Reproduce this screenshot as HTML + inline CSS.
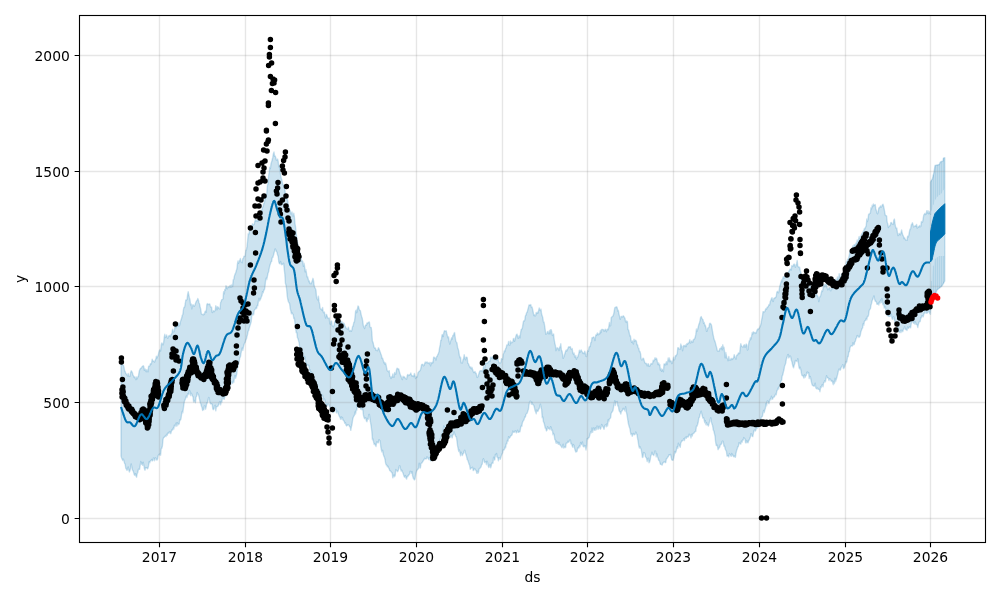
<!DOCTYPE html>
<html><head><meta charset="utf-8"><title>Forecast</title>
<style>html,body{margin:0;padding:0;background:#fff}svg{display:block;will-change:transform}</style></head>
<body>
<svg width="1000" height="600" viewBox="0 0 1000 600">
<rect width="1000" height="600" fill="#fff"/>
<path d="M121,361.6 L121.6,363.9 L122.2,364.3 L122.8,365 L123.4,365.1 L124,367.1 L124.6,370.7 L125.2,371.6 L125.8,373.7 L126.4,373.9 L127,375 L127.6,375.9 L128.2,373.4 L128.8,376.1 L129.4,376.3 L130,376.2 L130.6,372.4 L131.2,370.8 L131.8,371.4 L132.4,372.8 L133,375.1 L133.6,375.9 L134.2,377.6 L134.8,376.7 L135.4,378.5 L136,379.7 L136.6,376.9 L137.2,378.9 L137.8,376.9 L138.4,376.3 L139,372.4 L139.6,370 L140.2,368.9 L140.8,368.1 L141.4,368.1 L142,366.7 L142.6,366.2 L143.2,365.7 L143.8,366.7 L144.4,370.3 L145,368.8 L145.6,370.4 L146.2,371.8 L146.8,369.6 L147.4,370.5 L148,371.9 L148.6,366.2 L149.2,366.2 L149.8,365.7 L150.4,363.6 L151,364.3 L151.6,362.8 L152.2,359.2 L152.8,360.9 L153.4,361 L154,361.4 L154.6,362 L155.2,360.3 L155.8,359.1 L156.4,356.1 L157,358 L157.6,356.4 L158.2,355.4 L158.8,352.3 L159.4,350.6 L160,349.6 L160.6,351.1 L161.2,345.2 L161.8,342.9 L162.4,343.8 L163,344.9 L163.6,342.8 L164.2,337.3 L164.8,334.3 L165.4,337.5 L166,336.4 L166.6,335 L167.2,337.5 L167.8,338.2 L168.4,336.6 L169,335.7 L169.6,335.4 L170.2,336.7 L170.8,335.1 L171.4,334 L172,333.2 L172.6,329.1 L173.2,331.8 L173.8,331.8 L174.4,330.7 L175,325.9 L175.6,325.9 L176.2,327.9 L176.8,323.8 L177.4,324.6 L178,326.4 L178.6,322.9 L179.2,325.9 L179.8,324.8 L180.4,321.8 L181,319.9 L181.6,318.3 L182.2,315.4 L182.8,314.6 L183.4,309.9 L184,307.2 L184.6,307.2 L185.2,304 L185.8,300 L186.4,300.1 L187,299.5 L187.6,294.7 L188.2,291.6 L188.8,295 L189.4,297.7 L190,299.8 L190.6,304.8 L191.2,304.1 L191.8,308.9 L192.4,305.9 L193,304.6 L193.6,305.7 L194.2,306.3 L194.8,305.4 L195.4,303.6 L196,302 L196.6,300.8 L197.2,300.4 L197.8,298.4 L198.4,299.9 L199,302.7 L199.6,304.1 L200.2,307.3 L200.8,309.5 L201.4,314 L202,314.2 L202.6,314.5 L203.2,314.9 L203.8,314 L204.4,314.4 L205,311.6 L205.6,311 L206.2,312.2 L206.8,304.7 L207.4,303.6 L208,304.6 L208.6,304.3 L209.2,303.9 L209.8,303.9 L210.4,306.4 L211,307.4 L211.6,307.1 L212.2,312.5 L212.8,311.7 L213.4,310.7 L214,311.8 L214.6,311 L215.2,310.5 L215.8,305.7 L216.4,307.2 L217,309.8 L217.6,306.8 L218.2,307.1 L218.8,308.5 L219.4,308.4 L220,309 L220.6,302.5 L221.2,301.2 L221.8,299.6 L222.4,299.5 L223,299 L223.6,291.6 L224.2,293.9 L224.8,289.4 L225.4,290.1 L226,285.7 L226.6,287.1 L227.2,288.9 L227.8,287.2 L228.4,286.8 L229,287.4 L229.6,286.3 L230.2,285.3 L230.8,287.3 L231.4,287 L232,284.4 L232.6,286.6 L233.2,279.8 L233.8,279.4 L234.4,276.1 L235,274.2 L235.6,273.2 L236.2,270.8 L236.8,269.3 L237.4,264 L238,260.9 L238.6,263.3 L239.2,261.2 L239.8,260 L240.4,258.5 L241,261.9 L241.6,261.9 L242.2,262.7 L242.8,258.7 L243.4,258.4 L244,256.1 L244.6,256.2 L245.2,256 L245.8,250.3 L246.4,249.9 L247,246.4 L247.6,241 L248.2,233.8 L248.8,234.4 L249.4,231.4 L250,228.9 L250.6,228.8 L251.2,227.9 L251.8,228.5 L252.4,223.8 L253,224.8 L253.6,224.8 L254.2,224.3 L254.8,221.5 L255.4,219.4 L256,221.3 L256.6,220.4 L257.2,219.8 L257.8,221.5 L258.4,219.2 L259,215 L259.6,216.3 L260.2,213.6 L260.8,214.8 L261.4,212.9 L262,209.2 L262.6,207.3 L263.2,206.4 L263.8,203.4 L264.4,202.7 L265,198.7 L265.6,197.5 L266.2,195.9 L266.8,192.9 L267.4,185.8 L268,183.5 L268.6,175.9 L269.2,172.2 L269.8,167.1 L270.4,168.5 L271,163.6 L271.6,162.1 L272.2,159.6 L272.8,157.2 L273.4,153.7 L274,152 L274.6,156.4 L275.2,156.1 L275.8,157.7 L276.4,160 L277,159.9 L277.6,159.1 L278.2,161.3 L278.8,166.8 L279.4,166.1 L280,169.3 L280.6,174.7 L281.2,178 L281.8,179.7 L282.4,183.1 L283,184.8 L283.6,184.8 L284.2,185.7 L284.8,189.1 L285.4,194.3 L286,195.4 L286.6,197 L287.2,199.6 L287.8,201 L288.4,205.5 L289,207.2 L289.6,212 L290.2,210.3 L290.8,213.8 L291.4,213.7 L292,211.9 L292.6,215.9 L293.2,215.9 L293.8,213.1 L294.4,217.1 L295,223.5 L295.6,227.3 L296.2,233.3 L296.8,238.1 L297.4,241.9 L298,244.8 L298.6,249.6 L299.2,252.4 L299.8,255.3 L300.4,253.1 L301,257.9 L301.6,261.3 L302.2,260.8 L302.8,261.4 L303.4,266.4 L304,263.2 L304.6,266.6 L305.2,271.9 L305.8,269.4 L306.4,272.5 L307,276.9 L307.6,276.6 L308.2,279 L308.8,281.7 L309.4,281.1 L310,283.6 L310.6,283.5 L311.2,283.8 L311.8,282 L312.4,280.6 L313,278.3 L313.6,281.2 L314.2,285.8 L314.8,287.7 L315.4,288.4 L316,290.2 L316.6,297.6 L317.2,299 L317.8,299.9 L318.4,296.2 L319,301.4 L319.6,304.2 L320.2,308.4 L320.8,309.1 L321.4,309.1 L322,310.4 L322.6,307.5 L323.2,311.8 L323.8,312.8 L324.4,312 L325,315.5 L325.6,318.1 L326.2,314.4 L326.8,314.9 L327.4,317.1 L328,318.3 L328.6,318.4 L329.2,318 L329.8,323.5 L330.4,324.2 L331,321.5 L331.6,320.9 L332.2,325.7 L332.8,325.7 L333.4,326.8 L334,325.3 L334.6,321.8 L335.2,322.1 L335.8,318.1 L336.4,318.7 L337,319.7 L337.6,320.8 L338.2,319.1 L338.8,319.7 L339.4,321 L340,321.5 L340.6,322.2 L341.2,321.9 L341.8,321.3 L342.4,323.6 L343,323.8 L343.6,323 L344.2,323.7 L344.8,325.5 L345.4,326.6 L346,327.9 L346.6,328.5 L347.2,329 L347.8,328.8 L348.4,327.1 L349,329.4 L349.6,331.4 L350.2,331.2 L350.8,330.3 L351.4,331.2 L352,329.4 L352.6,326.4 L353.2,325.9 L353.8,322.4 L354.4,322 L355,317.1 L355.6,311.1 L356.2,310 L356.8,312.7 L357.4,309.2 L358,305.9 L358.6,306.6 L359.2,309.3 L359.8,310.4 L360.4,310.7 L361,314 L361.6,316.4 L362.2,318.1 L362.8,321.6 L363.4,326 L364,327.1 L364.6,328.6 L365.2,325.8 L365.8,324.9 L366.4,325.3 L367,323 L367.6,323.6 L368.2,322.3 L368.8,322.4 L369.4,322 L370,327 L370.6,327.5 L371.2,327.4 L371.8,332.2 L372.4,341.3 L373,342.1 L373.6,345 L374.2,347.5 L374.8,348.2 L375.4,348 L376,350.4 L376.6,350.3 L377.2,350.8 L377.8,349.9 L378.4,347.7 L379,348.7 L379.6,350.6 L380.2,352.1 L380.8,353.8 L381.4,355.2 L382,358.4 L382.6,358.1 L383.2,359.9 L383.8,362.8 L384.4,362.2 L385,364.2 L385.6,363 L386.2,365.4 L386.8,369 L387.4,370.9 L388,371.2 L388.6,371.8 L389.2,370.7 L389.8,376.3 L390.4,376.8 L391,378.6 L391.6,376.7 L392.2,377.3 L392.8,374 L393.4,376.5 L394,377.2 L394.6,372.5 L395.2,373.3 L395.8,374.2 L396.4,370.3 L397,368.3 L397.6,368.4 L398.2,369.2 L398.8,369 L399.4,371.8 L400,373.6 L400.6,375.4 L401.2,376.6 L401.8,378.8 L402.4,379.6 L403,376.3 L403.6,377 L404.2,376.8 L404.8,377.3 L405.4,378.6 L406,378.7 L406.6,379.1 L407.2,375.5 L407.8,374.4 L408.4,375.6 L409,375.3 L409.6,374.7 L410.2,374.4 L410.8,372.9 L411.4,375.1 L412,376 L412.6,376.1 L413.2,375.6 L413.8,376.7 L414.4,373.5 L415,375.6 L415.6,378.5 L416.2,376.7 L416.8,377.3 L417.4,376.5 L418,372.8 L418.6,372.3 L419.2,371.1 L419.8,370.9 L420.4,370.1 L421,367.8 L421.6,364.7 L422.2,364.3 L422.8,364.5 L423.4,365.8 L424,365.5 L424.6,363.7 L425.2,362 L425.8,362.9 L426.4,362.6 L427,361.8 L427.6,363 L428.2,362.7 L428.8,363.2 L429.4,363.8 L430,362.3 L430.6,365.9 L431.2,362.6 L431.8,363.5 L432.4,362 L433,362.8 L433.6,357.2 L434.2,357.3 L434.8,358 L435.4,358 L436,360.1 L436.6,356.7 L437.2,356.3 L437.8,354.6 L438.4,353.5 L439,351.6 L439.6,347.5 L440.2,345.3 L440.8,340.2 L441.4,340.2 L442,334.9 L442.6,334.6 L443.2,336.6 L443.8,332.6 L444.4,330.7 L445,331 L445.6,331.2 L446.2,330.8 L446.8,333.4 L447.4,335.7 L448,337.7 L448.6,336.9 L449.2,341.6 L449.8,344.1 L450.4,341.6 L451,340.1 L451.6,337.7 L452.2,339.1 L452.8,335.5 L453.4,335.8 L454,333.3 L454.6,332.6 L455.2,337 L455.8,341.2 L456.4,342.2 L457,343 L457.6,347.4 L458.2,349 L458.8,351.4 L459.4,355.6 L460,357.8 L460.6,357.2 L461.2,362.9 L461.8,362.6 L462.4,362.9 L463,359.6 L463.6,358.6 L464.2,354.7 L464.8,358.3 L465.4,359.8 L466,357.4 L466.6,357.1 L467.2,357.7 L467.8,363.4 L468.4,363.6 L469,365.3 L469.6,366.4 L470.2,367.8 L470.8,366.9 L471.4,368.8 L472,367.5 L472.6,369.6 L473.2,371.3 L473.8,372.6 L474.4,372.3 L475,371.5 L475.6,373.3 L476.2,373.3 L476.8,377 L477.4,377.4 L478,376.5 L478.6,374.4 L479.2,372.7 L479.8,371 L480.4,370.7 L481,371 L481.6,370.8 L482.2,370.2 L482.8,371.8 L483.4,367.2 L484,366.1 L484.6,369.9 L485.2,363.4 L485.8,362.9 L486.4,363.4 L487,363.2 L487.6,363.1 L488.2,361.7 L488.8,361.7 L489.4,360.9 L490,361.3 L490.6,357.2 L491.2,357.3 L491.8,358.6 L492.4,357.3 L493,356.6 L493.6,359 L494.2,357.6 L494.8,359.1 L495.4,359.6 L496,359 L496.6,360.1 L497.2,360 L497.8,358.5 L498.4,360.8 L499,362.9 L499.6,362.7 L500.2,363 L500.8,362.7 L501.4,358.8 L502,358.7 L502.6,359.4 L503.2,354.6 L503.8,352.9 L504.4,350.7 L505,351.4 L505.6,348.6 L506.2,347.8 L506.8,345 L507.4,344.9 L508,344.6 L508.6,341.4 L509.2,345.2 L509.8,345.4 L510.4,340.9 L511,343.1 L511.6,342.2 L512.2,342.5 L512.8,342 L513.4,338.5 L514,338.9 L514.6,341.4 L515.2,338.6 L515.8,336.5 L516.4,334.8 L517,334.1 L517.6,335.9 L518.2,338.4 L518.8,336.8 L519.4,335.6 L520,337.9 L520.6,332.7 L521.2,329.5 L521.8,329.1 L522.4,327.9 L523,323.7 L523.6,320.9 L524.2,321.1 L524.8,319.9 L525.4,315.8 L526,315 L526.6,312.7 L527.2,312.1 L527.8,309.6 L528.4,307.4 L529,304.9 L529.6,304.9 L530.2,305.3 L530.8,304.6 L531.4,307.4 L532,306.9 L532.6,309.2 L533.2,312.1 L533.8,315.5 L534.4,314.7 L535,316 L535.6,315.7 L536.2,312.5 L536.8,313.4 L537.4,312.2 L538,313.1 L538.6,310.6 L539.2,308 L539.8,309.9 L540.4,310.6 L541,309.1 L541.6,314 L542.2,315.7 L542.8,317.6 L543.4,321.9 L544,322 L544.6,325.4 L545.2,329.5 L545.8,334.2 L546.4,333.7 L547,333.5 L547.6,331.5 L548.2,332 L548.8,333.9 L549.4,330.5 L550,333.8 L550.6,329.7 L551.2,329.8 L551.8,332 L552.4,335.5 L553,334.4 L553.6,334 L554.2,339.5 L554.8,343.1 L555.4,345.4 L556,350.7 L556.6,348.3 L557.2,347.7 L557.8,348.8 L558.4,348.5 L559,350.6 L559.6,346.9 L560.2,347.5 L560.8,343.7 L561.4,350.1 L562,351.1 L562.6,354.4 L563.2,358.3 L563.8,356.9 L564.4,355.3 L565,353.3 L565.6,351.2 L566.2,350.1 L566.8,351 L567.4,349.5 L568,348.3 L568.6,346.8 L569.2,347.2 L569.8,346.7 L570.4,346.8 L571,349 L571.6,349.2 L572.2,348.5 L572.8,353.2 L573.4,354.1 L574,352.9 L574.6,356.5 L575.2,357.4 L575.8,355.4 L576.4,359.2 L577,357.6 L577.6,357.3 L578.2,355.4 L578.8,353.6 L579.4,350.1 L580,352.3 L580.6,350.9 L581.2,349.9 L581.8,351.4 L582.4,352 L583,353.6 L583.6,352.9 L584.2,353.7 L584.8,351.1 L585.4,353.4 L586,356.4 L586.6,356.5 L587.2,352.6 L587.8,350.5 L588.4,351.3 L589,347.4 L589.6,346.5 L590.2,346.6 L590.8,342.8 L591.4,342.2 L592,337.7 L592.6,337.8 L593.2,337.2 L593.8,337 L594.4,338.3 L595,340.5 L595.6,336.1 L596.2,334.5 L596.8,335.3 L597.4,332.9 L598,334.3 L598.6,334.7 L599.2,333.2 L599.8,333.7 L600.4,330.4 L601,332.7 L601.6,329.5 L602.2,329.5 L602.8,329.5 L603.4,329.6 L604,331.4 L604.6,330.5 L605.2,329.2 L605.8,330 L606.4,331.8 L607,329.6 L607.6,329.2 L608.2,329.8 L608.8,327 L609.4,322.5 L610,325.9 L610.6,325.6 L611.2,317.7 L611.8,317 L612.4,316.4 L613,316 L613.6,314.3 L614.2,311.1 L614.8,307.7 L615.4,307.2 L616,307.5 L616.6,306.7 L617.2,307.8 L617.8,311.1 L618.4,310.4 L619,314.1 L619.6,316.4 L620.2,319.2 L620.8,317.5 L621.4,316.4 L622,316.5 L622.6,316.9 L623.2,315.8 L623.8,316.3 L624.4,317.4 L625,318.3 L625.6,321.9 L626.2,320.8 L626.8,322.5 L627.4,321.4 L628,329.6 L628.6,329.8 L629.2,332.5 L629.8,335.9 L630.4,335.7 L631,340.1 L631.6,342.4 L632.2,340.8 L632.8,342.4 L633.4,344 L634,339.1 L634.6,341.2 L635.2,340.5 L635.8,340.2 L636.4,341.4 L637,344.8 L637.6,344.8 L638.2,347.9 L638.8,348.2 L639.4,351.5 L640,351.4 L640.6,353.8 L641.2,358.9 L641.8,360 L642.4,359.7 L643,358.1 L643.6,358.5 L644.2,360.6 L644.8,362.8 L645.4,363.1 L646,363.8 L646.6,363.4 L647.2,365.9 L647.8,364.3 L648.4,363.8 L649,366.3 L649.6,366.2 L650.2,365.5 L650.8,363.9 L651.4,363.4 L652,364.1 L652.6,363.4 L653.2,360.1 L653.8,361 L654.4,360.5 L655,357.8 L655.6,359.3 L656.2,358.2 L656.8,359 L657.4,361.9 L658,364.5 L658.6,363 L659.2,365 L659.8,364.4 L660.4,370.1 L661,368.4 L661.6,371.3 L662.2,369.3 L662.8,369.9 L663.4,371.7 L664,364 L664.6,364 L665.2,364.9 L665.8,363.6 L666.4,361.6 L667,364.7 L667.6,361.9 L668.2,357.9 L668.8,360.9 L669.4,358 L670,361.8 L670.6,360.4 L671.2,361.3 L671.8,363.6 L672.4,362.7 L673,360.1 L673.6,357.2 L674.2,359.9 L674.8,359.2 L675.4,355.6 L676,356.1 L676.6,354.8 L677.2,353.7 L677.8,347.7 L678.4,347.8 L679,348.9 L679.6,349.2 L680.2,349.4 L680.8,344 L681.4,346.1 L682,347.2 L682.6,350.7 L683.2,346.2 L683.8,345.4 L684.4,345.6 L685,346.8 L685.6,344.9 L686.2,346.6 L686.8,343.8 L687.4,344.3 L688,343 L688.6,343.4 L689.2,341.9 L689.8,339.7 L690.4,343 L691,342.6 L691.6,340.9 L692.2,341.2 L692.8,342.4 L693.4,339.4 L694,339.5 L694.6,338.8 L695.2,337.3 L695.8,334.2 L696.4,329 L697,331.4 L697.6,329.5 L698.2,327.1 L698.8,324.6 L699.4,323.3 L700,320.6 L700.6,317.4 L701.2,316.6 L701.8,318 L702.4,319.3 L703,319.6 L703.6,323.4 L704.2,322.4 L704.8,325.9 L705.4,325.3 L706,328 L706.6,331.4 L707.2,330.8 L707.8,328 L708.4,327.7 L709,327.2 L709.6,323.4 L710.2,323.3 L710.8,323.9 L711.4,324.8 L712,328.1 L712.6,332 L713.2,335.1 L713.8,338 L714.4,340.2 L715,341.3 L715.6,343.7 L716.2,345.9 L716.8,348.2 L717.4,350.9 L718,351 L718.6,351.2 L719.2,351 L719.8,348.6 L720.4,348.5 L721,348.6 L721.6,346.7 L722.2,349.8 L722.8,344.8 L723.4,347.9 L724,347.2 L724.6,352.4 L725.2,357.9 L725.8,352.4 L726.4,355.6 L727,358.3 L727.6,358.8 L728.2,360.7 L728.8,356.5 L729.4,359.9 L730,360.2 L730.6,359.6 L731.2,358.3 L731.8,359.8 L732.4,358.4 L733,358.9 L733.6,357.8 L734.2,354.6 L734.8,356.9 L735.4,358 L736,359.2 L736.6,355.6 L737.2,354.8 L737.8,354.7 L738.4,352.9 L739,353.2 L739.6,353.6 L740.2,348.1 L740.8,343.7 L741.4,345.7 L742,346.6 L742.6,346.9 L743.2,347.1 L743.8,345.2 L744.4,344.7 L745,347.4 L745.6,345.8 L746.2,344 L746.8,345.1 L747.4,350 L748,349.5 L748.6,344.1 L749.2,341.1 L749.8,340.5 L750.4,337.7 L751,339 L751.6,336.2 L752.2,332.5 L752.8,334.1 L753.4,331.8 L754,332.6 L754.6,332.7 L755.2,332.4 L755.8,333.5 L756.4,332.4 L757,330.3 L757.6,329.1 L758.2,329.6 L758.8,328.6 L759.4,328 L760,326.4 L760.6,325.3 L761.2,322.7 L761.8,319 L762.4,316.3 L763,311.7 L763.6,311.8 L764.2,311.9 L764.8,311.6 L765.4,309.8 L766,308.4 L766.6,309.1 L767.2,307.2 L767.8,307 L768.4,306.1 L769,304.5 L769.6,305.1 L770.2,301.7 L770.8,300.4 L771.4,298.7 L772,297.7 L772.6,300.6 L773.2,301.5 L773.8,298.5 L774.4,297.9 L775,298.1 L775.6,297.1 L776.2,296.9 L776.8,292.4 L777.4,291.3 L778,292.2 L778.6,292.7 L779.2,289.6 L779.8,285.9 L780.4,284.3 L781,282.1 L781.6,279.9 L782.2,281.9 L782.8,278 L783.4,276.6 L784,278.4 L784.6,277.5 L785.2,275.4 L785.8,272.8 L786.4,273.1 L787,274.8 L787.6,273.4 L788.2,273.5 L788.8,271.3 L789.4,270.8 L790,269.1 L790.6,269.1 L791.2,270.1 L791.8,265.7 L792.4,266 L793,266.2 L793.6,264.5 L794.2,264 L794.8,265.2 L795.4,267.2 L796,265.3 L796.6,263.7 L797.2,260.5 L797.8,266.5 L798.4,266.7 L799,267.6 L799.6,267.2 L800.2,270.4 L800.8,272.3 L801.4,276.9 L802,281.2 L802.6,284.1 L803.2,286.3 L803.8,283.9 L804.4,286.2 L805,283.2 L805.6,279.8 L806.2,280.8 L806.8,279.7 L807.4,278.5 L808,278.7 L808.6,281.2 L809.2,280.5 L809.8,282.7 L810.4,286.8 L811,287.8 L811.6,287.6 L812.2,288.7 L812.8,289.5 L813.4,290.3 L814,292.1 L814.6,291.9 L815.2,288.6 L815.8,292 L816.4,292.5 L817,295.8 L817.6,295.6 L818.2,297.4 L818.8,301.6 L819.4,297.9 L820,296.6 L820.6,295.9 L821.2,293.2 L821.8,290.7 L822.4,291.6 L823,288.6 L823.6,285.5 L824.2,284.4 L824.8,286.7 L825.4,284.7 L826,283.9 L826.6,285.5 L827.2,287.8 L827.8,289.8 L828.4,289.2 L829,287.8 L829.6,287.5 L830.2,290.2 L830.8,290.7 L831.4,288.2 L832,288.6 L832.6,288.7 L833.2,287.9 L833.8,285.5 L834.4,282.5 L835,281.8 L835.6,279.1 L836.2,281.7 L836.8,280.6 L837.4,276.9 L838,279.4 L838.6,278.9 L839.2,273.7 L839.8,277.4 L840.4,276.9 L841,278.5 L841.6,273.6 L842.2,274.6 L842.8,274.5 L843.4,273.9 L844,273.5 L844.6,272.9 L845.2,267.3 L845.8,264.5 L846.4,262 L847,261.2 L847.6,259.6 L848.2,259.2 L848.8,257.2 L849.4,254.6 L850,251 L850.6,249.7 L851.2,250.8 L851.8,250 L852.4,247.9 L853,245.7 L853.6,247.7 L854.2,244.5 L854.8,244.9 L855.4,245.5 L856,242.9 L856.6,243.3 L857.2,239.9 L857.8,241.7 L858.4,240.6 L859,236.8 L859.6,238.7 L860.2,236.3 L860.8,238 L861.4,234.7 L862,233.5 L862.6,233.1 L863.2,231.2 L863.8,230.7 L864.4,228.4 L865,228.8 L865.6,227.1 L866.2,225.8 L866.8,219 L867.4,221.6 L868,219.3 L868.6,214.3 L869.2,214.2 L869.8,213.4 L870.4,212.8 L871,207.8 L871.6,208.9 L872.2,205.2 L872.8,206.7 L873.4,204 L874,205.5 L874.6,205.1 L875.2,204.6 L875.8,208.7 L876.4,210.7 L877,213.1 L877.6,213.7 L878.2,211.6 L878.8,208 L879.4,207.8 L880,207 L880.6,205.9 L881.2,207.1 L881.8,206.5 L882.4,204.7 L883,204.2 L883.6,206.2 L884.2,209.1 L884.8,212.5 L885.4,215.6 L886,215.6 L886.6,215.8 L887.2,222.2 L887.8,223.9 L888.4,227.6 L889,226.1 L889.6,225.8 L890.2,225.7 L890.8,222.7 L891.4,222.5 L892,223.8 L892.6,224.2 L893.2,224.5 L893.8,220.1 L894.4,219.1 L895,223.5 L895.6,227.1 L896.2,228.5 L896.8,228 L897.4,232.5 L898,235.5 L898.6,235.3 L899.2,233.4 L899.8,233.9 L900.4,234.8 L901,232.8 L901.6,230 L902.2,232.8 L902.8,235.2 L903.4,236 L904,238.5 L904.6,237.8 L905.2,239.1 L905.8,240 L906.4,240.4 L907,240.4 L907.6,236.1 L908.2,237 L908.8,235.2 L909.4,232 L910,229.2 L910.6,228.9 L911.2,225 L911.8,224.3 L912.4,222.7 L913,224.7 L913.6,226.9 L914.2,226.4 L914.8,226.2 L915.4,225.5 L916,226.3 L916.6,224.4 L917.2,228.1 L917.8,227.5 L918.4,226.5 L919,227.1 L919.6,225.5 L920.2,226.7 L920.8,226.4 L921.4,221.5 L922,222.5 L922.6,221.8 L923.2,218.3 L923.8,214.9 L924.4,214.1 L925,213.3 L925.6,214.6 L926.2,213.8 L926.8,210.6 L927.4,213 L928,210.7 L928.6,213.7 L929.2,211.6 L929.8,212.9 L930.4,213.8 L930.5,214.4 L930.5,182 L931,181.1 L931.5,180.2 L932,179.4 L932.5,178.5 L933,176.3 L933.5,174.2 L934,172 L934.5,168.8 L935,165.5 L935.5,165.4 L936,165.3 L936.5,165.2 L937,165 L937.5,164.9 L938,164.8 L938.5,164.7 L939,164.6 L939.5,163.9 L940,162.6 L940.5,161.9 L941,161.7 L941.5,161.5 L942,161.4 L942.5,161.2 L943,161 L943.5,158 L944,157.9 L944.5,157.8 L944.8,157.8 L944.8,281 L944.5,281.5 L944,282.4 L943.5,283.3 L943,284.2 L942.5,285.1 L942,286 L941.5,286.4 L941,286.8 L940.5,287.2 L940,287.6 L939.5,288 L939,288.4 L938.5,288.8 L938,289.2 L937.5,289.6 L937,290 L936.5,291.3 L936,292.7 L935.5,294 L935,295.3 L934.5,296.7 L934,298 L933.5,299.3 L933,300.7 L932.5,302 L932,303.3 L931.5,304.7 L931,306 L930.5,312 L930.5,314.2 L930.4,312.4 L929.8,313.7 L929.2,311.5 L928.6,311 L928,312 L927.4,313 L926.8,313.3 L926.2,312.3 L925.6,308.3 L925,313.2 L924.4,313.1 L923.8,314.3 L923.2,316.8 L922.6,316.1 L922,315.5 L921.4,317.7 L920.8,317.4 L920.2,321.6 L919.6,321.8 L919,322.2 L918.4,324.2 L917.8,327.6 L917.2,324.8 L916.6,324.5 L916,324.2 L915.4,322 L914.8,324.1 L914.2,321.7 L913.6,323.3 L913,322 L912.4,320.7 L911.8,321.1 L911.2,324 L910.6,327.9 L910,327.1 L909.4,326.7 L908.8,328.1 L908.2,328.5 L907.6,326.9 L907,330.5 L906.4,329.4 L905.8,329.6 L905.2,329.1 L904.6,326.8 L904,328.6 L903.4,329.2 L902.8,331.7 L902.2,330.7 L901.6,330.2 L901,332.5 L900.4,330.3 L899.8,332.5 L899.2,331.7 L898.6,331.7 L898,329.9 L897.4,326.4 L896.8,324.7 L896.2,322.3 L895.6,323.8 L895,322.4 L894.4,319.6 L893.8,317 L893.2,317 L892.6,319.3 L892,318.5 L891.4,314.7 L890.8,313.8 L890.2,316.3 L889.6,316.4 L889,316.6 L888.4,316.4 L887.8,313.5 L887.2,315.5 L886.6,314.7 L886,311.8 L885.4,306.9 L884.8,307.3 L884.2,308.1 L883.6,303.5 L883,304.9 L882.4,301.3 L881.8,298.5 L881.2,302.6 L880.6,300 L880,303.1 L879.4,301.9 L878.8,305 L878.2,303.1 L877.6,304.2 L877,304.3 L876.4,302.1 L875.8,301.2 L875.2,301.4 L874.6,298.9 L874,295.9 L873.4,297.2 L872.8,299.4 L872.2,300.6 L871.6,303.4 L871,305.3 L870.4,309 L869.8,309.3 L869.2,310.6 L868.6,314.9 L868,316.6 L867.4,316.4 L866.8,319.8 L866.2,318.4 L865.6,320.4 L865,320.7 L864.4,321.4 L863.8,325.3 L863.2,323.6 L862.6,328.1 L862,328.7 L861.4,330.4 L860.8,332.3 L860.2,335.6 L859.6,336.7 L859,337.4 L858.4,336.2 L857.8,336.3 L857.2,335.5 L856.6,338 L856,338.5 L855.4,341.2 L854.8,341.9 L854.2,344.6 L853.6,344.7 L853,342.7 L852.4,346 L851.8,345.7 L851.2,346.1 L850.6,346.2 L850,348 L849.4,351.9 L848.8,352 L848.2,356.6 L847.6,356.5 L847,361 L846.4,362.8 L845.8,361.6 L845.2,364.8 L844.6,366.9 L844,368.1 L843.4,368.6 L842.8,364.6 L842.2,365.8 L841.6,366.6 L841,367.9 L840.4,370.1 L839.8,370.1 L839.2,369 L838.6,369.8 L838,372.9 L837.4,375.3 L836.8,377.8 L836.2,379.4 L835.6,381.5 L835,378.1 L834.4,383.6 L833.8,381.3 L833.2,384.7 L832.6,382.2 L832,380.4 L831.4,381.3 L830.8,380.2 L830.2,379 L829.6,378.7 L829,380.6 L828.4,378.1 L827.8,377.8 L827.2,377.9 L826.6,375.7 L826,378.6 L825.4,381.8 L824.8,380.7 L824.2,382.3 L823.6,382.8 L823,386.8 L822.4,384.8 L821.8,385.1 L821.2,387.6 L820.6,386.9 L820,391.7 L819.4,389.6 L818.8,389.4 L818.2,389.2 L817.6,388 L817,388.9 L816.4,388.6 L815.8,387.8 L815.2,383.1 L814.6,386 L814,386.2 L813.4,385.9 L812.8,385.4 L812.2,385.2 L811.6,382.8 L811,380 L810.4,376.9 L809.8,376.4 L809.2,378.6 L808.6,372.5 L808,373.5 L807.4,372 L806.8,372.4 L806.2,375.5 L805.6,376 L805,377.6 L804.4,374.8 L803.8,378.1 L803.2,376.1 L802.6,375.7 L802,375.5 L801.4,373.2 L800.8,369.7 L800.2,367.1 L799.6,368.9 L799,367.4 L798.4,363.3 L797.8,358.6 L797.2,361.6 L796.6,361.1 L796,360.7 L795.4,360.5 L794.8,363.7 L794.2,365.1 L793.6,367.8 L793,366.7 L792.4,364 L791.8,361.4 L791.2,359.7 L790.6,356.6 L790,356 L789.4,356.9 L788.8,357.9 L788.2,354.4 L787.6,355.2 L787,357.6 L786.4,358.9 L785.8,362.9 L785.2,364.8 L784.6,365.8 L784,369.8 L783.4,371.9 L782.8,374.9 L782.2,375.9 L781.6,380.6 L781,380.8 L780.4,383.7 L779.8,386.1 L779.2,386.3 L778.6,389 L778,388 L777.4,390.2 L776.8,391.2 L776.2,394.8 L775.6,394.3 L775,395.3 L774.4,396.9 L773.8,397.2 L773.2,397.2 L772.6,399.2 L772,398.8 L771.4,396.3 L770.8,399.8 L770.2,399.1 L769.6,400.3 L769,403.7 L768.4,402.6 L767.8,401 L767.2,401.2 L766.6,405.8 L766,403.4 L765.4,408.3 L764.8,410.1 L764.2,412.5 L763.6,410.5 L763,413.2 L762.4,416.5 L761.8,416.5 L761.2,417.7 L760.6,421.9 L760,422.1 L759.4,422.3 L758.8,425.8 L758.2,427.5 L757.6,427.2 L757,428.4 L756.4,428 L755.8,430.2 L755.2,431 L754.6,430 L754,430.7 L753.4,433.3 L752.8,436.6 L752.2,436.4 L751.6,434.6 L751,433.7 L750.4,436.9 L749.8,438.4 L749.2,440 L748.6,440.9 L748,442.9 L747.4,442.2 L746.8,440.4 L746.2,442.8 L745.6,442.8 L745,438.9 L744.4,438.5 L743.8,437.5 L743.2,440.1 L742.6,439.9 L742,442.2 L741.4,441.2 L740.8,444.1 L740.2,443.8 L739.6,443.5 L739,442.7 L738.4,446.5 L737.8,446.7 L737.2,449 L736.6,450.6 L736,453.4 L735.4,457.3 L734.8,455.9 L734.2,456.9 L733.6,456.7 L733,455.1 L732.4,455.4 L731.8,453.5 L731.2,456.4 L730.6,455.3 L730,454.5 L729.4,453.5 L728.8,457 L728.2,455.7 L727.6,455.8 L727,456 L726.4,451.2 L725.8,450.3 L725.2,449 L724.6,446.2 L724,446.4 L723.4,442.6 L722.8,441.1 L722.2,441.4 L721.6,443.7 L721,444.6 L720.4,444.4 L719.8,447 L719.2,447.8 L718.6,448.6 L718,449.7 L717.4,445.2 L716.8,445.7 L716.2,445.4 L715.6,442 L715,436 L714.4,433.5 L713.8,430.9 L713.2,429.8 L712.6,425.6 L712,424 L711.4,422.1 L710.8,417.8 L710.2,419.6 L709.6,421.5 L709,423.9 L708.4,426 L707.8,425.1 L707.2,425.1 L706.6,422.7 L706,424.9 L705.4,420.8 L704.8,422.8 L704.2,420.3 L703.6,417.6 L703,418.2 L702.4,416.4 L701.8,413.9 L701.2,411.3 L700.6,413 L700,414.6 L699.4,417.5 L698.8,417.8 L698.2,422.3 L697.6,424.5 L697,426.3 L696.4,426.3 L695.8,431.4 L695.2,431.5 L694.6,432.2 L694,433.2 L693.4,433.4 L692.8,433.8 L692.2,436.1 L691.6,434.3 L691,438 L690.4,435.1 L689.8,435.2 L689.2,434.2 L688.6,436.2 L688,437.2 L687.4,436.4 L686.8,436.9 L686.2,438.4 L685.6,437.2 L685,438 L684.4,440.6 L683.8,438.6 L683.2,440.1 L682.6,440.9 L682,440.6 L681.4,442 L680.8,442.8 L680.2,447.4 L679.6,445.2 L679,446 L678.4,443.1 L677.8,448.4 L677.2,446.7 L676.6,449.2 L676,451.8 L675.4,453 L674.8,451.5 L674.2,455.6 L673.6,458.4 L673,460.4 L672.4,460.2 L671.8,459.9 L671.2,457.6 L670.6,454.5 L670,454.7 L669.4,455.1 L668.8,454.9 L668.2,456.9 L667.6,457.2 L667,458.5 L666.4,458.7 L665.8,462.4 L665.2,462.7 L664.6,461.6 L664,461.8 L663.4,462.7 L662.8,462.9 L662.2,465.1 L661.6,464.6 L661,464.3 L660.4,464.4 L659.8,462.3 L659.2,460.1 L658.6,460.2 L658,457.9 L657.4,456.4 L656.8,453.6 L656.2,456.9 L655.6,451.6 L655,451 L654.4,453.4 L653.8,455.6 L653.2,454.7 L652.6,454.6 L652,452.2 L651.4,454.8 L650.8,456 L650.2,459.9 L649.6,462.1 L649,462.8 L648.4,458.1 L647.8,458.8 L647.2,461.6 L646.6,458.5 L646,457.4 L645.4,456.7 L644.8,453.3 L644.2,452.9 L643.6,452.6 L643,457.1 L642.4,457.5 L641.8,453.2 L641.2,449.4 L640.6,448.3 L640,446.8 L639.4,448.1 L638.8,446 L638.2,441.8 L637.6,438.6 L637,434.7 L636.4,433.6 L635.8,431.9 L635.2,434.1 L634.6,434.6 L634,434.7 L633.4,433.4 L632.8,434.3 L632.2,436.4 L631.6,433.6 L631,434.6 L630.4,431.9 L629.8,428.2 L629.2,426.7 L628.6,424.6 L628,421.5 L627.4,417.3 L626.8,414 L626.2,411.3 L625.6,406.8 L625,411.1 L624.4,409.1 L623.8,409.4 L623.2,408.3 L622.6,410.1 L622,411 L621.4,411.3 L620.8,414 L620.2,411.8 L619.6,411.7 L619,410.3 L618.4,406.1 L617.8,406 L617.2,401.4 L616.6,402.3 L616,401.7 L615.4,405.5 L614.8,400.7 L614.2,404.2 L613.6,406.8 L613,410.6 L612.4,411.5 L611.8,412.4 L611.2,413.3 L610.6,417.8 L610,418.6 L609.4,418.9 L608.8,421.7 L608.2,419.6 L607.6,426 L607,423.6 L606.4,426.7 L605.8,424.9 L605.2,424.9 L604.6,426.5 L604,429.4 L603.4,427.6 L602.8,426.7 L602.2,425.4 L601.6,424.5 L601,428 L600.4,429.3 L599.8,428.1 L599.2,426.1 L598.6,428.3 L598,429.5 L597.4,426.2 L596.8,426.1 L596.2,429.7 L595.6,427.8 L595,430.4 L594.4,430 L593.8,427.8 L593.2,429.7 L592.6,432.3 L592,428 L591.4,432.8 L590.8,431.6 L590.2,433.5 L589.6,436.1 L589,437.7 L588.4,437.7 L587.8,439.2 L587.2,438.6 L586.6,445.6 L586,450 L585.4,446.2 L584.8,445.4 L584.2,446.8 L583.6,446.7 L583,446.1 L582.4,441.9 L581.8,444.5 L581.2,444.5 L580.6,442.5 L580,446.9 L579.4,445.8 L578.8,448 L578.2,447.4 L577.6,448.6 L577,451.5 L576.4,451.7 L575.8,452.1 L575.2,450.6 L574.6,448.4 L574,445.6 L573.4,444.6 L572.8,447.3 L572.2,446 L571.6,443.5 L571,443.9 L570.4,440.2 L569.8,439.9 L569.2,441.3 L568.6,442.3 L568,441.2 L567.4,442.7 L566.8,443.2 L566.2,443.3 L565.6,447.6 L565,446.9 L564.4,447.3 L563.8,448.1 L563.2,444.1 L562.6,446.2 L562,447.7 L561.4,446.6 L560.8,445.9 L560.2,444.8 L559.6,444.7 L559,442.2 L558.4,444.4 L557.8,442.3 L557.2,443.4 L556.6,441.2 L556,443.2 L555.4,440 L554.8,439.6 L554.2,434.8 L553.6,433.6 L553,434.8 L552.4,430.1 L551.8,430.4 L551.2,427.7 L550.6,426.7 L550,429.7 L549.4,428.3 L548.8,428.7 L548.2,428.5 L547.6,426.6 L547,430.2 L546.4,430.9 L545.8,428.4 L545.2,428.1 L544.6,425 L544,422.8 L543.4,421.7 L542.8,416.9 L542.2,417.8 L541.6,409.6 L541,407.2 L540.4,404.1 L539.8,406.3 L539.2,408.7 L538.6,409.2 L538,411.2 L537.4,411.2 L536.8,410.1 L536.2,413.8 L535.6,411.7 L535,410.6 L534.4,407.5 L533.8,405.5 L533.2,404.5 L532.6,404.6 L532,402.1 L531.4,404.3 L530.8,401.6 L530.2,401.2 L529.6,402.1 L529,405 L528.4,409.6 L527.8,411.1 L527.2,413 L526.6,413.7 L526,414.2 L525.4,417 L524.8,416.8 L524.2,419.3 L523.6,420.5 L523,421.2 L522.4,422.7 L521.8,426.3 L521.2,425.9 L520.6,427.9 L520,431.7 L519.4,431.8 L518.8,432.2 L518.2,432.4 L517.6,430.2 L517,431.4 L516.4,432.9 L515.8,431.5 L515.2,430.8 L514.6,432.1 L514,432.3 L513.4,432.2 L512.8,431.1 L512.2,434.3 L511.6,435.4 L511,435.7 L510.4,436.6 L509.8,437.7 L509.2,438.2 L508.6,436.7 L508,441.2 L507.4,440.5 L506.8,443.8 L506.2,443.8 L505.6,447.9 L505,447.1 L504.4,449.3 L503.8,450.2 L503.2,449.9 L502.6,453 L502,454.1 L501.4,455.6 L500.8,457.5 L500.2,459.4 L499.6,457.6 L499,457.6 L498.4,460.9 L497.8,457.7 L497.2,457.3 L496.6,453.5 L496,456.2 L495.4,454.3 L494.8,459.8 L494.2,460.1 L493.6,457.1 L493,463.3 L492.4,462.9 L491.8,463.2 L491.2,466.2 L490.6,467.9 L490,464.5 L489.4,465.9 L488.8,467.5 L488.2,465.9 L487.6,462.5 L487,461.2 L486.4,464.7 L485.8,461.6 L485.2,462.2 L484.6,462.6 L484,460.3 L483.4,458.7 L482.8,460 L482.2,464.2 L481.6,464.7 L481,467.2 L480.4,467.5 L479.8,468.6 L479.2,468.6 L478.6,472 L478,473.3 L477.4,471.1 L476.8,473.4 L476.2,470.5 L475.6,470.2 L475,469 L474.4,468.4 L473.8,470.2 L473.2,470.6 L472.6,467.2 L472,467.7 L471.4,468 L470.8,468.5 L470.2,469.2 L469.6,465.2 L469,464.1 L468.4,462.1 L467.8,460.3 L467.2,459.6 L466.6,456.6 L466,454.7 L465.4,452.9 L464.8,450.3 L464.2,450.9 L463.6,453.2 L463,453.7 L462.4,455.5 L461.8,454.1 L461.2,452.1 L460.6,455.9 L460,453.1 L459.4,450 L458.8,451.6 L458.2,449.1 L457.6,445.9 L457,441.3 L456.4,436.9 L455.8,436.6 L455.2,435.3 L454.6,433.6 L454,431.8 L453.4,434.5 L452.8,434.7 L452.2,437.9 L451.6,436.4 L451,435.3 L450.4,437.3 L449.8,436.2 L449.2,437.1 L448.6,434.3 L448,432.6 L447.4,430.4 L446.8,433 L446.2,429.4 L445.6,429.9 L445,427.9 L444.4,427 L443.8,426.1 L443.2,429.9 L442.6,432.5 L442,433.8 L441.4,434.6 L440.8,438.8 L440.2,438.7 L439.6,441.5 L439,446.2 L438.4,446.8 L437.8,447.8 L437.2,449.5 L436.6,452.5 L436,453.7 L435.4,453.9 L434.8,456.8 L434.2,460.2 L433.6,459.6 L433,459.3 L432.4,459 L431.8,459.5 L431.2,460.9 L430.6,460.9 L430,459.2 L429.4,457.4 L428.8,459.6 L428.2,458.4 L427.6,457.8 L427,456.8 L426.4,458.9 L425.8,458.7 L425.2,459 L424.6,458.2 L424,459.8 L423.4,460.4 L422.8,461.7 L422.2,462.5 L421.6,463.2 L421,463.6 L420.4,468 L419.8,467.5 L419.2,463.3 L418.6,468.6 L418,468.8 L417.4,470 L416.8,470.2 L416.2,472.4 L415.6,475.1 L415,478.9 L414.4,480 L413.8,479 L413.2,478.1 L412.6,475.9 L412,471.5 L411.4,473.4 L410.8,471.9 L410.2,471.2 L409.6,474 L409,474.9 L408.4,475.4 L407.8,476.7 L407.2,476.3 L406.6,479.1 L406,478.1 L405.4,475.4 L404.8,477.3 L404.2,476.8 L403.6,474.9 L403,473 L402.4,471.7 L401.8,470.2 L401.2,471.1 L400.6,469 L400,466.2 L399.4,465.8 L398.8,468.7 L398.2,470.6 L397.6,471.7 L397,470.6 L396.4,470.6 L395.8,469.6 L395.2,475.4 L394.6,476.8 L394,474.9 L393.4,476.3 L392.8,477.9 L392.2,472.6 L391.6,472.5 L391,471.6 L390.4,471 L389.8,470.7 L389.2,468.9 L388.6,467.7 L388,466.2 L387.4,466.8 L386.8,465.2 L386.2,464.9 L385.6,463.2 L385,459.5 L384.4,457.1 L383.8,456.1 L383.2,454.1 L382.6,450.2 L382,452.1 L381.4,450 L380.8,447.1 L380.2,441 L379.6,440.4 L379,439.7 L378.4,442.7 L377.8,442 L377.2,442.7 L376.6,442.1 L376,446.6 L375.4,445 L374.8,443.8 L374.2,444.5 L373.6,442.1 L373,439 L372.4,439.8 L371.8,431.4 L371.2,426.7 L370.6,422.8 L370,419.5 L369.4,414.5 L368.8,414.5 L368.2,419.3 L367.6,418.6 L367,421.7 L366.4,421.1 L365.8,417.8 L365.2,418.4 L364.6,418.7 L364,417.5 L363.4,414.9 L362.8,409.3 L362.2,410 L361.6,407.6 L361,409.4 L360.4,407.9 L359.8,407.2 L359.2,406.9 L358.6,407 L358,406.2 L357.4,404.6 L356.8,410.2 L356.2,410.1 L355.6,414 L355,412 L354.4,415.4 L353.8,416.2 L353.2,417.5 L352.6,419.9 L352,424.5 L351.4,426.7 L350.8,430.4 L350.2,427.1 L349.6,426.7 L349,425.4 L348.4,424.6 L347.8,424.7 L347.2,425.5 L346.6,425.9 L346,425 L345.4,422.8 L344.8,423.3 L344.2,421.3 L343.6,420.5 L343,420 L342.4,417.4 L341.8,419.2 L341.2,416.8 L340.6,419.4 L340,417.4 L339.4,416.4 L338.8,415 L338.2,413.6 L337.6,411.1 L337,411.9 L336.4,412.9 L335.8,409.1 L335.2,408.2 L334.6,410.2 L334,411.6 L333.4,412.5 L332.8,411.9 L332.2,408.2 L331.6,410.4 L331,411.3 L330.4,408 L329.8,407.4 L329.2,405.3 L328.6,404.3 L328,403.9 L327.4,405.2 L326.8,406.3 L326.2,406.3 L325.6,403.1 L325,400.4 L324.4,398.9 L323.8,400.8 L323.2,398.4 L322.6,395.2 L322,395.9 L321.4,394.9 L320.8,396.9 L320.2,393.1 L319.6,391.2 L319,389.6 L318.4,392.6 L317.8,391 L317.2,390.2 L316.6,384.2 L316,386.8 L315.4,384.3 L314.8,380.7 L314.2,381.4 L313.6,380.5 L313,376.9 L312.4,376.4 L311.8,372.7 L311.2,371.8 L310.6,373.9 L310,369.7 L309.4,370.2 L308.8,365.1 L308.2,366 L307.6,364.9 L307,365.1 L306.4,366.4 L305.8,362.8 L305.2,358.3 L304.6,356.4 L304,358.1 L303.4,359.7 L302.8,359.3 L302.2,353.4 L301.6,352 L301,352.1 L300.4,353.8 L299.8,349.9 L299.2,343.1 L298.6,341.1 L298,338.7 L297.4,337.7 L296.8,332.4 L296.2,332.7 L295.6,328.4 L295,323.6 L294.4,318.3 L293.8,318.5 L293.2,314.3 L292.6,314.1 L292,312.7 L291.4,313.8 L290.8,310.7 L290.2,308.6 L289.6,303.7 L289,302.6 L288.4,301.8 L287.8,299.5 L287.2,296 L286.6,289 L286,285.4 L285.4,283.2 L284.8,274.1 L284.2,268.9 L283.6,263.1 L283,264.4 L282.4,264.3 L281.8,264.7 L281.2,264 L280.6,261.5 L280,263.9 L279.4,263.5 L278.8,262 L278.2,256.5 L277.6,255.1 L277,252.3 L276.4,251.4 L275.8,250.1 L275.2,248.9 L274.6,251 L274,253.2 L273.4,255.6 L272.8,257.5 L272.2,257.6 L271.6,261.7 L271,261.9 L270.4,264.1 L269.8,265.7 L269.2,268.6 L268.6,271.8 L268,273.4 L267.4,276.4 L266.8,279.5 L266.2,278.1 L265.6,280.6 L265,286.6 L264.4,289.8 L263.8,289.9 L263.2,292.8 L262.6,291.7 L262,295.7 L261.4,296.7 L260.8,298.6 L260.2,299.8 L259.6,301 L259,298.1 L258.4,301.2 L257.8,305.9 L257.2,305.6 L256.6,308.5 L256,307.7 L255.4,308.9 L254.8,309.5 L254.2,310.5 L253.6,314.8 L253,313.7 L252.4,315.1 L251.8,315.5 L251.2,321.9 L250.6,323.9 L250,325.8 L249.4,327.4 L248.8,330.1 L248.2,331.2 L247.6,334.2 L247,336.5 L246.4,339 L245.8,339.9 L245.2,342.4 L244.6,343.1 L244,344.7 L243.4,347.2 L242.8,350.3 L242.2,347.9 L241.6,350.6 L241,353.4 L240.4,357.2 L239.8,357.5 L239.2,361.3 L238.6,363.8 L238,367.1 L237.4,368.3 L236.8,373.9 L236.2,376.2 L235.6,378.4 L235,375.5 L234.4,378 L233.8,382.3 L233.2,381.2 L232.6,383.4 L232,382.2 L231.4,382.1 L230.8,384.2 L230.2,385.8 L229.6,384.2 L229,389.4 L228.4,389.5 L227.8,391 L227.2,393.7 L226.6,393.2 L226,395.8 L225.4,396.4 L224.8,395.6 L224.2,399.4 L223.6,398.6 L223,398.2 L222.4,398.1 L221.8,402.5 L221.2,401.6 L220.6,404.9 L220,401.5 L219.4,402.2 L218.8,404.7 L218.2,405.6 L217.6,406.6 L217,406.6 L216.4,406.7 L215.8,410.9 L215.2,405.3 L214.6,405.6 L214,408.8 L213.4,409.7 L212.8,409 L212.2,404.2 L211.6,403.7 L211,404.1 L210.4,403.5 L209.8,402 L209.2,398.1 L208.6,397.6 L208,400.4 L207.4,403 L206.8,402.7 L206.2,406.6 L205.6,409.2 L205,406.1 L204.4,405.9 L203.8,409.8 L203.2,409.7 L202.6,410.4 L202,407.5 L201.4,406.2 L200.8,403.8 L200.2,402.7 L199.6,399.6 L199,396.8 L198.4,394.3 L197.8,394.5 L197.2,392.5 L196.6,396.4 L196,397.2 L195.4,402.7 L194.8,401.7 L194.2,400.3 L193.6,402 L193,396.7 L192.4,396 L191.8,394.2 L191.2,393.2 L190.6,395.6 L190,391.4 L189.4,390.2 L188.8,394.5 L188.2,393.6 L187.6,394.1 L187,397.5 L186.4,395.9 L185.8,397.5 L185.2,399.6 L184.6,400.6 L184,403.9 L183.4,408.1 L182.8,412.8 L182.2,411.3 L181.6,414.4 L181,419 L180.4,420.2 L179.8,419.7 L179.2,424 L178.6,423.7 L178,425 L177.4,422.6 L176.8,426.2 L176.2,423 L175.6,424.6 L175,426.5 L174.4,425.2 L173.8,429.1 L173.2,428 L172.6,430.1 L172,429.7 L171.4,431.3 L170.8,433.7 L170.2,432 L169.6,431.6 L169,433.4 L168.4,432.4 L167.8,433.3 L167.2,435.2 L166.6,434.3 L166,436.6 L165.4,436 L164.8,436.3 L164.2,437.4 L163.6,437.5 L163,439.8 L162.4,446 L161.8,448.2 L161.2,448.7 L160.6,455.2 L160,453.7 L159.4,455 L158.8,454.5 L158.2,455.6 L157.6,459 L157,460.1 L156.4,459.6 L155.8,458.2 L155.2,457.8 L154.6,460.7 L154,458.4 L153.4,458.1 L152.8,460.7 L152.2,460.8 L151.6,459.5 L151,460.8 L150.4,460.6 L149.8,462.9 L149.2,461.7 L148.6,465.7 L148,468.2 L147.4,468.8 L146.8,467.8 L146.2,467.9 L145.6,467.6 L145,470.2 L144.4,468.7 L143.8,465.4 L143.2,462.2 L142.6,465.4 L142,462.9 L141.4,464.4 L140.8,461.5 L140.2,465.5 L139.6,469.3 L139,469.3 L138.4,469.3 L137.8,472.5 L137.2,473.6 L136.6,477.2 L136,476.2 L135.4,473.7 L134.8,475.4 L134.2,474.5 L133.6,472.4 L133,470.6 L132.4,470.1 L131.8,466.8 L131.2,463.9 L130.6,467.9 L130,470.6 L129.4,472.1 L128.8,470.1 L128.2,466.9 L127.6,469.3 L127,470.5 L126.4,469 L125.8,468.5 L125.2,464.5 L124.6,463.4 L124,461.4 L123.4,459.1 L122.8,460.5 L122.2,459.3 L121.6,457.9 L121,456.1Z" fill="#0072B2" fill-opacity="0.2" stroke="#0072B2" stroke-opacity="0.2" stroke-width="1.39" stroke-linejoin="round"/>
<path d="M930.5,182 L931,181.1 L931.5,180.2 L932,179.4 L932.5,178.5 L933,176.3 L933.5,174.2 L934,172 L934.5,168.8 L935,165.5 L935.5,165.4 L936,165.3 L936.5,165.2 L937,165 L937.5,164.9 L938,164.8 L938.5,164.7 L939,164.6 L939.5,163.9 L940,162.6 L940.5,161.9 L941,161.7 L941.5,161.5 L942,161.4 L942.5,161.2 L943,161 L943.5,158 L944,157.9 L944.5,157.8 L944.8,157.8 L944.8,188 L944.5,188.5 L944,189.3 L943.5,190.1 L943,190.8 L942.5,191.6 L942,192.4 L941.5,193.2 L941,194 L940.5,194.3 L940,194.7 L939.5,195 L939,195.3 L938.5,195.7 L938,196 L937.5,196.7 L937,197.3 L936.5,198 L936,198.7 L935.5,199.3 L935,200 L934.5,201.5 L934,203 L933.5,204.5 L933,206 L932.5,207.4 L932,208.8 L931.5,210.2 L931,211.6 L930.5,213ZM930.5,290 L931,285 L931.5,280 L932,275 L932.5,271.7 L933,268.3 L933.5,265 L934,263 L934.5,261 L935,259 L935.5,258.6 L936,258.2 L936.5,257.9 L937,257.5 L937.5,257.1 L938,256.8 L938.5,256.4 L939,256 L939.5,256 L940,256 L940.5,256 L941,256 L941.5,256 L942,256 L942.5,256 L943,256 L943.5,256 L944,256 L944.5,256 L944.8,256 L944.8,281 L944.5,281.5 L944,282.4 L943.5,283.3 L943,284.2 L942.5,285.1 L942,286 L941.5,286.4 L941,286.8 L940.5,287.2 L940,287.6 L939.5,288 L939,288.4 L938.5,288.8 L938,289.2 L937.5,289.6 L937,290 L936.5,291.3 L936,292.7 L935.5,294 L935,295.3 L934.5,296.7 L934,298 L933.5,299.3 L933,300.7 L932.5,302 L932,303.3 L931.5,304.7 L931,306 L930.5,312Z" fill="#0072B2" fill-opacity="0.04"/>
<path d="M931.4,180.4V210.5M931.4,281V304.9M933.4,174.6V204.8M933.4,265.7V299.6M935.4,165.4V199.5M935.4,258.7V294.3M937.4,164.9V196.8M937.4,257.2V289.7M939.4,164.2V195.1M939.4,256V288.1M941.4,161.6V193.4M941.4,256V286.5M943.4,158V190.2M943.4,256V283.5" stroke="#0072B2" stroke-opacity="0.11" stroke-width="1" fill="none"/>
<path d="M159.5,15.5V542.5M245.5,15.5V542.5M330.5,15.5V542.5M416.5,15.5V542.5M502.5,15.5V542.5M587.5,15.5V542.5M673.5,15.5V542.5M759.5,15.5V542.5M845.5,15.5V542.5M930.5,15.5V542.5" stroke="#808080" stroke-opacity="0.2" stroke-width="1.39" fill="none"/>
<path d="M79.5,518.5H985.5M79.5,402.5H985.5M79.5,286.5H985.5M79.5,171.5H985.5M79.5,55.5H985.5" stroke="#808080" stroke-opacity="0.2" stroke-width="1.39" fill="none"/>
<path d="M121.4,358h0M121.4,362h0M121.9,393.2h0M122,389.7h0M122.1,389.4h0M122.1,397.1h0M122.1,392.6h0M122.2,389.8h0M122.4,379.4h0M122.4,394.3h0M122.4,395.6h0M122.5,390.3h0M122.7,394.4h0M122.7,392.9h0M122.8,394.2h0M122.8,392.3h0M122.8,390.2h0M122.9,391.9h0M122.9,396h0M122.9,387.1h0M123,392.3h0M123.1,396.3h0M123.2,391.8h0M123.3,397.2h0M123.5,396.3h0M123.6,398.6h0M124.2,401.3h0M124.2,398.4h0M124.4,401.3h0M124.6,401.5h0M124.7,402h0M124.8,398.2h0M124.9,402h0M124.9,400.8h0M124.9,399.4h0M125.7,402.7h0M125.9,401.1h0M126,402.3h0M126.2,405.1h0M126.5,403.5h0M127,406.1h0M127,403.8h0M127.1,406.3h0M127.1,404.7h0M127.6,406.6h0M128.1,408h0M128.5,408.1h0M128.6,407h0M128.7,409.1h0M128.9,406h0M129,407.4h0M129.3,407.5h0M129.5,409.1h0M130.3,408.7h0M130.3,408.4h0M131.1,410.6h0M131.1,410.1h0M131.4,411.6h0M131.4,410.4h0M131.8,409.2h0M132.5,410.8h0M132.7,412.9h0M132.9,412.1h0M133.1,413.5h0M133.5,412.8h0M134.1,412.9h0M134.4,414.8h0M134.8,413.8h0M134.9,414.3h0M135,414.2h0M135.2,416.1h0M135.4,416.7h0M136,416.5h0M136.6,416h0M136.9,415.9h0M137,417.4h0M137.6,415.6h0M137.6,415.7h0M138.3,417.2h0M138.3,416.7h0M139,417.3h0M139.3,417.5h0M139.7,419.7h0M139.9,417.5h0M140,416.8h0M140.2,418.5h0M140.2,415.7h0M140.5,417.7h0M140.5,418.2h0M140.7,417h0M140.9,413.4h0M140.9,417.6h0M141,416.3h0M141,418.6h0M141.1,413.6h0M141.1,412.4h0M141.5,412.2h0M141.5,413.9h0M141.5,412.7h0M142.1,415h0M142.2,409.8h0M142.2,413.3h0M142.2,410h0M142.7,411h0M142.7,411h0M142.9,411.7h0M143,410.4h0M143.1,413.7h0M143.1,411.2h0M143.2,408.9h0M143.2,413.5h0M143.3,410.6h0M143.4,410.2h0M143.5,413.6h0M143.5,412.4h0M144.2,409.8h0M144.2,415.5h0M144.3,412.7h0M144.4,416.4h0M144.4,418.8h0M144.7,412.6h0M144.8,418.2h0M145,418.4h0M145,415.8h0M145.1,415.7h0M145.1,418.9h0M145.1,415.6h0M145.2,419.6h0M145.2,420.2h0M145.3,414.6h0M145.6,413.7h0M145.7,422.7h0M145.8,420.4h0M145.8,423.1h0M145.9,418.8h0M146,421.2h0M146.1,421.3h0M146.6,423.6h0M146.6,422.5h0M146.9,420.4h0M147,422.4h0M147.2,424.9h0M147.2,425.6h0M147.3,424.8h0M147.4,428h0M147.4,426.7h0M147.4,425.5h0M147.5,423.1h0M147.5,425.5h0M147.5,426.7h0M147.5,422.3h0M147.7,424h0M148,426.3h0M148,426.9h0M148,423.5h0M148.2,420.6h0M148.6,417.9h0M148.6,422.6h0M148.6,422.4h0M148.6,424.6h0M148.7,418.3h0M148.7,424.7h0M148.7,422.2h0M148.8,414.6h0M148.9,422h0M148.9,419.2h0M148.9,414.8h0M149.1,417.3h0M149.1,421.2h0M149.2,419.4h0M149.2,419h0M149.2,410.2h0M149.2,418.1h0M149.2,410.3h0M149.2,417.9h0M149.3,416.1h0M149.4,414.9h0M149.5,413.8h0M149.5,413h0M149.8,404.1h0M149.9,410.7h0M150,408.5h0M150,413.5h0M150,405.8h0M150.1,415.3h0M150.2,409.2h0M150.2,406h0M150.2,414.1h0M150.3,404.6h0M150.4,411.1h0M150.4,410.4h0M150.4,406.1h0M150.4,402.6h0M150.5,403.4h0M150.5,408.6h0M150.5,410.2h0M150.7,407h0M150.7,406.8h0M150.9,400.5h0M151.1,401.1h0M151.1,404h0M151.1,396.3h0M151.2,401h0M151.2,404.3h0M151.2,399.9h0M151.4,396.5h0M151.4,398.8h0M151.4,402.5h0M151.6,402.7h0M151.6,400.4h0M151.9,396.9h0M151.9,399.6h0M152.2,395.4h0M152.3,397h0M152.3,398.3h0M152.4,399.4h0M152.6,395.8h0M152.7,397.2h0M152.8,394.2h0M153.1,394.9h0M153.1,394.8h0M153.4,391.5h0M153.4,390.7h0M153.5,392h0M153.6,389.4h0M153.6,394.1h0M153.8,390.3h0M154,389.4h0M154.1,392.6h0M154.5,392.8h0M154.5,388h0M154.8,388.6h0M154.9,390.4h0M155,387.1h0M155.1,389.2h0M155.1,385.4h0M155.2,383.7h0M155.3,384.9h0M155.8,381.6h0M155.9,386.4h0M155.9,384.5h0M156,388.9h0M156,383.3h0M156.4,385.3h0M156.4,387.4h0M156.5,382h0M156.5,382.1h0M156.6,386.2h0M156.6,386.4h0M156.8,384.7h0M156.8,382.1h0M156.9,382.6h0M156.9,384.1h0M157,384.3h0M157,388h0M157.1,388.3h0M157.1,391.1h0M157.2,382h0M157.3,390.1h0M157.4,395.3h0M157.4,396.1h0M157.5,383.6h0M157.5,386.8h0M157.6,388.1h0M157.6,395h0M157.6,386.5h0M157.8,393.7h0M157.9,391h0M157.9,394.8h0M158,387.3h0M158,390h0M158.2,389.7h0M158.3,390.3h0M158.4,394.2h0M158.4,393.2h0M158.5,397h0M158.5,395.5h0M158.5,391h0M158.5,395.5h0M163.8,405.3h0M163.8,405.3h0M163.9,406h0M164,406.7h0M164.2,407.5h0M164.3,406.5h0M164.4,408.6h0M165.2,404.8h0M165.3,403.4h0M165.3,402.4h0M165.7,403h0M165.9,399.6h0M166,405.2h0M166.2,402.7h0M166.3,403.4h0M166.3,402.4h0M166.4,401.5h0M166.6,401.3h0M166.8,400.8h0M167.4,399.9h0M167.7,400.4h0M167.7,399h0M167.8,397.6h0M167.9,398h0M168,397.7h0M168.1,398h0M168.2,396.8h0M168.4,395.1h0M168.5,394.7h0M168.7,394.7h0M168.9,394h0M169.1,394.8h0M169.2,396.4h0M169.3,393.8h0M169.4,395h0M169.4,393h0M169.6,389.9h0M169.7,393h0M169.9,389.7h0M170.1,389.4h0M170.1,391.9h0M170.2,387.9h0M170.3,388.2h0M170.4,383.9h0M170.4,390.3h0M170.5,386.9h0M170.6,388.6h0M170.6,384h0M170.7,385.9h0M170.8,391.5h0M170.8,388.5h0M171,381.7h0M171,389.5h0M171.1,388.2h0M171.1,387h0M171.3,386.2h0M171.3,383.1h0M171.5,382h0M171.5,380h0M171.5,383.2h0M171.7,381h0M171.8,380.6h0M172,382h0M172,354h0M172,357h0M172.3,379.6h0M173,349h0M173.4,371h0M174,352h0M174.5,356h0M175.4,324h0M175.4,337.4h0M176,351h0M176,360h0M177,357h0M179,361h0M182,383h0M182.3,380.4h0M182.3,382.6h0M182.5,381.9h0M182.6,379.5h0M182.7,385.6h0M182.7,380.3h0M182.9,386.6h0M182.9,387.9h0M183,381.5h0M183.1,379.2h0M183.2,384.9h0M183.2,381h0M183.6,386.4h0M183.9,386.7h0M184,386.2h0M184.1,385.4h0M184.4,387.6h0M184.8,386.3h0M185,388.6h0M185.2,388.5h0M185.3,385.3h0M185.4,384.1h0M185.5,381.5h0M185.6,387.3h0M185.7,387h0M185.9,386.1h0M186.1,381.2h0M186.1,384h0M186.3,383h0M186.3,381.7h0M186.5,384.4h0M186.5,377.7h0M186.6,382.5h0M186.6,376h0M186.7,384.4h0M186.8,378.1h0M186.8,381.9h0M186.9,378.9h0M187.3,381h0M187.4,380.2h0M187.5,373.9h0M187.7,375h0M187.7,381h0M187.8,376.7h0M187.8,374h0M187.9,374h0M188,379.2h0M188.1,376.3h0M188.2,371.7h0M188.4,376.6h0M188.5,374.4h0M188.5,372.9h0M188.9,374h0M188.9,374.8h0M189.1,370.7h0M189.2,370h0M189.4,372.5h0M189.6,369.1h0M189.7,367.9h0M189.8,367.2h0M189.9,369.1h0M189.9,371.5h0M190.3,368.2h0M190.4,370.2h0M190.5,371.1h0M190.6,368.7h0M190.6,371.2h0M191.3,371.3h0M191.4,369.4h0M191.4,372.7h0M191.5,372.1h0M191.7,367.2h0M191.8,372.2h0M191.9,370.8h0M192,366.6h0M192.1,372.1h0M192.1,370.1h0M192.2,361h0M192.3,371.6h0M192.3,366.8h0M192.4,361.2h0M192.5,364.8h0M192.6,369.9h0M192.6,364.9h0M192.7,364.3h0M192.7,358.9h0M192.7,361.2h0M192.8,360.5h0M192.8,366.7h0M192.8,364.8h0M192.8,362.4h0M192.9,371.1h0M193,363h0M193.1,369.5h0M193.1,364.4h0M193.2,362.5h0M193.2,363.4h0M193.3,365.9h0M193.3,368.7h0M193.3,364.3h0M193.5,360.9h0M193.5,358.9h0M193.5,363.2h0M193.6,364.7h0M193.7,359.3h0M193.9,366.1h0M194,364.7h0M194.2,362.9h0M194.4,361.2h0M194.5,366.4h0M194.8,363.3h0M194.9,369h0M194.9,367.3h0M195.1,366.2h0M195.4,367.3h0M195.5,366.4h0M195.6,370.7h0M195.8,367.6h0M195.8,371.2h0M195.8,369.3h0M196.3,371.2h0M196.3,367.3h0M196.6,369.5h0M196.7,372.5h0M197.2,371.6h0M197.5,373.9h0M197.7,373.6h0M197.7,373.4h0M198.1,375.8h0M198.2,372.8h0M198.7,374.4h0M199,373.8h0M199,374.9h0M199.1,374.9h0M199.3,375.4h0M199.8,376.5h0M200.5,377.2h0M201,376.8h0M201.1,378h0M201.2,376.6h0M201.6,378h0M202.5,378.3h0M203.2,377.7h0M203.2,377.7h0M203.8,379.4h0M203.8,378.8h0M204,378.6h0M204.2,374.9h0M204.7,377h0M204.9,374.7h0M205.1,374h0M205.2,377.1h0M205.7,373.6h0M206.2,372h0M206.2,372.1h0M206.4,376.6h0M206.5,372.5h0M206.8,372.6h0M206.8,374.1h0M206.8,370h0M207.2,373h0M207.3,369.1h0M207.4,367.7h0M207.4,372.9h0M207.5,370.5h0M207.5,370.2h0M207.7,370.2h0M208.1,369.9h0M208.1,366.6h0M208.2,365.7h0M208.6,366.1h0M208.7,365.9h0M208.7,367.5h0M208.8,365.6h0M208.8,368.7h0M208.9,362.8h0M208.9,362.2h0M208.9,363.6h0M209,366.4h0M209.1,365.4h0M209.1,363.6h0M209.3,370.1h0M209.3,367.4h0M209.5,363.3h0M209.5,365h0M209.7,363.8h0M209.7,365.9h0M209.9,362.5h0M209.9,370h0M209.9,370.6h0M209.9,367.3h0M210,369.3h0M210.3,371.1h0M210.5,373.8h0M210.6,368.7h0M210.6,372.9h0M210.9,369.7h0M210.9,367.9h0M210.9,368.9h0M211,373.3h0M211.1,377.3h0M211.3,375h0M211.4,374.7h0M211.6,375.3h0M211.6,371.8h0M211.7,370h0M212,376.5h0M212,375.1h0M212.3,378.9h0M212.3,374.8h0M212.7,377.9h0M212.8,377.3h0M213,376.9h0M213.1,380.1h0M213.3,378.8h0M213.4,376.6h0M213.4,378.3h0M213.9,380.4h0M214.1,381h0M214.4,383.1h0M214.5,382h0M214.5,382.4h0M214.5,380.4h0M214.7,382.1h0M215.7,383.9h0M215.8,381.9h0M216,383h0M216.3,384.7h0M216.3,386.7h0M216.4,388.5h0M216.4,385h0M216.8,383.4h0M217,389.7h0M217,386.5h0M217.1,388.1h0M217.2,388.4h0M217.4,386.6h0M217.5,386.1h0M217.6,389.1h0M218.1,392.6h0M218.3,392.1h0M218.3,390.2h0M218.4,390h0M218.6,389.5h0M219.1,390.9h0M219.2,389.5h0M219.2,390h0M219.3,391.3h0M219.4,391.1h0M219.9,392.5h0M220,389.4h0M220,390.8h0M220.5,390.2h0M220.5,391h0M220.8,391.4h0M220.9,391.2h0M221,390.9h0M221.3,392.2h0M221.6,390.9h0M221.6,391.4h0M222.5,391.4h0M222.8,391.4h0M223.1,393.9h0M223.6,391.1h0M223.6,391.6h0M224.3,390.8h0M225.1,392.4h0M225.2,390.4h0M225.5,388h0M225.5,393.2h0M225.9,390.2h0M226.1,391.8h0M226.2,389.5h0M226.4,379.1h0M226.4,382.6h0M226.5,386.2h0M226.7,388.1h0M226.7,383.1h0M226.8,378.8h0M226.8,388.4h0M226.8,388.3h0M226.9,380.2h0M226.9,382.7h0M226.9,389.2h0M227,386.5h0M227,372.2h0M227.1,384.9h0M227.1,373h0M227.1,380h0M227.3,377.6h0M227.3,388.9h0M227.4,376.9h0M227.5,386.8h0M227.5,388.1h0M227.5,374.8h0M227.5,384.5h0M227.6,371.9h0M227.7,376.3h0M227.8,371h0M227.8,376.3h0M227.9,380.2h0M227.9,376.8h0M227.9,387.7h0M228,383.1h0M228.1,379.9h0M228.1,370h0M228.2,378.2h0M228.2,382.8h0M228.2,381h0M228.3,382.9h0M228.3,376h0M228.3,369.1h0M228.6,374.2h0M228.6,366.1h0M228.7,375.1h0M228.8,372.3h0M229,366.9h0M229,366.7h0M229,372.1h0M229.3,369.6h0M229.3,366.1h0M229.4,369.3h0M229.5,366.9h0M229.7,365h0M229.9,370h0M230.3,366.4h0M230.8,367.1h0M231.4,366.8h0M231.8,366h0M232.2,367.5h0M232.5,367.1h0M232.7,366.4h0M233,367.4h0M233.3,365.5h0M233.3,368.2h0M233.4,369.7h0M233.9,366.3h0M234,368h0M234.1,364.1h0M234.2,366.2h0M234.3,367h0M234.4,366.3h0M234.8,366.2h0M234.8,364.8h0M235.1,365h0M235.3,366h0M235.3,363h0M236,363h0M236.4,346h0M236.4,353h0M237,335h0M238,328h0M239,322h0M240,298h0M240,318h0M241,301h0M242,312h0M243,303h0M243,308h0M244,315h0M244,321h0M245,305h0M246,311h0M246,318h0M247,321h0M248,304h0M249,313h0M250.4,228h0M250.4,265h0M253.6,293h0M254,280h0M254.4,288h0M255,206h0M255.4,232.4h0M255.6,253h0M256,189h0M256,216h0M258,165.6h0M258,183h0M258,199h0M259,206h0M260,182h0M260,213h0M260,218h0M261,200h0M262,163h0M263,172h0M263,178h0M263.6,150h0M264,168h0M264,196h0M265,161h0M265,181h0M266.4,130.2h0M266.4,131h0M266.4,144h0M267,151h0M268,141.6h0M268.4,103h0M268.4,105.6h0M268.4,140h0M268.6,65.4h0M269.4,54.4h0M269.4,57h0M270.4,39.4h0M270.4,47.4h0M270.4,76.6h0M271.4,90.4h0M271.6,63h0M272.4,83.6h0M273,79h0M274,83h0M274.6,80h0M275.4,123.4h0M275.6,92.4h0M276.4,191h0M277,194h0M277.6,188h0M278,182.4h0M279.6,210h0M280,203h0M280.4,214h0M281,222h0M282.4,166h0M282.4,200h0M283,170h0M283.6,160.4h0M284.4,173h0M285,157h0M285.4,152h0M286,196h0M286,206h0M286.4,186.4h0M287,210h0M288,218h0M288.3,234.2h0M288.7,232.2h0M288.8,232.1h0M289,221h0M289,229h0M289.1,229.7h0M289.7,233.4h0M290,239h0M290,233.2h0M290.2,235h0M290.6,231.7h0M290.8,234.5h0M291,236.1h0M291,234.1h0M291.1,237.9h0M291.3,238.2h0M291.4,237.6h0M291.5,238.3h0M291.8,235.8h0M291.9,232.4h0M292,241.8h0M292.1,238.9h0M292.4,240.3h0M292.8,246.1h0M293,247.2h0M293,233h0M293,246h0M293.1,243.5h0M293.4,243.3h0M293.6,243.5h0M294,240.8h0M294,240h0M294.2,248.2h0M294.3,250.9h0M294.3,239.9h0M294.5,243.7h0M294.5,239h0M294.5,241.6h0M294.8,241h0M294.9,242h0M294.9,256.8h0M295,247h0M295,250h0M295.1,243.5h0M295.2,251.5h0M295.3,249.1h0M295.4,254.3h0M295.7,249.6h0M295.7,245.9h0M295.8,248h0M295.8,254.5h0M295.9,257.9h0M296.1,260.2h0M296.2,250.2h0M296.3,254.8h0M296.3,260.1h0M296.6,261.1h0M296.7,354.4h0M296.7,349.2h0M296.8,257.2h0M296.8,255.9h0M296.8,349.5h0M296.9,257.8h0M296.9,258.5h0M297,358.9h0M297,259.2h0M297,349.7h0M297.3,353.4h0M297.3,249.2h0M297.4,351.1h0M297.4,251h0M297.4,326.4h0M297.4,254.3h0M297.5,248.6h0M297.7,248.9h0M297.8,357.7h0M298,260h0M298,355.7h0M298.1,363.9h0M298.2,356.8h0M298.3,351.9h0M298.3,254.7h0M298.4,352.9h0M298.7,358.2h0M298.7,365.1h0M298.8,353.5h0M299,364.7h0M299,256.6h0M299.1,361.7h0M299.2,357.1h0M299.8,359h0M299.9,349.9h0M300.1,360.4h0M300.2,359.6h0M300.4,364.2h0M300.5,355h0M300.5,353.7h0M300.5,360.5h0M300.7,366.1h0M300.8,362.9h0M300.8,360h0M300.8,360.5h0M301,363.8h0M301.4,366.4h0M301.5,358.7h0M301.6,367.3h0M301.7,367.6h0M301.8,366.7h0M301.9,370.5h0M301.9,363.6h0M302.2,368h0M302.3,371.4h0M303.4,369.9h0M303.4,368h0M303.5,370.5h0M303.6,367.4h0M303.8,365.1h0M303.9,373h0M304,366.1h0M304.5,369.9h0M304.9,369.3h0M305,376.4h0M305.3,376.8h0M305.9,377h0M305.9,370.7h0M306,373.8h0M306,371.8h0M306.6,375.1h0M306.7,374.3h0M306.8,376h0M307,376.5h0M307.1,377.7h0M307.4,379.2h0M307.9,374.5h0M308.2,382.2h0M308.3,380h0M308.3,376.4h0M308.7,378.6h0M309,375.7h0M309.4,378.4h0M309.7,380.2h0M309.9,379.9h0M310.1,378.8h0M310.8,379.2h0M311,384.2h0M311.1,381.6h0M311.4,375.8h0M311.9,377.4h0M312,386.3h0M312.2,383.2h0M312.5,380.9h0M312.6,387.6h0M313.1,386h0M313.1,384.4h0M313.1,381.6h0M313.4,391.6h0M313.8,383.6h0M314,388.8h0M314.1,383h0M314.3,389.2h0M314.4,383.9h0M314.6,387.3h0M314.6,390.6h0M314.7,390.9h0M315,388h0M315,385.8h0M315,395.6h0M315.2,388.6h0M315.2,391.2h0M315.3,392.3h0M315.3,387.1h0M315.9,395.9h0M316,397h0M316.1,392.3h0M316.1,394.1h0M316.4,398h0M316.6,390.7h0M317.1,393.4h0M317.2,394.6h0M317.2,396.6h0M317.3,395.3h0M317.7,392.7h0M317.7,396.5h0M317.8,399.8h0M318.1,397.5h0M318.2,403.2h0M318.2,405.9h0M318.3,400.5h0M318.5,399.5h0M318.6,404.4h0M318.6,398.1h0M318.7,404.6h0M318.7,408.6h0M318.9,398.6h0M319,395.7h0M319,397.7h0M319,403h0M319.4,404h0M319.5,402.2h0M319.5,399.1h0M319.8,407.5h0M320.2,409.8h0M320.3,402.5h0M320.5,407.2h0M320.6,404.1h0M321.1,404.3h0M321.4,405.7h0M321.4,411.3h0M321.5,407.4h0M321.8,404h0M322.3,414.8h0M322.5,415.4h0M322.7,405.5h0M322.7,413.6h0M323.1,412.9h0M323.4,413.5h0M323.4,409.6h0M323.5,411.6h0M323.7,416.6h0M324,418.3h0M324,406.8h0M324.1,412.8h0M324.4,409.4h0M324.6,413.3h0M325.2,417.9h0M326,417.3h0M326.2,413.4h0M326.5,411.8h0M326.6,419.6h0M326.7,417.6h0M327,427h0M327.2,416.7h0M327.4,419h0M328,432h0M328.1,419.9h0M328.2,416.3h0M329,438h0M329,443h0M331.4,368h0M332.4,391.6h0M332.4,409.4h0M332.4,428h0M333.6,344h0M334,275.4h0M334.4,305.6h0M334.4,310h0M334.4,340h0M336,273h0M336,316h0M336.2,281.4h0M337.4,265h0M337.4,268h0M338,321h0M338,330h0M338.9,356.8h0M339,316h0M339.4,349.7h0M340,358h0M340,345h0M340.2,354.9h0M341,326h0M341,333h0M342,340h0M342.2,362.3h0M342.9,356.3h0M343,357.4h0M343.1,359h0M343.2,355.4h0M343.3,355h0M343.8,353.6h0M344,359.5h0M344.1,358.9h0M344.2,362.4h0M344.4,357.9h0M344.5,353.3h0M344.9,355.9h0M345,357.7h0M345,359.2h0M345.1,360.1h0M345.2,360.5h0M345.7,355h0M346.2,365.4h0M346.2,360.5h0M346.3,370.3h0M346.5,362.6h0M346.6,363.5h0M346.7,372.6h0M346.8,368.7h0M347.6,359.9h0M347.7,373.8h0M347.7,360.5h0M347.7,367.1h0M347.8,370.5h0M348,372.3h0M348,347h0M348.2,375.3h0M348.2,379.6h0M348.3,366.8h0M348.4,362.7h0M348.4,371.8h0M348.5,367.7h0M348.5,367h0M348.5,369.2h0M348.8,376.4h0M349,372.1h0M349,373.6h0M349.2,365.3h0M349.3,374.4h0M349.3,364.5h0M349.6,367.1h0M349.8,381.4h0M349.9,376.7h0M349.9,381.5h0M350.5,370.1h0M350.5,379.6h0M350.5,377.2h0M350.7,369.9h0M350.8,370.3h0M350.9,382.2h0M351.1,381.9h0M351.2,383.3h0M351.2,376.8h0M351.3,381.6h0M351.5,382h0M351.6,377.1h0M351.7,385.7h0M351.7,374h0M351.8,380.6h0M351.9,378.9h0M352,383.1h0M352.2,383.9h0M352.4,377.5h0M352.6,389.1h0M352.6,376.7h0M352.9,388.1h0M352.9,381.3h0M353,383.1h0M353.5,387.9h0M353.5,385.3h0M353.7,389.4h0M353.9,388.9h0M354,387.2h0M354.1,388.7h0M354.2,391.6h0M354.5,387.5h0M354.6,387.6h0M354.8,392.2h0M355.3,392h0M355.6,393.1h0M355.6,391h0M356,389.5h0M356.1,382.9h0M356.2,389h0M356.3,396.8h0M356.4,386.6h0M356.5,399.7h0M356.7,397h0M356.8,391.2h0M357.2,394.2h0M357.5,394.6h0M357.6,391.1h0M357.9,398.9h0M358.1,399h0M358.5,398.9h0M358.8,393h0M358.8,397.1h0M359,395.4h0M359,398.9h0M359.5,405.1h0M359.6,400.6h0M360.4,399.4h0M360.4,399h0M360.5,402.4h0M360.7,400.9h0M360.7,403.4h0M361,403h0M361.1,397.5h0M361.7,402.9h0M362.3,401.7h0M362.3,399.7h0M362.6,399.4h0M362.8,405.1h0M363.7,397.7h0M363.8,399h0M364.5,397.2h0M364.8,399.9h0M364.9,399.7h0M365,395h0M365.3,395.1h0M365.3,398h0M365.4,398.8h0M365.5,396.8h0M365.8,396h0M365.9,398.4h0M366,366h0M366,374h0M366,386h0M366.4,379h0M366.6,395h0M366.6,361h0M366.7,395.1h0M367.4,354h0M368,389h0M368.6,398.4h0M369.5,397.6h0M369.7,398.5h0M370.2,394.4h0M370.5,398.7h0M370.9,394.2h0M371,394.4h0M371.7,398.3h0M371.7,394.3h0M372.5,399.4h0M372.6,395.4h0M373,398h0M373.2,398h0M374.1,397.9h0M374.7,400.4h0M375.2,396.5h0M375.3,400.2h0M375.4,397.2h0M375.9,397.1h0M376.2,399.8h0M376.8,400.7h0M377.4,396.8h0M377.9,401.1h0M378.1,402h0M378.6,397.4h0M378.8,400.8h0M378.9,400.4h0M379.1,400.5h0M379.3,404.7h0M380,405.3h0M380.3,403.7h0M380.3,401.6h0M381.2,403.7h0M381.4,402.3h0M381.7,404.9h0M382.3,403.4h0M382.4,407.1h0M382.6,405.6h0M383.4,404.1h0M383.8,404.1h0M384.6,407.3h0M384.6,408h0M384.8,407.5h0M384.8,409.1h0M385.5,407.8h0M385.5,407.4h0M385.9,409h0M386.2,406.2h0M386.5,407.3h0M386.6,403.5h0M386.8,403.1h0M387.4,409.4h0M387.6,406.2h0M387.9,404.5h0M388.1,405.4h0M388.3,401.7h0M388.4,403.5h0M388.4,409.4h0M388.5,402.4h0M388.6,402.4h0M388.6,403h0M388.7,404.8h0M388.7,401.4h0M388.8,397.3h0M388.8,401.5h0M388.9,403.9h0M388.9,404.5h0M389.6,402.2h0M389.8,397h0M389.9,404.5h0M389.9,400.4h0M390,396.7h0M390.2,402h0M390.5,402.7h0M391.1,397.7h0M391.1,399.3h0M391.5,399.7h0M392.6,401.1h0M392.9,400h0M393.1,404.2h0M393.4,401.3h0M393.7,398.4h0M393.9,402.8h0M394.2,399h0M395.3,399.5h0M395.4,400.2h0M396.2,398.7h0M396.4,400.4h0M396.7,398.8h0M396.9,397h0M396.9,398.2h0M397.1,400h0M397.4,398.6h0M397.6,400.5h0M397.7,397.9h0M397.7,394.3h0M398,398.5h0M398.1,395.6h0M398.6,395.6h0M398.9,395.8h0M399.2,396.4h0M399.3,398.7h0M400.3,398.2h0M400.6,397.7h0M400.9,395h0M401.6,396.1h0M402.3,396.3h0M402.3,396.6h0M402.9,396.5h0M403,399.8h0M403.9,396.8h0M404.2,401.1h0M404.4,398.4h0M405.3,400.1h0M405.4,397.6h0M405.4,402.4h0M405.5,399.1h0M405.6,402.7h0M405.9,399.3h0M406.6,400.1h0M407.4,399h0M407.6,398.8h0M407.8,402h0M408.9,403.9h0M409,402.2h0M409.4,402.2h0M409.7,399.3h0M410.1,405.5h0M410.2,400.2h0M410.2,402.8h0M410.3,406h0M410.4,406.9h0M411,405.4h0M411.2,401.7h0M411.3,406.9h0M412.5,404.1h0M412.6,407.6h0M413.5,404.6h0M413.8,403.2h0M414.1,407.7h0M414.4,404.8h0M414.6,408.6h0M416,410h0M416.1,405.5h0M416.2,405.8h0M416.2,405.4h0M416.5,409.9h0M416.8,408.3h0M417,408.1h0M417.1,406.9h0M417.9,403.7h0M418.1,408.8h0M418.8,406.7h0M418.9,407h0M419.7,404.5h0M419.9,406.4h0M421.3,404.7h0M421.4,405.8h0M422,404.9h0M422.9,405.3h0M422.9,407.3h0M423,406.9h0M423.1,405.4h0M423.2,409h0M423.4,408.9h0M424.9,408.1h0M425,407.2h0M425.3,406.7h0M425.7,407.8h0M425.7,410.9h0M425.9,407.8h0M426,411.3h0M426.2,411.5h0M426.9,407.6h0M427,409.5h0M427.3,413.8h0M427.3,412.5h0M427.5,417.8h0M427.7,418.5h0M427.8,410.7h0M427.9,423.8h0M427.9,414.4h0M428.4,417.7h0M428.4,410.2h0M428.5,411.2h0M428.5,412.7h0M428.5,413.4h0M428.5,411.2h0M428.6,415.2h0M428.9,421h0M429,418.1h0M429,417.2h0M429.1,432.6h0M429.1,433.3h0M429.1,418.8h0M429.2,414.6h0M429.2,419.1h0M429.4,434.9h0M429.5,411.2h0M429.5,424h0M429.5,433.5h0M429.6,424.8h0M429.6,431.3h0M429.7,419.4h0M429.7,431.9h0M429.9,437.9h0M429.9,422.8h0M430,429.7h0M430,434.9h0M430,436.7h0M430.2,418.7h0M430.2,431h0M430.2,439.7h0M430.4,438.8h0M430.4,420.9h0M430.4,444.3h0M430.6,437.6h0M430.6,420.4h0M430.7,422.1h0M430.8,442.9h0M430.9,439.8h0M430.9,432h0M430.9,444.5h0M431,438h0M431,440.1h0M431.2,433.4h0M431.3,442.3h0M431.3,439.2h0M431.4,444.3h0M431.4,447.7h0M431.5,436.8h0M431.5,445.2h0M431.5,446.7h0M431.6,437.3h0M431.7,442.4h0M431.7,442.1h0M431.8,434.7h0M431.8,437.7h0M431.8,437.6h0M431.8,445.8h0M432,445.2h0M432.2,446.2h0M432.6,451.4h0M432.6,448.3h0M432.6,444.7h0M432.6,447.7h0M432.6,452.3h0M432.7,448.2h0M432.7,457.5h0M432.8,458.4h0M432.9,455.4h0M433,456.1h0M433.1,450.4h0M433.2,452.5h0M433.2,451.2h0M433.4,456.6h0M433.5,454.3h0M433.7,448.4h0M433.7,456.6h0M433.8,453.6h0M433.8,455.4h0M433.8,451.5h0M433.9,448.8h0M433.9,458.3h0M434,457.5h0M434.2,456.5h0M434.2,456.6h0M434.2,454h0M434.5,455.6h0M434.5,454h0M434.6,456.9h0M434.9,451.2h0M434.9,454.9h0M435,451.7h0M435.1,453.9h0M435.2,454.5h0M435.3,453.3h0M435.5,451.6h0M435.5,454.5h0M435.7,452.3h0M435.8,453.3h0M435.9,450.7h0M436,452.9h0M436.2,453.4h0M436.4,447.8h0M436.4,450.2h0M436.5,447.8h0M437.3,450.8h0M437.3,448.5h0M437.6,450.8h0M438.7,447.8h0M438.8,446.8h0M438.9,445.8h0M439.1,449.2h0M439.5,448.5h0M439.7,443.6h0M439.8,445.3h0M439.8,443.8h0M441,445h0M441.8,444.2h0M442.8,445h0M443.1,444.4h0M443.2,445.8h0M443.2,445.7h0M443.4,442.4h0M443.7,440.8h0M443.7,442.8h0M443.9,443.2h0M444.1,442.3h0M444.2,435.5h0M444.2,439.9h0M444.3,439.3h0M444.5,443.4h0M444.5,437.9h0M444.5,440.5h0M444.8,438h0M445,438.2h0M445,439h0M445.1,435.6h0M445.3,439.6h0M445.5,441.6h0M445.8,434.1h0M445.9,439.2h0M446,431.2h0M446.2,435.8h0M446.6,432.5h0M446.7,433.5h0M446.7,432.5h0M446.7,432.3h0M446.8,437.1h0M446.8,432.9h0M446.8,431.2h0M447.4,410h0M447.4,431.7h0M447.5,429.2h0M447.6,432.4h0M447.6,431.8h0M447.6,429.5h0M447.9,431h0M448.5,428.1h0M448.7,426.9h0M448.8,426.2h0M449.2,430.4h0M449.6,426.5h0M449.8,427.5h0M449.9,430h0M450.2,425.7h0M450.4,426.8h0M450.5,424.4h0M450.9,425.9h0M451,423h0M451.8,424.3h0M452.1,423.6h0M452.3,424.6h0M452.8,426.1h0M452.9,423h0M454,412.4h0M454.9,424.9h0M454.9,425.7h0M455.5,422.7h0M455.6,423.6h0M456.2,422h0M456.3,424.8h0M456.6,423.6h0M457.4,425.6h0M457.8,421.7h0M457.9,423.2h0M458.1,424.7h0M458.5,423.3h0M459.2,423.8h0M459.3,422.8h0M460,422.7h0M460.1,423.4h0M460.3,423.1h0M460.3,420.6h0M460.5,422.5h0M460.8,420.3h0M460.8,417.4h0M461.1,418h0M461.2,419h0M461.2,423.9h0M461.3,420.2h0M461.3,423h0M461.4,420.6h0M461.4,421h0M461.5,416.9h0M461.8,417.9h0M461.9,417.7h0M462.4,417.9h0M462.4,420h0M462.9,416.3h0M463.2,413.8h0M463.2,416.7h0M463.6,417h0M463.7,414.1h0M464,417.2h0M464,419.5h0M464.2,416.7h0M464.4,419.1h0M464.5,416h0M464.7,419.1h0M464.7,416.8h0M465.1,421.6h0M465.2,415.3h0M465.8,419.3h0M466,417.5h0M466,421.5h0M467.6,417.8h0M467.8,419.6h0M468.1,418.2h0M468.6,417.9h0M468.7,417.9h0M468.8,418.9h0M468.8,417.3h0M468.9,417.9h0M469.7,413.7h0M469.8,417.8h0M469.9,413.3h0M470,415.7h0M470.5,414.1h0M470.8,413.6h0M470.9,415.2h0M471,410.9h0M471.1,414h0M471.4,412.6h0M471.5,411h0M472.1,411.8h0M472.2,412.2h0M472.6,412.9h0M472.7,413.5h0M472.8,409.8h0M473.6,409.6h0M473.6,408.8h0M473.6,410.6h0M473.7,410.6h0M474.9,408.9h0M475.5,410.4h0M475.7,410.2h0M475.8,409.9h0M475.9,409h0M476.8,412.2h0M477.6,409.4h0M477.6,408.5h0M478.3,411.6h0M478.4,410.2h0M478.5,408.6h0M478.8,408.6h0M479.2,410.5h0M479.4,410.9h0M479.5,408.9h0M479.8,409.9h0M479.9,406.5h0M480.4,407.7h0M480.6,408.3h0M481,406.8h0M481.3,408.4h0M481.6,406.6h0M482,406h0M482.4,363h0M482.4,387.4h0M483.4,299.4h0M483.4,305.4h0M483.4,340h0M484.4,321.4h0M484.4,350.4h0M485,359h0M486,372h0M487,376h0M487,384h0M487,398h0M488,392h0M489,388h0M490,380h0M490,395h0M491,391h0M492,389h0M492,396h0M492.1,369.5h0M493,385h0M493.7,366.3h0M494.1,368.8h0M494.4,366.6h0M495.1,368.2h0M495.2,371.7h0M495.2,368.5h0M495.6,357h0M495.8,369.1h0M495.9,373h0M496.6,373.2h0M497.1,369.1h0M497.1,370.7h0M497.4,374.4h0M497.6,369.4h0M498,374.4h0M498.4,372.8h0M498.8,370.4h0M499,371.3h0M499.2,375.6h0M499.4,377.4h0M499.5,375.4h0M500.2,374.5h0M500.3,377.3h0M500.3,376.3h0M500.4,376.3h0M501.2,372.4h0M501.2,375.3h0M501.4,374.3h0M502.4,373h0M502.9,376.5h0M503.2,375.3h0M504.1,376.8h0M504.8,377.4h0M505.5,376.2h0M505.6,375.5h0M505.7,381.8h0M506.6,383.5h0M506.7,378.5h0M506.7,378.4h0M506.8,380.6h0M506.9,379.3h0M507,382.2h0M507.3,378.8h0M507.5,382.1h0M507.8,379.7h0M508.6,380h0M509,395h0M509.3,381.9h0M509.4,383.7h0M510.3,385.6h0M510.6,387.3h0M511,383.7h0M511.1,387.7h0M511.2,386h0M511.2,387h0M511.7,381.3h0M512.1,381.8h0M512.4,385.6h0M512.4,387.6h0M512.4,393.6h0M512.8,386.2h0M512.9,383.8h0M512.9,388.1h0M513.3,384.8h0M513.5,388.8h0M513.8,390.3h0M514,385h0M514,389.1h0M514.1,390.9h0M514.4,393.4h0M514.5,393.3h0M514.9,387.7h0M515.2,393.9h0M515.3,390.3h0M515.6,392.9h0M515.8,391.3h0M516,396h0M516,393.6h0M516.2,391.8h0M516.2,395.1h0M516.5,396.9h0M516.9,396.2h0M517,363.9h0M517,362.4h0M517.1,363.1h0M517.5,363.9h0M518,363.5h0M518,370h0M518,376h0M518.3,361.4h0M518.7,362.1h0M518.8,360.3h0M519.2,361h0M519.8,359.8h0M520.4,360.6h0M520.5,363h0M521.2,360.9h0M521.7,362.7h0M522,363h0M523.3,371.1h0M524.3,373.9h0M524.5,373.4h0M525.7,371.5h0M526.2,373.9h0M526.2,373h0M526.8,374h0M526.9,372.4h0M527,373.4h0M527.2,373.9h0M528.7,374.2h0M529.3,373.4h0M529.9,372.3h0M530.2,372.2h0M530.6,374.4h0M531.6,372.4h0M532,374.9h0M532.4,373.7h0M532.4,374.6h0M532.6,373.4h0M533.5,374.5h0M533.6,373.3h0M533.8,373h0M534.6,373.3h0M534.7,376.4h0M534.9,374.5h0M535.2,377.2h0M535.2,376.6h0M535.5,377h0M536.3,378.1h0M536.3,379.7h0M536.3,374.6h0M536.5,377.6h0M536.5,379.7h0M536.8,379.6h0M537,380.8h0M537.1,379h0M537.3,379h0M537.4,375h0M537.6,379h0M537.7,379.9h0M537.7,379.4h0M537.8,383.5h0M537.9,377.9h0M538.1,379.1h0M538.5,378.5h0M538.6,383.6h0M538.6,378.4h0M538.7,378.7h0M538.7,377.5h0M538.8,377.8h0M538.8,375.1h0M538.9,379.4h0M539.1,381.5h0M539.2,373.4h0M539.3,373.6h0M539.6,378.3h0M539.8,374.5h0M540,379.1h0M540.2,376.8h0M540.2,376.9h0M540.2,372.6h0M540.3,374.3h0M540.7,373.2h0M540.9,373.2h0M541,372.7h0M541.3,374.7h0M541.3,369.9h0M541.3,372.9h0M541.7,373.5h0M542.2,375.6h0M542.6,374.8h0M542.9,376.6h0M543.3,372.4h0M543.4,376.3h0M543.4,372.6h0M543.7,376h0M544.1,376.5h0M544.2,371.6h0M544.2,373.7h0M544.5,375.2h0M544.8,373.8h0M544.9,373.3h0M545.5,369.2h0M545.6,376.4h0M545.6,374.1h0M545.7,371.6h0M545.7,373.6h0M545.9,370.6h0M545.9,369h0M546,375h0M546.7,369.9h0M546.7,370.4h0M547.1,367.3h0M547.2,370h0M547.3,369h0M548.1,369.8h0M548.5,367.2h0M549.1,367.4h0M549.2,371.3h0M549.2,371.8h0M549.3,370.7h0M549.9,374.1h0M549.9,372.3h0M550.3,372.5h0M550.4,369.5h0M550.5,370.8h0M550.5,372.9h0M550.7,374.8h0M551.4,373h0M551.9,374h0M552.2,371.7h0M552.7,373.1h0M552.8,373h0M553.6,373.7h0M553.6,374.7h0M554.2,374.2h0M554.2,372.3h0M554.6,372.3h0M555.3,372.1h0M555.8,372.5h0M556.4,373h0M556.6,375h0M556.9,374.3h0M557.7,373.1h0M558.4,374.2h0M558.5,372.9h0M558.6,374.3h0M559.3,373.5h0M560,372.9h0M560.4,374.5h0M561,375.9h0M561.1,375.4h0M561.2,374.5h0M561.7,376.5h0M561.9,377.3h0M562.2,377.7h0M562.5,374.9h0M563,378.9h0M563,378.6h0M564.2,377h0M564.4,379.6h0M564.5,378.4h0M564.7,377.2h0M564.7,378h0M564.8,380.3h0M565.1,384.7h0M565.4,384.6h0M565.4,384.9h0M565.8,381.9h0M565.9,383.6h0M566,380.5h0M566.2,379.4h0M566.3,382h0M566.3,381.5h0M566.4,380.7h0M566.4,381.9h0M566.5,384.1h0M566.7,380.2h0M567,379.3h0M567,381.3h0M567.2,383.6h0M567.4,380.8h0M567.7,378.9h0M567.8,381.5h0M567.9,379.9h0M568.3,374.8h0M568.3,382h0M568.4,377.5h0M568.5,376.9h0M568.7,378.6h0M568.9,379.3h0M569.2,379.3h0M569.2,377.1h0M569.4,375.4h0M569.6,372.6h0M570.5,374.9h0M570.7,374.7h0M570.8,374.3h0M571.3,375.9h0M571.3,373.9h0M571.7,375.1h0M572.1,373.1h0M572.5,374h0M572.9,373h0M573.3,372.2h0M574.2,370.8h0M574.4,371.3h0M574.5,371.7h0M574.9,375.8h0M575,374.4h0M575.4,377.1h0M575.8,378.2h0M575.9,372.4h0M576,375.3h0M576,378.8h0M576.1,371.8h0M576.1,372.9h0M576.2,371.8h0M576.2,379.4h0M576.4,373.3h0M576.9,380.1h0M577,376h0M577,382.3h0M577.1,375h0M577.3,377.7h0M577.4,379.9h0M578,377.9h0M578.1,378.6h0M578.2,377.4h0M578.2,382.6h0M578.3,379.9h0M578.3,379.8h0M578.5,383.6h0M578.8,380.3h0M579.2,385.2h0M579.4,380.9h0M579.5,388.3h0M579.6,384.7h0M579.6,387.8h0M579.7,385.9h0M579.7,384.7h0M580,388.2h0M580.2,383.9h0M580.2,390.3h0M580.2,384.9h0M580.4,382.7h0M580.5,388.8h0M580.8,383.6h0M581,386.6h0M581.2,388.9h0M581.6,390.4h0M581.8,387.9h0M581.8,390.2h0M582,388.1h0M582.5,390.8h0M582.6,391.8h0M583,386.4h0M583.6,386.3h0M584.3,386.4h0M584.4,386.1h0M585,387.2h0M585.5,387.1h0M585.7,390.9h0M585.8,391.4h0M585.8,387h0M585.8,389.7h0M586.4,391.1h0M586.4,388h0M586.7,392.6h0M586.7,392.8h0M586.8,388.4h0M586.9,394.1h0M587,392.5h0M587,387.9h0M587.1,388.6h0M587.4,392.5h0M587.4,394.8h0M588,391.8h0M588.1,390.7h0M588.5,392.8h0M588.8,393.6h0M589.7,396.3h0M589.7,392.7h0M590.8,397.6h0M590.9,395h0M591.1,397.8h0M591.7,396.9h0M591.8,394.6h0M592.5,397.6h0M593,394.7h0M593.6,392.9h0M593.7,396.1h0M593.8,394.9h0M593.9,394.5h0M594.4,394.4h0M594.7,395h0M594.9,392.6h0M595,394h0M595.1,391.6h0M595.5,392.2h0M595.6,392.9h0M595.6,393.7h0M597.5,390.7h0M597.6,391h0M598,389.6h0M598.4,391.9h0M598.4,394.8h0M598.4,388.3h0M598.5,391h0M598.6,392.6h0M598.7,392.7h0M598.7,397.8h0M598.9,388.5h0M599,398h0M599.3,396.7h0M599.4,390.6h0M599.6,392.7h0M599.7,397.1h0M599.8,391.1h0M600.3,394.1h0M600.3,394.6h0M600.8,396.5h0M601.3,396.3h0M601.3,397.1h0M602.5,395.6h0M603,394.9h0M603.3,394.9h0M603.4,397.5h0M603.7,396.3h0M604.2,398.7h0M604.2,396.6h0M604.3,393.6h0M604.7,392.8h0M605.1,392.9h0M605.2,394.1h0M605.4,391.1h0M605.7,394.9h0M606,388.7h0M606.1,394.6h0M606.2,394.3h0M606.3,394.8h0M606.3,393.4h0M607,390h0M607.3,392.7h0M607.9,389.2h0M609.3,382.3h0M609.4,383.5h0M609.4,383.8h0M609.6,378.5h0M609.6,381.6h0M609.7,379.7h0M609.8,381.5h0M609.9,378.7h0M609.9,379.7h0M609.9,379.2h0M610.1,378.2h0M610.2,382.2h0M610.4,374.9h0M610.4,377.1h0M610.8,375.4h0M610.9,376.4h0M611,373.7h0M611.2,373.4h0M611.3,376.9h0M611.7,377.4h0M611.8,373.8h0M611.9,372.2h0M612,372.9h0M612.3,372.2h0M612.3,374.7h0M612.3,375.7h0M612.4,372.9h0M612.9,369.9h0M613.2,373.5h0M613.3,375.5h0M613.5,374.5h0M613.7,372.2h0M613.7,377h0M613.7,372.1h0M613.8,371.9h0M613.8,373.4h0M614.1,377.8h0M614.1,376.9h0M614.1,378.2h0M614.2,374.2h0M614.3,374.9h0M614.3,373.3h0M614.6,378.5h0M614.9,376.4h0M615,380.3h0M615.2,378.1h0M615.3,381h0M615.3,378.4h0M615.4,376.7h0M615.5,380.9h0M615.5,382.1h0M615.9,381.5h0M616,382h0M616.2,383.4h0M616.3,380.4h0M616.6,383h0M617.2,383.9h0M617.3,387.1h0M617.5,386.5h0M617.6,383.5h0M618,386h0M618,387.8h0M618,386.6h0M618.1,385.5h0M618.8,387.5h0M619.3,386.3h0M619.4,387.2h0M619.9,388.2h0M620.4,387.7h0M620.6,386.3h0M621.1,389.8h0M621.3,388h0M621.9,388h0M622.1,388.4h0M622.2,387.8h0M623.1,385.9h0M623.6,388.9h0M623.7,388.9h0M623.9,386.8h0M624,386.1h0M624.9,385.2h0M625.3,386.6h0M625.4,383.9h0M625.7,385.8h0M626.1,390.1h0M626.1,389.4h0M626.3,386.5h0M626.4,387.4h0M626.5,385.4h0M626.8,384.2h0M626.8,388.4h0M626.8,389.3h0M626.9,384.2h0M626.9,388.2h0M627.1,385.7h0M627.1,391.3h0M627.1,388.8h0M627.2,391.3h0M627.6,390.2h0M627.7,391.3h0M627.9,393.6h0M627.9,392.5h0M628.1,393.7h0M628.2,391.7h0M628.4,390.4h0M628.8,392.3h0M629.1,392.6h0M629.9,392.6h0M630.4,390.6h0M631,390h0M631.2,389.6h0M631.4,391.9h0M631.4,389.2h0M632.1,389.9h0M632.3,388.8h0M632.7,389.9h0M633.4,389.2h0M633.7,390.4h0M634.2,387.9h0M634.7,389.3h0M635,391.6h0M635.1,390.6h0M635.2,389.7h0M635.6,390.1h0M635.8,390.3h0M636.6,389.6h0M637.3,390.6h0M637.3,392.1h0M637.8,392.7h0M638.2,391.7h0M638.2,393.5h0M638.5,392.6h0M639.2,393.6h0M639.4,392.3h0M640.2,393.9h0M641.3,392.8h0M641.4,393.2h0M641.9,395.4h0M642,393.5h0M642.1,394.5h0M642.3,393.6h0M643.3,393.7h0M644.5,393.3h0M644.6,395.1h0M644.6,395.1h0M644.6,396.3h0M644.8,395.2h0M645.1,393.8h0M646.6,395.5h0M646.8,394.2h0M647.4,395.6h0M648.1,393.6h0M648.4,395.1h0M648.7,395.9h0M648.7,393.9h0M649.8,394.9h0M650,396.4h0M650.3,395.8h0M651,395.5h0M651.5,395.4h0M651.8,395.6h0M652,395.8h0M653.1,394.4h0M653.2,395.6h0M653.4,395.4h0M653.7,395.9h0M655,394.2h0M655.2,394.8h0M655.7,393h0M656,392.6h0M656.5,393.9h0M656.6,393.6h0M657.4,394.4h0M657.4,392.8h0M658.1,392.1h0M659.2,393.4h0M659.2,393h0M659.5,394.4h0M659.7,394.5h0M660.3,391.5h0M660.6,391.4h0M661.2,393.4h0M661.3,391h0M661.5,389h0M661.7,388.6h0M661.7,386.7h0M662.3,389h0M662.4,383.8h0M662.5,386.6h0M662.5,385.2h0M662.5,388h0M662.6,392.4h0M662.6,389.3h0M662.8,383.9h0M662.9,388.8h0M662.9,387.6h0M662.9,390.1h0M662.9,385.3h0M663.4,385.9h0M663.4,387.1h0M663.5,384.8h0M663.5,386.4h0M663.9,382.8h0M664.2,386.3h0M664.5,384.6h0M664.6,387h0M665.2,386.1h0M665.8,386.8h0M666.9,387.8h0M667.3,388.3h0M667.8,385.2h0M668,387h0M669.8,401.4h0M670.1,404.8h0M671.2,403.3h0M671.4,404.6h0M671.6,405.9h0M671.6,405.8h0M671.8,402.6h0M672.9,405.9h0M673,405.8h0M673,406.6h0M674,404.2h0M674.1,405.3h0M674.4,404.4h0M675.1,406.1h0M675.3,404.6h0M675.6,408.8h0M676.4,407.4h0M676.5,407.4h0M676.5,408.5h0M676.7,410.6h0M676.8,409.1h0M677.1,409.7h0M677.3,403.4h0M677.4,405.5h0M677.5,409.5h0M677.6,409.7h0M678,408.2h0M678,405.4h0M678.2,405.3h0M678.4,401.2h0M678.6,405.2h0M679,406.1h0M679.2,400.4h0M679.2,403.1h0M679.3,399.3h0M679.5,400.8h0M679.9,405.2h0M679.9,403.2h0M680,403.4h0M680.1,401.3h0M680.8,399.7h0M681,402h0M681,402h0M682,403.7h0M682.3,401.1h0M682.7,401.9h0M682.7,404.7h0M683.2,405.1h0M683.3,401.6h0M683.4,404.8h0M684.4,403.5h0M684.9,405.5h0M684.9,405.7h0M685.3,404.6h0M685.6,405h0M686.1,407.6h0M686.3,405.6h0M686.7,407.4h0M687.3,408h0M687.5,406.6h0M687.6,404.5h0M688.4,404.3h0M688.4,407h0M688.4,401.6h0M688.7,405.8h0M688.8,402.7h0M688.8,405.6h0M689,402.7h0M689.7,404.6h0M689.7,403.1h0M690.4,404.4h0M690.5,399.4h0M690.7,401h0M690.9,401.9h0M691.5,401.3h0M691.5,401.5h0M691.6,401.5h0M691.7,399.5h0M691.8,394.1h0M692.1,400.9h0M692.1,392.1h0M692.1,395.2h0M692.1,397.7h0M692.3,399.3h0M692.3,396.4h0M692.4,389h0M692.4,392.9h0M692.4,397.5h0M692.7,393.2h0M693,397.1h0M693,397.8h0M693,392.3h0M693.1,394.4h0M693.2,397.2h0M693.4,386.9h0M693.5,398.6h0M693.5,396.2h0M693.7,388.7h0M694.1,392.7h0M694.2,394.1h0M694.2,389.6h0M694.4,390.4h0M694.5,391.5h0M694.6,387.8h0M694.7,389.2h0M694.8,389.4h0M695.1,388.1h0M695.1,390.5h0M695.5,389.4h0M695.5,388.6h0M695.8,387.6h0M696.4,393.5h0M696.6,388.7h0M696.6,394.7h0M696.6,391.8h0M696.7,393h0M697,391.5h0M697.1,391.3h0M697.3,395.6h0M697.3,394.4h0M697.3,394.5h0M697.5,393.5h0M697.9,394.1h0M698.4,395h0M699.1,393.8h0M699.3,394.9h0M699.6,394.4h0M699.9,392.3h0M700.2,394.3h0M700.4,391.4h0M701.1,394.4h0M701.4,391.9h0M701.6,390.3h0M702.2,393.1h0M702.8,391.7h0M703,388.6h0M703.1,388.4h0M703.1,392h0M703.6,391h0M703.6,388.8h0M704.5,391h0M704.6,389.9h0M704.8,389.1h0M704.8,391.5h0M705,391.2h0M705.2,394.7h0M705.4,392.2h0M705.7,393h0M705.8,392.2h0M706.7,396.1h0M707.2,393.7h0M707.3,395.2h0M707.9,395.8h0M708.1,398.8h0M708.1,394.2h0M708.6,393.6h0M708.7,399.3h0M708.7,395.3h0M708.8,397h0M709,397.1h0M709.2,398h0M709.5,400.5h0M710.3,400.6h0M710.3,399.4h0M710.4,401.6h0M710.9,401.1h0M711.1,399.5h0M711.2,400.8h0M711.5,399.6h0M712.3,403.8h0M712.3,400.3h0M712.4,404.2h0M712.4,402.6h0M712.4,402.9h0M712.8,402.3h0M712.9,403.9h0M713.1,402h0M713.3,404.2h0M714,407.6h0M714.4,405.5h0M714.5,405.3h0M714.7,407.2h0M714.9,406.5h0M715.6,406.6h0M716,408.1h0M716.9,407.2h0M717.2,410.2h0M717.4,408.8h0M717.5,409.6h0M718.4,410.1h0M718.6,410.9h0M718.6,407.9h0M718.7,408.8h0M718.8,409.8h0M720,408.7h0M721,409.9h0M722,405.8h0M722.1,407.7h0M722.1,408.3h0M722.2,411h0M722.5,405.4h0M722.6,407.5h0M722.9,406.1h0M723.1,407.8h0M723.3,404.9h0M724,406h0M726.4,384.4h0M726.4,398h0M726.5,421.3h0M726.5,418.8h0M726.8,419h0M726.8,420.5h0M726.9,422.3h0M726.9,421.9h0M727.1,419.2h0M727.2,422.8h0M727.2,421.5h0M727.2,422.4h0M727.5,425.1h0M728,423.4h0M728.1,424.2h0M728.1,424.9h0M728.8,423.5h0M729,424.3h0M729.2,424h0M729.9,424h0M730.2,424.6h0M730.8,423h0M731.5,423.4h0M732,422.8h0M732.3,424h0M732.6,423h0M733,422.4h0M734.1,423.7h0M734.5,422.2h0M735.1,422.7h0M735.5,422.9h0M735.6,422.3h0M736,423h0M736.3,424.1h0M736.4,422.1h0M737.2,423.2h0M737.4,424.1h0M738.1,422.4h0M738.3,424.4h0M739.4,423.4h0M739.7,424.3h0M739.8,424.4h0M740.4,423h0M740.7,423.7h0M740.8,423.7h0M741.9,423.6h0M742.2,422.9h0M742.9,424.6h0M743,423.9h0M744.3,424.9h0M744.4,423.8h0M744.6,424.6h0M744.8,422.9h0M745.9,425.1h0M746,423.1h0M746.2,423.8h0M746.9,423.8h0M747.3,423.3h0M747.3,424.6h0M748.8,422.8h0M748.9,422.7h0M749.5,423.6h0M749.8,422.7h0M750.2,423.1h0M750.3,423.4h0M750.5,423.1h0M752,423.3h0M752.1,422.5h0M752.1,423.8h0M752.3,423.7h0M753.1,423.2h0M753.5,422.6h0M753.9,423h0M754.1,424h0M755.2,424.6h0M755.4,424.2h0M756.1,424.4h0M756.7,422.7h0M756.7,423.4h0M757.2,423.6h0M757.5,423.6h0M757.9,422.1h0M758.4,424.2h0M759.2,424.2h0M759.4,424h0M759.8,422.7h0M761,423.4h0M761.1,422h0M761.5,518h0M761.5,423.5h0M761.7,422.5h0M762.2,423.2h0M762.6,422.5h0M762.9,422.1h0M763.9,424.2h0M764.1,423.2h0M764.7,422.4h0M765.1,423.9h0M765.3,422.8h0M766,424.2h0M766.5,518h0M766.6,422.2h0M766.9,422.6h0M767,423h0M767.2,423.5h0M767.9,423.2h0M769.1,422.9h0M769.2,423h0M769.3,422.5h0M770,422.3h0M770.7,422.4h0M770.8,423h0M771.7,423.3h0M771.8,424h0M772,423.9h0M772.4,422.4h0M773.4,422.6h0M773.6,423.4h0M773.6,422.7h0M775,422.1h0M775,423.4h0M775.1,422.8h0M775.1,422h0M776.2,423.2h0M776.5,422.9h0M776.8,421.7h0M776.9,421.3h0M777.2,420.5h0M777.8,420.8h0M778.2,421.1h0M778.6,420.2h0M778.9,419.1h0M779.6,420.6h0M780.1,420.8h0M780.2,420.7h0M780.6,420.7h0M781,420.4h0M781.7,421.4h0M782,317.4h0M782.1,422.3h0M782.4,385.6h0M782.4,404h0M782.7,421.7h0M783,307h0M783,422h0M784,302.5h0M784,303h0M784,308h0M785,294h0M785,297h0M785.5,290h0M785.6,298h0M785.8,294h0M786,291h0M786.4,284h0M786.4,288h0M786.6,259.2h0M787,263h0M787,275h0M787.2,263.4h0M788,258h0M788.5,257.5h0M789,257.4h0M790,222.4h0M790,246h0M790.2,245.4h0M790.4,249h0M790.8,238.8h0M790.8,248.4h0M791,239h0M792,231.6h0M792.4,232h0M792.6,225.6h0M793.2,218.4h0M794,226h0M794.4,218h0M794.4,228h0M795,216h0M795.6,220.8h0M796,200h0M796.4,195h0M798,203h0M799,207h0M799.6,212h0M799.6,224.4h0M800,239.4h0M800,245.6h0M800.4,253h0M800.5,253.5h0M801,276.5h0M801.5,286h0M802,290h0M802,294h0M802.2,297.5h0M803.5,283h0M804,279h0M805.5,276h0M806,286h0M806.5,271h0M807,277h0M808,280h0M809,291h0M809.5,283h0M810,294.5h0M810.4,311.4h0M812.5,295.5h0M813.2,288.9h0M813.5,287.5h0M813.5,289.6h0M814.2,285.1h0M814.4,290.8h0M814.5,284.1h0M814.9,283.2h0M814.9,285.8h0M815,284.6h0M815,288h0M815,291.5h0M815.1,279h0M815.2,281.6h0M815.2,279.7h0M815.3,281.1h0M815.4,284.9h0M815.4,285.1h0M815.5,280.1h0M815.5,278.8h0M815.6,284.8h0M815.7,275.6h0M815.7,287.3h0M815.9,281h0M815.9,277.1h0M816,280.2h0M816.1,285.2h0M816.2,280.3h0M816.2,278.3h0M816.2,277.3h0M816.3,278.5h0M816.3,276.9h0M816.4,276.1h0M816.5,280.5h0M816.5,281.3h0M816.6,273.7h0M816.6,282h0M816.7,277.5h0M816.9,276.4h0M816.9,280.8h0M816.9,276.4h0M817,274.6h0M817.1,274h0M817.4,276.8h0M817.6,281.4h0M817.9,280.4h0M818,280.5h0M818.2,279.3h0M818.2,279.5h0M818.6,282.7h0M818.6,281.1h0M818.6,283.3h0M818.7,284.7h0M818.8,282h0M819.3,283.6h0M819.4,283.4h0M819.7,281.8h0M820,282.1h0M820,279.2h0M820,280.6h0M820.2,279.8h0M820.3,281.4h0M820.5,282.3h0M820.8,283.9h0M821.1,280.9h0M821.3,279.5h0M821.4,277.6h0M822.1,277.5h0M822.1,275.1h0M822.1,277h0M822.5,278.9h0M822.9,278.6h0M823,278.9h0M823.7,277.8h0M823.9,275.5h0M824.2,277.3h0M825.3,279.5h0M825.7,276.1h0M825.9,279.1h0M826.1,276.3h0M827.6,280.9h0M827.6,280.1h0M827.7,279.6h0M827.8,279.6h0M828.3,280.7h0M828.4,280.9h0M828.5,281.9h0M829.2,280.4h0M829.7,283.1h0M830,279.8h0M830.8,281.1h0M831,279.1h0M832.2,282.6h0M832.3,284.1h0M832.3,281.8h0M832.4,281.9h0M832.6,283.1h0M833,281.4h0M833.1,285.4h0M833.7,285.4h0M833.8,284.8h0M834.4,283.5h0M834.5,283.1h0M835.4,285.7h0M835.8,284.7h0M836.2,285.1h0M836.4,286.8h0M836.6,283.5h0M837.9,284.4h0M838.8,283.2h0M839.2,284.5h0M839.5,284.3h0M840.2,284.1h0M840.2,284.2h0M840.9,281.9h0M841,284.6h0M841.1,284.8h0M841.3,281.6h0M841.5,282.1h0M841.5,284.2h0M842,284.8h0M842.1,281.9h0M842.1,280.3h0M842.7,281.8h0M843,278.5h0M843.3,279.7h0M843.4,280.3h0M843.5,280.9h0M844.1,274.9h0M844.1,281h0M844.2,279.2h0M844.2,276.7h0M844.5,276.1h0M844.6,276.5h0M844.7,275.8h0M845,279.1h0M845.1,273.5h0M845.2,278.1h0M845.3,268.9h0M845.3,276h0M845.4,270.8h0M845.6,271.5h0M845.8,270.2h0M845.9,273.1h0M846,271.5h0M846,276.8h0M846,269.4h0M846.1,272.7h0M846.1,267.7h0M846.1,271.6h0M846.1,277.3h0M846.3,272.3h0M846.4,274.2h0M846.4,271.2h0M846.5,273.1h0M846.7,269.8h0M846.9,268.1h0M847.5,268.5h0M847.6,269.5h0M848,269.5h0M848.3,267.4h0M848.5,267.6h0M848.6,266.1h0M849,266.1h0M849.1,267.5h0M849.5,267.2h0M849.6,263.9h0M849.9,263h0M850.1,265.7h0M850.3,265.7h0M850.6,263h0M850.7,263.8h0M851,263.7h0M851.2,261.3h0M851.3,260.6h0M851.4,260.6h0M851.7,263.4h0M852,260.7h0M852,262.1h0M852,260.5h0M852.2,261.2h0M852.3,251.1h0M852.4,260.5h0M852.4,251.2h0M853.2,250.2h0M853.3,250.4h0M853.5,260.3h0M853.8,250h0M853.9,250.3h0M854.4,259h0M854.5,259h0M855.1,250.1h0M855.1,259.7h0M855.2,250.2h0M855.2,259.9h0M855.3,250.8h0M855.5,259.1h0M855.5,250.7h0M856.1,259.1h0M856.5,249h0M856.7,259.6h0M856.8,249.6h0M857.1,258.9h0M857.1,249.1h0M857.1,258h0M857.3,248.8h0M857.3,256h0M857.5,257.5h0M857.7,256.6h0M857.8,257h0M857.8,249.1h0M857.9,256.3h0M858.4,247.7h0M858.4,254h0M858.4,255.3h0M858.4,248.4h0M858.9,246.4h0M859.1,246.4h0M859.2,254.5h0M859.2,247h0M859.3,246.9h0M859.5,255.1h0M859.7,255h0M859.8,253.6h0M859.9,246.8h0M860,252.8h0M860.2,244.6h0M860.4,245.5h0M860.4,245.4h0M860.6,244.6h0M860.6,243.7h0M860.6,251.7h0M860.7,251.3h0M860.9,250.5h0M860.9,253.4h0M861.2,252h0M861.4,242.2h0M861.4,251.1h0M861.6,243.9h0M861.7,243.1h0M861.8,243.1h0M862.2,251.8h0M862.5,241.4h0M862.5,240.7h0M862.5,241.8h0M862.6,249.6h0M862.7,250.1h0M862.8,241.4h0M863.1,249h0M863.1,240.8h0M863.2,249.8h0M863.5,239.4h0M863.6,249.1h0M863.6,241.1h0M863.7,248.4h0M863.7,237.8h0M863.7,248.2h0M864,238.5h0M864.3,237.9h0M864.4,248.5h0M864.4,239.2h0M864.4,238.3h0M864.8,247.6h0M865.1,247.6h0M865.1,247.1h0M865.1,236.3h0M865.4,235.3h0M865.4,236.2h0M865.4,245.6h0M865.8,234.1h0M865.9,246.9h0M865.9,235.7h0M866,236.3h0M866,234.9h0M866.4,234h0M866.5,245.9h0M866.7,245.4h0M866.7,244.5h0M866.9,244.5h0M867,250.8h0M867.4,268h0M867.6,244.7h0M867.7,244.1h0M868.2,253.8h0M868.3,244.6h0M868.9,242.7h0M869,242.9h0M869.4,241.7h0M869.7,243.4h0M869.9,241.6h0M870.2,243.1h0M870.5,241.4h0M870.6,243h0M871.3,240.7h0M871.6,239.9h0M871.7,240h0M871.8,241.4h0M871.8,241.5h0M871.9,238.2h0M872.1,239.9h0M872.4,238.6h0M872.7,239h0M872.9,235.8h0M873.2,239.5h0M873.4,235.3h0M873.5,235.2h0M873.9,235.7h0M874.1,234.8h0M874.1,235.5h0M874.6,235.6h0M875,232.3h0M875.3,231.6h0M875.3,233.1h0M875.4,233.3h0M875.7,234.6h0M876.2,231.5h0M876.7,231.8h0M877,230.1h0M877.1,228.7h0M877.2,229.7h0M877.3,230.8h0M877.5,229.8h0M877.8,229.8h0M878.3,227.5h0M878.4,228.5h0M878.4,228h0M879.4,240h0M879.4,245h0M881,253h0M882,259h0M883,268h0M883,272h0M887,268h0M887,289h0M887.4,296h0M887.4,302h0M888,312.4h0M888,324h0M889,330h0M891,336h0M892,341h0M895,336h0M896,330h0M897,324h0M899,310h0M899,314h0M899.6,316.3h0M899.7,318h0M900.2,316.4h0M901.2,316.8h0M902.1,319h0M902.7,316.9h0M902.8,320h0M903.2,321.1h0M903.3,321h0M903.9,318.7h0M904.3,319.5h0M904.4,319.7h0M904.9,321.2h0M906.3,319.8h0M906.8,319h0M906.9,318.9h0M907.4,320.3h0M907.6,317.3h0M907.9,319.5h0M908.3,319.8h0M908.7,318.8h0M909.2,319.1h0M909.3,316.6h0M909.4,319h0M910.4,318.7h0M910.5,314.7h0M910.6,317.3h0M911.6,315.6h0M911.6,315h0M911.8,313.7h0M911.9,313.3h0M912,318.6h0M912,312.4h0M912.4,315h0M912.7,315.3h0M913,313.2h0M913.8,314h0M914.6,313.5h0M914.7,311.3h0M914.7,311.8h0M914.8,314.5h0M914.9,311.6h0M915.4,311.4h0M915.5,310.5h0M916.3,309.3h0M916.8,310.7h0M916.9,308.7h0M917.1,309.2h0M918.2,309.9h0M918.3,310.2h0M919.1,308.7h0M919.1,308.5h0M919.2,308.9h0M919.4,306.1h0M920,308.7h0M920.6,309.8h0M921.5,308.2h0M921.6,306.7h0M922.1,307.5h0M922.3,308.4h0M922.6,306.1h0M923.5,306.4h0M923.7,307.5h0M923.9,308.1h0M924.4,305.9h0M925,307.3h0M926.2,307.7h0M926.4,307.6h0M926.6,308.1h0M926.7,306.9h0M926.9,304.8h0M927.1,295.9h0M927.2,293.9h0M927.2,292.9h0M927.4,296.6h0M927.5,302.8h0M927.5,295h0M927.9,303.3h0M927.9,304.7h0M928,298.1h0M928,304.9h0M928,292h0M928,303h0M928.1,302.9h0M928.1,299.3h0M928.4,306.2h0M928.6,301.1h0M928.6,301.9h0M928.7,297h0M928.7,295.7h0M928.8,292.7h0M928.9,291.2h0M929,293.4h0M929.2,298.3h0M929.2,297.7h0M929.3,301h0M929.4,302.5h0M929.4,292.3h0M929.7,298.2h0M929.7,303.1h0M929.8,296.4h0M929.8,300.1h0M930,306.8h0" stroke="#000" stroke-width="5.5" stroke-linecap="round" fill="none"/>
<path d="M121,407 L121.1,407.3 L121.2,407.6 L121.3,407.9 L121.4,408.3 L121.6,408.7 L121.7,409.2 L121.9,409.7 L122,410.2 L122.2,410.7 L122.4,411.3 L122.6,411.9 L122.8,412.4 L123,413 L123.2,413.6 L123.3,414.2 L123.5,414.8 L123.8,415.4 L124,416 L124.2,416.6 L124.4,417.1 L124.6,417.7 L124.8,418.2 L124.9,418.7 L125.1,419.2 L125.3,419.6 L125.5,420 L125.7,420.4 L125.8,420.7 L126,421 L126.5,421.8 L127,422.2 L127.5,422.4 L128,422.4 L128.5,422.3 L129,422.2 L129.5,422.2 L130,422.4 L130.4,422.7 L130.8,423 L131.2,423.5 L131.6,424 L132,424.5 L132.4,425 L132.8,425.5 L133.2,425.8 L133.7,426.1 L134.1,426.3 L134.5,426.2 L135,426 L135.2,425.8 L135.4,425.6 L135.6,425.3 L135.9,424.9 L136.1,424.5 L136.3,424 L136.5,423.5 L136.8,423 L137,422.5 L137.2,421.9 L137.5,421.3 L137.7,420.7 L137.9,420.1 L138.2,419.5 L138.4,419 L138.6,418.4 L138.9,417.8 L139.1,417.3 L139.4,416.8 L139.6,416.3 L139.8,415.8 L140.1,415.4 L140.3,415.1 L140.5,414.8 L140.8,414.6 L141,414.4 L141.4,414.3 L141.8,414.3 L142.2,414.5 L142.6,414.9 L143,415.3 L143.4,415.8 L143.8,416.4 L144.2,416.9 L144.6,417.5 L145,418 L145.4,418.5 L145.8,418.8 L146.2,419 L146.6,419.1 L147,419 L147.2,418.8 L147.5,418.6 L147.7,418.3 L148,418 L148.2,417.6 L148.5,417.2 L148.7,416.8 L149,416.3 L149.2,415.8 L149.4,415.2 L149.7,414.7 L149.9,414.1 L150.2,413.6 L150.4,413 L150.7,412.4 L150.9,411.9 L151.2,411.3 L151.4,410.8 L151.6,410.3 L151.9,409.8 L152.1,409.4 L152.3,409 L152.6,408.6 L152.8,408.3 L153,408 L153.5,407.6 L154,407.4 L154.5,407.5 L155,407.6 L155.5,407.9 L156,408.1 L156.5,408.2 L157,408.1 L157.5,407.7 L158,407 L158.2,406.7 L158.3,406.4 L158.5,406.1 L158.6,405.8 L158.8,405.4 L158.9,405 L159.1,404.6 L159.2,404.1 L159.4,403.7 L159.5,403.2 L159.7,402.7 L159.9,402.2 L160,401.7 L160.2,401.2 L160.3,400.6 L160.5,400.1 L160.6,399.6 L160.8,399 L161,398.4 L161.1,397.9 L161.3,397.3 L161.5,396.8 L161.6,396.2 L161.8,395.7 L162,395.1 L162.2,394.6 L162.3,394.1 L162.5,393.5 L162.7,393 L162.9,392.6 L163.1,392.1 L163.2,391.6 L163.4,391.2 L163.6,390.8 L163.8,390.4 L164,390 L164.3,389.5 L164.6,389 L164.9,388.5 L165.2,388 L165.5,387.6 L165.9,387.2 L166.2,386.8 L166.5,386.4 L166.9,386.1 L167.2,385.7 L167.5,385.4 L167.9,385.1 L168.2,384.7 L168.6,384.4 L168.9,384.1 L169.3,383.8 L169.6,383.5 L170,383.1 L170.3,382.8 L170.6,382.5 L171,382.1 L171.3,381.8 L171.7,381.4 L172,381 L172.3,380.6 L172.7,380.3 L173,379.9 L173.3,379.5 L173.7,379.2 L174,378.8 L174.4,378.5 L174.7,378.1 L175.1,377.8 L175.4,377.4 L175.8,377 L176.1,376.7 L176.5,376.3 L176.8,375.9 L177.2,375.6 L177.5,375.2 L177.8,374.8 L178.1,374.3 L178.4,373.9 L178.7,373.5 L179,373 L179.3,372.5 L179.5,372 L179.8,371.5 L180,371 L180.2,370.6 L180.3,370.2 L180.4,369.7 L180.6,369.3 L180.7,368.8 L180.8,368.3 L180.9,367.9 L181,367.4 L181.1,366.8 L181.2,366.3 L181.3,365.8 L181.4,365.3 L181.5,364.7 L181.5,364.2 L181.6,363.7 L181.7,363.1 L181.8,362.6 L181.8,362 L181.9,361.5 L181.9,360.9 L182,360.4 L182.1,359.8 L182.1,359.3 L182.2,358.8 L182.3,358.3 L182.3,357.7 L182.4,357.2 L182.5,356.7 L182.6,356.2 L182.6,355.8 L182.7,355.3 L182.8,354.9 L182.9,354.4 L183,354 L183.2,353.4 L183.3,352.8 L183.5,352.2 L183.6,351.5 L183.8,350.9 L184,350.3 L184.1,349.7 L184.3,349.1 L184.5,348.5 L184.7,347.9 L184.8,347.4 L185,346.9 L185.2,346.4 L185.4,345.9 L185.6,345.4 L185.8,345 L185.9,344.6 L186.1,344.2 L186.3,343.9 L186.5,343.6 L186.6,343.4 L186.8,343.2 L187,343 L187.3,342.9 L187.7,342.9 L188,343.1 L188.4,343.4 L188.7,343.9 L189.1,344.4 L189.4,345 L189.7,345.7 L190.1,346.3 L190.4,346.9 L190.7,347.5 L191,348 L191.3,348.5 L191.5,349 L191.7,349.6 L192,350.2 L192.2,350.9 L192.4,351.5 L192.6,352.1 L192.8,352.7 L193.1,353.2 L193.3,353.6 L193.5,353.9 L193.8,354 L194,354 L194.2,353.9 L194.4,353.6 L194.6,353.2 L194.8,352.7 L195,352.1 L195.2,351.5 L195.4,350.8 L195.6,350.1 L195.8,349.4 L196,348.7 L196.2,348 L196.4,347.4 L196.6,346.8 L196.8,346.3 L197,346 L197.2,345.7 L197.4,345.6 L197.6,345.6 L197.7,345.7 L197.9,345.9 L198,346.2 L198.2,346.5 L198.3,346.9 L198.4,347.3 L198.6,347.8 L198.7,348.3 L198.9,348.8 L199,349.4 L199.1,350 L199.3,350.6 L199.4,351.3 L199.5,351.9 L199.7,352.6 L199.8,353.2 L199.9,353.9 L200.1,354.5 L200.2,355.1 L200.3,355.7 L200.5,356.2 L200.6,356.7 L200.7,357.2 L200.9,357.6 L201,358 L201.3,358.8 L201.6,359.6 L201.8,360.4 L202.1,361.1 L202.3,361.7 L202.6,362.3 L202.9,362.7 L203.1,363.1 L203.4,363.2 L203.7,363.2 L204,363 L204.1,362.8 L204.3,362.6 L204.4,362.2 L204.6,361.8 L204.7,361.4 L204.9,360.8 L205,360.3 L205.2,359.7 L205.4,359.1 L205.5,358.4 L205.7,357.8 L205.9,357.1 L206,356.4 L206.2,355.8 L206.4,355.1 L206.5,354.5 L206.7,353.9 L206.9,353.3 L207,352.8 L207.2,352.3 L207.3,351.9 L207.5,351.6 L207.7,351.3 L207.8,351.1 L208,351 L208.2,351 L208.4,351.1 L208.6,351.4 L208.8,351.7 L209.1,352.2 L209.3,352.7 L209.5,353.3 L209.7,354 L209.9,354.7 L210.1,355.3 L210.3,356.1 L210.5,356.7 L210.7,357.4 L210.9,358 L211.2,358.6 L211.4,359.1 L211.6,359.5 L211.8,359.8 L212,360 L212.4,360.1 L212.7,360.1 L213.1,359.8 L213.5,359.5 L213.8,359 L214.2,358.5 L214.5,357.9 L214.9,357.4 L215.3,356.8 L215.6,356.4 L216,356 L216.4,355.7 L216.8,355.6 L217.1,355.5 L217.5,355.4 L217.9,355.3 L218.3,355.2 L218.7,354.9 L219.1,354.5 L219.5,353.9 L220,353 L220.1,352.7 L220.3,352.4 L220.4,352 L220.6,351.7 L220.7,351.3 L220.9,350.8 L221,350.4 L221.2,349.9 L221.4,349.5 L221.5,349 L221.7,348.4 L221.9,347.9 L222,347.4 L222.2,346.9 L222.4,346.3 L222.5,345.7 L222.7,345.2 L222.9,344.6 L223,344.1 L223.2,343.5 L223.4,342.9 L223.6,342.4 L223.8,341.8 L223.9,341.3 L224.1,340.8 L224.3,340.2 L224.5,339.7 L224.6,339.2 L224.8,338.8 L225,338.3 L225.2,337.9 L225.3,337.4 L225.5,337 L225.7,336.7 L225.8,336.3 L226,336 L226.4,335.3 L226.8,334.8 L227.2,334.4 L227.6,334.1 L228,333.9 L228.4,333.7 L228.8,333.6 L229.2,333.4 L229.6,333.3 L230,333.1 L230.4,332.9 L230.8,332.6 L231.2,332.2 L231.6,331.7 L232,331 L232.2,330.7 L232.3,330.3 L232.5,330 L232.7,329.6 L232.8,329.2 L233,328.8 L233.2,328.3 L233.3,327.9 L233.5,327.4 L233.7,326.9 L233.8,326.4 L234,325.9 L234.2,325.4 L234.3,324.9 L234.5,324.4 L234.7,323.8 L234.8,323.3 L235,322.8 L235.2,322.2 L235.3,321.7 L235.5,321.1 L235.7,320.6 L235.8,320 L236,319.5 L236.2,319 L236.3,318.5 L236.5,318 L236.7,317.5 L236.8,317 L237,316.5 L237.2,316 L237.3,315.6 L237.5,315.2 L237.7,314.8 L237.8,314.4 L238,314 L238.3,313.4 L238.6,312.9 L238.9,312.4 L239.1,312 L239.4,311.6 L239.7,311.3 L240,311 L240.3,310.7 L240.6,310.4 L240.9,310.1 L241.1,309.9 L241.4,309.6 L241.7,309.2 L242,308.9 L242.3,308.5 L242.6,308.1 L242.9,307.6 L243.1,307.1 L243.4,306.4 L243.7,305.8 L244,305 L244.1,304.7 L244.2,304.3 L244.4,303.9 L244.5,303.5 L244.6,303.1 L244.7,302.7 L244.8,302.3 L244.9,301.9 L245.1,301.4 L245.2,300.9 L245.3,300.5 L245.4,300 L245.5,299.5 L245.6,299 L245.8,298.5 L245.9,298 L246,297.4 L246.1,296.9 L246.2,296.4 L246.4,295.8 L246.5,295.3 L246.6,294.7 L246.7,294.2 L246.8,293.6 L246.9,293.1 L247.1,292.5 L247.2,292 L247.3,291.4 L247.4,290.9 L247.5,290.3 L247.6,289.8 L247.8,289.2 L247.9,288.7 L248,288.1 L248.1,287.6 L248.2,287 L248.4,286.5 L248.5,286 L248.6,285.5 L248.7,285 L248.8,284.5 L248.9,284 L249.1,283.5 L249.2,283 L249.3,282.5 L249.4,282.1 L249.5,281.6 L249.6,281.2 L249.8,280.8 L249.9,280.4 L250,280 L250.2,279.4 L250.4,278.8 L250.6,278.2 L250.8,277.6 L251,277.1 L251.2,276.5 L251.4,276 L251.6,275.5 L251.8,275.1 L252,274.6 L252.2,274.1 L252.4,273.7 L252.6,273.3 L252.8,272.9 L253,272.4 L253.2,272 L253.4,271.6 L253.6,271.2 L253.8,270.8 L254,270.4 L254.2,270 L254.4,269.6 L254.6,269.2 L254.8,268.8 L255,268.3 L255.2,267.9 L255.4,267.4 L255.6,267 L255.8,266.5 L256,266 L256.2,265.6 L256.4,265.1 L256.5,264.7 L256.7,264.2 L256.9,263.8 L257.1,263.3 L257.3,262.8 L257.5,262.4 L257.6,261.9 L257.8,261.4 L258,261 L258.2,260.5 L258.4,260 L258.6,259.6 L258.8,259.1 L258.9,258.6 L259.1,258.1 L259.3,257.6 L259.5,257.2 L259.7,256.7 L259.9,256.2 L260,255.7 L260.2,255.2 L260.4,254.8 L260.6,254.3 L260.7,253.8 L260.9,253.3 L261.1,252.8 L261.2,252.4 L261.4,251.9 L261.5,251.4 L261.7,250.9 L261.9,250.5 L262,250 L262.2,249.5 L262.3,249 L262.5,248.5 L262.6,248 L262.7,247.5 L262.9,247.1 L263,246.6 L263.1,246.1 L263.3,245.6 L263.4,245.1 L263.5,244.7 L263.6,244.2 L263.8,243.7 L263.9,243.2 L264,242.7 L264.1,242.2 L264.2,241.8 L264.4,241.3 L264.5,240.8 L264.6,240.3 L264.7,239.8 L264.8,239.3 L264.9,238.8 L265,238.3 L265.2,237.8 L265.3,237.2 L265.4,236.7 L265.5,236.2 L265.6,235.7 L265.8,235.1 L265.9,234.6 L266,234 L266.1,233.5 L266.2,233.1 L266.3,232.6 L266.4,232.1 L266.5,231.6 L266.6,231.1 L266.7,230.6 L266.8,230.1 L266.9,229.6 L267,229.1 L267.1,228.6 L267.2,228.1 L267.3,227.5 L267.4,227 L267.5,226.5 L267.6,226 L267.7,225.4 L267.8,224.9 L267.9,224.3 L268,223.8 L268.1,223.3 L268.2,222.7 L268.3,222.2 L268.4,221.7 L268.5,221.2 L268.6,220.6 L268.7,220.1 L268.8,219.6 L268.9,219.1 L269,218.6 L269.1,218.1 L269.2,217.6 L269.3,217.1 L269.4,216.7 L269.5,216.2 L269.6,215.7 L269.7,215.3 L269.8,214.8 L269.9,214.4 L270,214 L270.1,213.4 L270.3,212.8 L270.4,212.1 L270.6,211.5 L270.8,210.9 L270.9,210.2 L271.1,209.6 L271.2,209 L271.4,208.4 L271.5,207.8 L271.7,207.2 L271.8,206.6 L272,206 L272.1,205.5 L272.3,205 L272.4,204.4 L272.6,204 L272.7,203.5 L272.9,203.1 L273,202.7 L273.2,202.3 L273.3,202 L273.5,201.7 L273.6,201.5 L273.7,201.3 L273.9,201.1 L274,201 L274.2,200.9 L274.4,201 L274.6,201.2 L274.8,201.4 L275,201.8 L275.1,202.3 L275.3,202.8 L275.5,203.4 L275.6,204 L275.8,204.7 L276,205.3 L276.1,206 L276.3,206.7 L276.5,207.3 L276.7,207.9 L276.8,208.5 L277,209 L277.2,209.5 L277.4,210 L277.5,210.5 L277.7,211 L277.9,211.5 L278.1,212.1 L278.2,212.6 L278.4,213.1 L278.6,213.6 L278.8,214.1 L278.9,214.6 L279.1,215.1 L279.3,215.5 L279.5,215.9 L279.6,216.3 L279.8,216.7 L280,217 L280.4,217.5 L280.9,217.5 L281.3,217.4 L281.7,217.3 L282.1,217.4 L282.6,217.9 L283,219 L283.1,219.3 L283.2,219.6 L283.2,220 L283.3,220.3 L283.4,220.7 L283.5,221.1 L283.6,221.6 L283.7,222 L283.7,222.5 L283.8,223 L283.9,223.5 L284,224 L284.1,224.5 L284.2,225.1 L284.3,225.6 L284.3,226.2 L284.4,226.7 L284.5,227.3 L284.6,227.9 L284.7,228.5 L284.8,229 L284.8,229.6 L284.9,230.2 L285,230.8 L285.1,231.4 L285.2,231.9 L285.2,232.5 L285.3,233.1 L285.4,233.6 L285.5,234.2 L285.5,234.7 L285.6,235.2 L285.7,235.7 L285.7,236.2 L285.8,236.7 L285.9,237.1 L285.9,237.6 L286,238 L286.1,238.6 L286.2,239.2 L286.3,239.8 L286.3,240.4 L286.4,240.9 L286.5,241.4 L286.5,242 L286.6,242.4 L286.6,242.9 L286.7,243.4 L286.7,243.9 L286.8,244.3 L286.8,244.8 L286.9,245.2 L286.9,245.7 L287,246.1 L287,246.6 L287.1,247 L287.1,247.5 L287.2,248 L287.3,248.5 L287.3,249 L287.4,249.5 L287.5,250 L287.6,250.5 L287.6,251 L287.7,251.5 L287.8,252 L287.9,252.5 L287.9,253 L288,253.5 L288.1,254.1 L288.2,254.6 L288.3,255.2 L288.3,255.7 L288.4,256.3 L288.5,256.8 L288.6,257.4 L288.7,257.9 L288.8,258.5 L288.9,259 L289,259.5 L289.1,260 L289.1,260.5 L289.2,261 L289.3,261.5 L289.5,262 L289.6,262.4 L289.7,262.8 L289.8,263.2 L289.9,263.6 L290,264 L290.2,264.6 L290.5,265.2 L290.8,265.6 L291.1,265.9 L291.4,266.2 L291.7,266.4 L292,266.6 L292.3,266.9 L292.6,267.2 L292.9,267.5 L293.2,267.9 L293.5,268.5 L293.7,269.2 L294,270 L294.1,270.3 L294.2,270.7 L294.3,271.1 L294.3,271.5 L294.4,271.9 L294.5,272.3 L294.6,272.8 L294.7,273.3 L294.7,273.8 L294.8,274.2 L294.9,274.8 L295,275.3 L295,275.8 L295.1,276.4 L295.2,276.9 L295.3,277.5 L295.3,278 L295.4,278.6 L295.5,279.2 L295.6,279.8 L295.6,280.3 L295.7,280.9 L295.8,281.5 L295.8,282 L295.9,282.6 L296,283.2 L296.1,283.7 L296.1,284.3 L296.2,284.8 L296.3,285.4 L296.3,285.9 L296.4,286.4 L296.5,286.9 L296.6,287.4 L296.6,287.9 L296.7,288.3 L296.8,288.8 L296.9,289.2 L296.9,289.6 L297,290 L297.1,290.7 L297.3,291.3 L297.4,291.9 L297.6,292.4 L297.7,292.9 L297.8,293.3 L297.9,293.7 L298.1,294 L298.2,294.4 L298.3,294.8 L298.4,295.1 L298.6,295.5 L298.7,295.9 L298.9,296.3 L299,296.8 L299.2,297.3 L299.4,297.8 L299.6,298.5 L299.8,299.2 L300,300 L300.1,300.4 L300.2,300.7 L300.3,301.1 L300.4,301.5 L300.5,302 L300.6,302.4 L300.7,302.9 L300.8,303.3 L300.9,303.8 L301,304.3 L301.2,304.8 L301.3,305.4 L301.4,305.9 L301.5,306.4 L301.6,307 L301.8,307.5 L301.9,308.1 L302,308.6 L302.2,309.2 L302.3,309.8 L302.4,310.4 L302.5,310.9 L302.7,311.5 L302.8,312.1 L302.9,312.7 L303.1,313.2 L303.2,313.8 L303.3,314.4 L303.5,314.9 L303.6,315.5 L303.7,316.1 L303.9,316.6 L304,317.1 L304.1,317.7 L304.3,318.2 L304.4,318.7 L304.5,319.2 L304.7,319.7 L304.8,320.2 L304.9,320.6 L305,321.1 L305.2,321.5 L305.3,321.9 L305.4,322.3 L305.5,322.7 L305.7,323 L305.8,323.4 L305.9,323.7 L306,324 L306.4,325 L306.9,325.6 L307.3,326 L307.7,326.1 L308.1,326.2 L308.5,326.1 L308.9,326.1 L309.3,326.1 L309.7,326.2 L310.1,326.5 L310.6,327.1 L311,328 L311.1,328.3 L311.2,328.6 L311.4,329 L311.5,329.3 L311.6,329.7 L311.8,330.1 L311.9,330.6 L312,331 L312.2,331.5 L312.3,332 L312.4,332.5 L312.6,333 L312.7,333.5 L312.8,334 L313,334.6 L313.1,335.1 L313.2,335.7 L313.4,336.2 L313.5,336.8 L313.7,337.4 L313.8,337.9 L313.9,338.5 L314.1,339.1 L314.2,339.7 L314.3,340.3 L314.5,340.8 L314.6,341.4 L314.8,342 L314.9,342.6 L315,343.1 L315.2,343.7 L315.3,344.2 L315.4,344.7 L315.6,345.3 L315.7,345.8 L315.8,346.3 L316,346.8 L316.1,347.2 L316.2,347.7 L316.4,348.1 L316.5,348.5 L316.6,348.9 L316.8,349.3 L316.9,349.7 L317,350 L317.3,350.8 L317.6,351.5 L317.9,352.1 L318.2,352.6 L318.5,353 L318.7,353.3 L319,353.7 L319.2,353.9 L319.5,354.2 L319.8,354.4 L320.1,354.7 L320.3,355 L320.6,355.3 L321,355.6 L321.3,356 L321.6,356.5 L322,357 L322.2,357.4 L322.5,357.7 L322.7,358.1 L322.9,358.6 L323.2,359.1 L323.4,359.5 L323.7,360 L324,360.6 L324.2,361.1 L324.5,361.6 L324.8,362.2 L325.1,362.7 L325.4,363.3 L325.7,363.8 L325.9,364.4 L326.2,364.9 L326.5,365.4 L326.8,366 L327.1,366.4 L327.4,366.9 L327.7,367.4 L327.9,367.8 L328.2,368.2 L328.5,368.6 L328.7,368.9 L329,369.2 L329.3,369.5 L329.5,369.7 L329.8,369.9 L330,370 L330.4,370.1 L330.8,370 L331.1,369.8 L331.5,369.5 L331.8,369.1 L332.1,368.6 L332.5,368.1 L332.8,367.5 L333.1,366.9 L333.4,366.2 L333.8,365.6 L334.1,365 L334.4,364.5 L334.7,364 L335,363.6 L335.3,363.3 L335.7,363.1 L336,363 L336.3,363 L336.7,363.2 L337,363.4 L337.3,363.6 L337.6,363.9 L337.9,364.3 L338.2,364.7 L338.6,365.2 L338.9,365.6 L339.2,366.1 L339.5,366.6 L339.9,367.1 L340.2,367.7 L340.5,368.2 L340.9,368.7 L341.2,369.1 L341.6,369.6 L342,370 L342.3,370.4 L342.7,370.8 L343,371.2 L343.4,371.7 L343.8,372.2 L344.2,372.8 L344.6,373.3 L344.9,373.8 L345.3,374.4 L345.7,374.9 L346.1,375.4 L346.5,375.8 L346.9,376.2 L347.3,376.6 L347.7,376.9 L348.1,377.1 L348.5,377.3 L348.9,377.4 L349.3,377.3 L349.6,377.2 L350,377 L350.2,376.8 L350.4,376.6 L350.6,376.4 L350.8,376.1 L351,375.7 L351.1,375.4 L351.3,375 L351.5,374.6 L351.7,374.1 L351.9,373.6 L352.1,373.1 L352.3,372.6 L352.5,372.1 L352.7,371.5 L352.9,370.9 L353.1,370.4 L353.3,369.8 L353.4,369.2 L353.6,368.6 L353.8,367.9 L354,367.3 L354.2,366.7 L354.4,366.1 L354.5,365.5 L354.7,364.9 L354.9,364.3 L355.1,363.7 L355.2,363.1 L355.4,362.6 L355.6,362 L355.7,361.5 L355.9,361 L356,360.5 L356.2,360.1 L356.3,359.6 L356.5,359.2 L356.6,358.9 L356.7,358.6 L356.9,358.3 L357,358 L357.7,356.7 L358.2,356 L358.6,355.9 L359,356.2 L359.4,356.9 L360,358 L360.1,358.3 L360.3,358.6 L360.4,358.9 L360.6,359.3 L360.7,359.8 L360.9,360.3 L361,360.8 L361.2,361.3 L361.3,361.9 L361.5,362.4 L361.7,363 L361.8,363.6 L362,364.3 L362.2,364.9 L362.4,365.5 L362.5,366.1 L362.7,366.7 L362.9,367.4 L363,368 L363.2,368.5 L363.4,369.1 L363.6,369.7 L363.7,370.2 L363.9,370.7 L364.1,371.1 L364.2,371.6 L364.4,371.9 L364.5,372.3 L364.7,372.6 L364.9,372.8 L365,373 L365.4,373.2 L365.7,372.9 L366.1,372.3 L366.4,371.5 L366.7,370.6 L367.1,369.6 L367.4,368.6 L367.7,367.8 L368,367.3 L368.3,367 L368.7,367.3 L369,368 L369.1,368.2 L369.1,368.5 L369.2,368.7 L369.3,369.1 L369.3,369.4 L369.4,369.7 L369.5,370.1 L369.5,370.5 L369.6,370.9 L369.7,371.4 L369.7,371.8 L369.8,372.3 L369.8,372.8 L369.9,373.3 L370,373.8 L370,374.4 L370.1,374.9 L370.2,375.5 L370.2,376 L370.3,376.6 L370.4,377.2 L370.4,377.8 L370.5,378.4 L370.6,379.1 L370.6,379.7 L370.7,380.3 L370.7,381 L370.8,381.6 L370.9,382.2 L370.9,382.9 L371,383.5 L371.1,384.2 L371.1,384.8 L371.2,385.4 L371.3,386.1 L371.3,386.7 L371.4,387.3 L371.5,387.9 L371.5,388.5 L371.6,389.1 L371.7,389.7 L371.7,390.3 L371.8,390.9 L371.9,391.5 L371.9,392 L372,392.5 L372.1,393.1 L372.1,393.6 L372.2,394 L372.3,394.5 L372.3,395 L372.4,395.4 L372.5,395.8 L372.6,396.2 L372.6,396.5 L372.7,396.9 L372.8,397.2 L372.9,397.5 L372.9,397.8 L373,398 L373.4,398.9 L373.8,399.2 L374.3,399 L374.7,398.4 L375.1,397.6 L375.6,396.7 L376.1,395.9 L376.5,395.1 L377,394.7 L377.5,394.6 L378,395 L378.1,395.2 L378.3,395.5 L378.4,395.8 L378.6,396.1 L378.7,396.4 L378.8,396.8 L379,397.2 L379.1,397.6 L379.3,398 L379.4,398.5 L379.6,399 L379.7,399.5 L379.9,400 L380,400.5 L380.1,401 L380.3,401.6 L380.4,402.1 L380.6,402.7 L380.7,403.3 L380.9,403.9 L381,404.4 L381.2,405 L381.3,405.6 L381.5,406.2 L381.7,406.8 L381.8,407.4 L382,407.9 L382.1,408.5 L382.3,409.1 L382.5,409.6 L382.6,410.2 L382.8,410.7 L383,411.2 L383.1,411.7 L383.3,412.2 L383.5,412.7 L383.6,413.2 L383.8,413.6 L384,414 L384.3,414.6 L384.5,415.1 L384.8,415.7 L385.1,416.2 L385.3,416.8 L385.6,417.4 L385.9,417.9 L386.2,418.5 L386.5,419 L386.8,419.6 L387.1,420.1 L387.4,420.6 L387.7,421.1 L388,421.6 L388.3,422.1 L388.6,422.6 L388.9,423 L389.2,423.4 L389.5,423.8 L389.8,424.2 L390.1,424.5 L390.4,424.8 L390.7,425.1 L390.9,425.3 L391.2,425.6 L391.5,425.7 L391.7,425.9 L392,426 L392.4,426.1 L392.7,426 L393.1,425.7 L393.4,425.4 L393.8,425 L394.1,424.4 L394.4,423.9 L394.7,423.3 L395.1,422.6 L395.4,422 L395.7,421.4 L396,420.8 L396.3,420.2 L396.6,419.8 L397,419.4 L397.3,419.1 L397.6,419 L398,419 L398.3,419.1 L398.6,419.3 L398.8,419.5 L399.1,419.9 L399.4,420.2 L399.7,420.7 L400,421.2 L400.3,421.7 L400.6,422.2 L400.9,422.8 L401.2,423.4 L401.5,423.9 L401.8,424.5 L402.1,425.1 L402.4,425.7 L402.7,426.2 L403,426.7 L403.3,427.2 L403.6,427.7 L403.9,428.1 L404.2,428.4 L404.4,428.7 L404.7,428.9 L405,429 L405.4,429 L405.8,428.9 L406.2,428.7 L406.6,428.4 L407,428 L407.4,427.5 L407.7,426.9 L408.1,426.4 L408.5,425.8 L408.9,425.2 L409.2,424.7 L409.6,424.2 L410,423.7 L410.3,423.4 L410.7,423.1 L411,423 L411.4,423 L411.9,423.3 L412.3,423.7 L412.7,424.3 L413.1,424.9 L413.5,425.5 L413.9,426.1 L414.3,426.6 L414.7,427 L415.1,427.3 L415.6,427.3 L416,427 L416.2,426.8 L416.4,426.6 L416.6,426.3 L416.7,425.9 L416.9,425.5 L417.1,425.1 L417.3,424.7 L417.5,424.2 L417.7,423.7 L417.9,423.1 L418.1,422.6 L418.3,422 L418.5,421.4 L418.7,420.8 L418.9,420.2 L419.1,419.6 L419.3,419.1 L419.6,418.5 L419.8,417.9 L420,417.3 L420.2,416.7 L420.4,416.2 L420.6,415.7 L420.8,415.2 L421,414.7 L421.2,414.3 L421.4,413.9 L421.6,413.6 L421.8,413.3 L422,413 L422.5,412.5 L423,412.2 L423.5,412.1 L424,412.1 L424.5,412.2 L425,412.4 L425.5,412.6 L426,412.8 L426.5,413 L427,413.1 L427.5,413.1 L428,413 L428.4,412.8 L428.9,412.7 L429.3,412.5 L429.8,412.3 L430.2,412.1 L430.7,411.8 L431.1,411.6 L431.6,411.3 L432,411 L432.4,410.6 L432.8,410.3 L433.2,409.9 L433.6,409.4 L434,409 L434.3,408.7 L434.5,408.3 L434.7,408 L434.9,407.7 L435.1,407.3 L435.3,407 L435.5,406.7 L435.7,406.3 L435.9,405.9 L436.1,405.5 L436.3,405 L436.5,404.6 L436.7,404 L436.9,403.5 L437.1,402.9 L437.3,402.3 L437.5,401.6 L437.7,400.8 L438,400 L438.1,399.6 L438.2,399.3 L438.3,398.9 L438.4,398.4 L438.6,398 L438.7,397.5 L438.8,397 L438.9,396.5 L439,396 L439.1,395.4 L439.3,394.8 L439.4,394.3 L439.5,393.7 L439.6,393.1 L439.8,392.5 L439.9,391.9 L440,391.3 L440.2,390.6 L440.3,390 L440.4,389.4 L440.5,388.7 L440.7,388.1 L440.8,387.5 L440.9,386.9 L441.1,386.3 L441.2,385.7 L441.3,385.1 L441.5,384.5 L441.6,383.9 L441.7,383.3 L441.9,382.8 L442,382.2 L442.2,381.7 L442.3,381.2 L442.4,380.7 L442.6,380.3 L442.7,379.8 L442.8,379.4 L443,379 L443.1,378.7 L443.2,378.3 L443.4,378 L443.5,377.8 L443.6,377.5 L443.7,377.3 L443.9,377.1 L444,377 L444.2,376.9 L444.5,376.8 L444.7,376.9 L444.9,377.1 L445.2,377.4 L445.4,377.8 L445.7,378.2 L445.9,378.7 L446.2,379.3 L446.4,379.9 L446.6,380.6 L446.9,381.3 L447.1,382 L447.4,382.7 L447.6,383.5 L447.8,384.2 L448.1,384.9 L448.3,385.6 L448.5,386.2 L448.8,386.8 L449,387.4 L449.2,387.8 L449.4,388.3 L449.6,388.6 L449.8,388.9 L450,389 L450.3,389 L450.6,388.8 L450.8,388.4 L451.1,387.8 L451.3,387.1 L451.6,386.3 L451.8,385.4 L452,384.6 L452.2,383.7 L452.4,383 L452.7,382.3 L452.9,381.8 L453.2,381.5 L453.4,381.4 L453.7,381.5 L454,382 L454.1,382.2 L454.2,382.4 L454.3,382.7 L454.4,383 L454.5,383.3 L454.6,383.6 L454.7,384 L454.8,384.4 L454.9,384.8 L455,385.3 L455.1,385.8 L455.2,386.2 L455.3,386.7 L455.4,387.3 L455.5,387.8 L455.7,388.4 L455.8,388.9 L455.9,389.5 L456,390.1 L456.1,390.7 L456.2,391.3 L456.4,391.9 L456.5,392.6 L456.6,393.2 L456.7,393.8 L456.8,394.5 L456.9,395.1 L457.1,395.8 L457.2,396.4 L457.3,397 L457.4,397.7 L457.5,398.3 L457.6,398.9 L457.8,399.6 L457.9,400.2 L458,400.8 L458.1,401.4 L458.2,402 L458.3,402.5 L458.5,403.1 L458.6,403.6 L458.7,404.2 L458.8,404.7 L458.9,405.2 L459,405.6 L459.1,406.1 L459.2,406.5 L459.3,406.9 L459.4,407.3 L459.5,407.7 L459.6,408 L459.7,408.3 L459.8,408.6 L459.9,408.8 L460,409 L460.3,409.5 L460.7,409.7 L461,409.5 L461.2,409 L461.5,408.4 L461.7,407.6 L462,406.7 L462.3,405.8 L462.5,404.9 L462.8,404.1 L463,403.4 L463.3,403 L463.7,402.8 L464,403 L464.1,403.2 L464.3,403.4 L464.5,403.7 L464.6,404 L464.8,404.3 L465,404.7 L465.1,405.1 L465.3,405.6 L465.5,406.1 L465.7,406.6 L465.9,407.1 L466.1,407.7 L466.2,408.2 L466.4,408.8 L466.6,409.4 L466.8,410 L467,410.6 L467.2,411.2 L467.4,411.8 L467.6,412.5 L467.8,413.1 L467.9,413.6 L468.1,414.2 L468.3,414.8 L468.5,415.3 L468.7,415.9 L468.9,416.4 L469,416.9 L469.2,417.3 L469.4,417.7 L469.5,418.1 L469.7,418.4 L469.9,418.7 L470,419 L470.6,419.7 L471.1,420 L471.6,420 L472.1,419.7 L472.6,419.3 L473,419 L473.5,418.9 L474,419 L474.3,419.3 L474.6,419.7 L475,420.3 L475.3,420.9 L475.6,421.5 L475.9,422.2 L476.2,422.8 L476.5,423.3 L476.9,423.8 L477.2,424 L477.6,424.1 L478,424 L478.2,423.8 L478.4,423.6 L478.6,423.3 L478.8,423 L479.1,422.6 L479.3,422.1 L479.5,421.6 L479.8,421.1 L480,420.5 L480.3,419.9 L480.5,419.3 L480.8,418.7 L481,418.1 L481.3,417.5 L481.5,416.9 L481.8,416.4 L482,415.8 L482.3,415.3 L482.5,414.8 L482.8,414.4 L483,414 L483.3,413.6 L483.5,413.4 L483.8,413.1 L484,413 L484.4,412.9 L484.8,413 L485.1,413.3 L485.5,413.7 L485.9,414.2 L486.2,414.7 L486.6,415.3 L487,415.9 L487.4,416.6 L487.8,417.2 L488.1,417.7 L488.5,418.2 L488.9,418.6 L489.2,418.9 L489.6,419 L490,419 L490.3,418.9 L490.5,418.7 L490.8,418.4 L491.1,418.1 L491.3,417.7 L491.6,417.3 L491.9,416.8 L492.1,416.3 L492.4,415.7 L492.7,415.2 L492.9,414.6 L493.2,414 L493.5,413.4 L493.7,412.9 L494,412.3 L494.2,411.7 L494.5,411.2 L494.8,410.7 L495,410.3 L495.3,409.9 L495.5,409.5 L495.8,409.2 L496,409 L496.5,408.7 L497,408.8 L497.5,409.1 L498,409.6 L498.5,410.1 L499,410.5 L499.5,410.8 L500,410.9 L500.5,410.7 L501,410 L501.1,409.8 L501.3,409.5 L501.4,409.2 L501.6,408.8 L501.7,408.4 L501.9,408 L502,407.6 L502.1,407.2 L502.3,406.7 L502.4,406.2 L502.6,405.7 L502.7,405.2 L502.9,404.6 L503,404.1 L503.2,403.5 L503.3,402.9 L503.5,402.4 L503.6,401.8 L503.8,401.2 L504,400.6 L504.1,400 L504.3,399.4 L504.4,398.8 L504.6,398.2 L504.7,397.6 L504.9,397 L505,396.5 L505.2,395.9 L505.4,395.4 L505.5,394.8 L505.7,394.3 L505.8,393.8 L506,393.4 L506.2,392.9 L506.3,392.5 L506.5,392.1 L506.7,391.7 L506.8,391.3 L507,391 L507.4,390.3 L507.8,389.8 L508.2,389.3 L508.6,388.8 L509,388.5 L509.4,388.2 L509.9,387.9 L510.3,387.7 L510.7,387.5 L511.1,387.3 L511.6,387.1 L512,387 L512.4,386.8 L512.8,386.6 L513.2,386.5 L513.6,386.2 L514,386 L514.5,385.7 L514.9,385.5 L515.4,385.3 L515.8,385.1 L516.3,384.9 L516.7,384.7 L517.1,384.6 L517.6,384.4 L518,384.1 L518.4,383.8 L518.8,383.5 L519.2,383.1 L519.6,382.6 L520,382 L520.2,381.7 L520.4,381.3 L520.6,381 L520.7,380.6 L520.9,380.2 L521.1,379.8 L521.3,379.4 L521.5,378.9 L521.6,378.5 L521.8,378 L522,377.6 L522.1,377.1 L522.3,376.6 L522.5,376.1 L522.6,375.6 L522.8,375 L523,374.5 L523.1,374 L523.3,373.4 L523.5,372.9 L523.6,372.4 L523.8,371.8 L524,371.3 L524.2,370.7 L524.3,370.2 L524.5,369.6 L524.7,369.1 L524.8,368.5 L525,368 L525.1,367.5 L525.3,367.1 L525.4,366.6 L525.6,366 L525.7,365.5 L525.9,364.9 L526,364.3 L526.1,363.8 L526.3,363.2 L526.4,362.5 L526.6,361.9 L526.7,361.3 L526.9,360.7 L527,360.1 L527.1,359.5 L527.3,358.8 L527.4,358.2 L527.6,357.6 L527.7,357.1 L527.9,356.5 L528,355.9 L528.1,355.4 L528.3,354.9 L528.4,354.4 L528.6,353.9 L528.7,353.5 L528.9,353 L529,352.7 L529.1,352.3 L529.3,352 L529.4,351.7 L529.6,351.5 L529.7,351.3 L529.9,351.1 L530,351 L530.2,350.9 L530.4,351 L530.6,351.1 L530.8,351.4 L531,351.7 L531.2,352.2 L531.5,352.6 L531.7,353.2 L531.9,353.8 L532.1,354.4 L532.3,355.1 L532.5,355.8 L532.7,356.4 L532.9,357.1 L533.1,357.8 L533.3,358.5 L533.5,359.1 L533.8,359.7 L534,360.3 L534.2,360.8 L534.4,361.2 L534.6,361.6 L534.8,361.8 L535,362 L535.4,362.1 L535.7,361.9 L536.1,361.4 L536.4,360.8 L536.7,360.1 L537.1,359.3 L537.4,358.6 L537.8,357.8 L538.1,357.2 L538.5,356.6 L538.9,356.3 L539.2,356.2 L539.6,356.4 L540,357 L540.1,357.2 L540.2,357.5 L540.3,357.7 L540.4,358 L540.5,358.4 L540.6,358.7 L540.8,359.1 L540.9,359.5 L541,360 L541.1,360.4 L541.2,360.9 L541.3,361.4 L541.4,361.9 L541.5,362.4 L541.7,363 L541.8,363.6 L541.9,364.1 L542,364.7 L542.1,365.3 L542.2,365.9 L542.4,366.5 L542.5,367.2 L542.6,367.8 L542.7,368.4 L542.8,369 L542.9,369.7 L543.1,370.3 L543.2,371 L543.3,371.6 L543.4,372.2 L543.5,372.8 L543.6,373.5 L543.8,374.1 L543.9,374.7 L544,375.3 L544.1,375.9 L544.2,376.4 L544.3,377 L544.5,377.6 L544.6,378.1 L544.7,378.6 L544.8,379.1 L544.9,379.6 L545,380 L545.1,380.5 L545.2,380.9 L545.4,381.3 L545.5,381.6 L545.6,382 L545.7,382.3 L545.8,382.5 L545.9,382.8 L546,383 L546.4,383.5 L546.8,383.7 L547.1,383.6 L547.5,383.2 L547.9,382.6 L548.2,381.9 L548.6,381.1 L548.9,380.3 L549.3,379.5 L549.6,378.8 L549.9,378.2 L550.3,377.9 L550.6,377.8 L551,378 L551.2,378.2 L551.3,378.4 L551.5,378.7 L551.6,379 L551.8,379.4 L551.9,379.8 L552.1,380.3 L552.2,380.7 L552.4,381.2 L552.5,381.8 L552.7,382.3 L552.9,382.9 L553,383.4 L553.2,384 L553.3,384.6 L553.5,385.3 L553.6,385.9 L553.8,386.5 L553.9,387.1 L554.1,387.7 L554.3,388.3 L554.4,388.9 L554.6,389.5 L554.7,390.1 L554.9,390.6 L555,391.2 L555.2,391.7 L555.3,392.1 L555.4,392.6 L555.6,393 L555.7,393.4 L555.9,393.7 L556,394 L556.5,394.9 L557.1,395.4 L557.6,395.6 L558.1,395.7 L558.5,395.6 L559,395.6 L559.5,395.7 L560,396 L560.3,396.3 L560.6,396.8 L561,397.3 L561.3,397.9 L561.6,398.5 L561.9,399.1 L562.2,399.6 L562.5,400.1 L562.9,400.5 L563.2,400.8 L563.6,401 L564,401 L564.3,400.9 L564.6,400.6 L564.9,400.3 L565.2,399.8 L565.5,399.3 L565.8,398.8 L566.2,398.2 L566.5,397.6 L566.8,396.9 L567.2,396.3 L567.5,395.8 L567.8,395.3 L568.2,394.8 L568.5,394.4 L568.9,394.2 L569.2,394 L569.6,394 L569.9,394.1 L570.2,394.3 L570.4,394.5 L570.7,394.9 L571,395.3 L571.3,395.7 L571.6,396.2 L571.9,396.8 L572.2,397.3 L572.5,397.9 L572.8,398.5 L573.1,399.1 L573.4,399.7 L573.7,400.2 L574,400.8 L574.3,401.3 L574.6,401.7 L574.9,402.1 L575.2,402.5 L575.5,402.7 L575.7,402.9 L576,403 L576.3,403 L576.7,402.8 L577,402.6 L577.3,402.2 L577.6,401.8 L577.9,401.3 L578.2,400.7 L578.4,400.1 L578.7,399.5 L579,398.9 L579.3,398.3 L579.6,397.7 L579.9,397.2 L580.1,396.8 L580.4,396.4 L580.7,396.2 L581,396 L581.4,396 L581.8,396.3 L582.2,396.7 L582.6,397.3 L583,397.9 L583.4,398.6 L583.8,399.2 L584.3,399.7 L584.7,400.1 L585.1,400.4 L585.5,400.3 L586,400 L586.2,399.8 L586.3,399.6 L586.5,399.3 L586.7,398.9 L586.8,398.6 L587,398.2 L587.2,397.8 L587.3,397.3 L587.5,396.8 L587.7,396.3 L587.9,395.8 L588,395.3 L588.2,394.7 L588.4,394.1 L588.6,393.6 L588.8,393 L588.9,392.4 L589.1,391.8 L589.3,391.2 L589.5,390.6 L589.7,390 L589.8,389.4 L590,388.8 L590.2,388.3 L590.4,387.7 L590.6,387.2 L590.7,386.7 L590.9,386.2 L591.1,385.8 L591.3,385.4 L591.5,385 L591.6,384.6 L591.8,384.3 L592,384 L592.5,383.4 L593,382.9 L593.4,382.6 L593.9,382.4 L594.3,382.4 L594.8,382.4 L595.2,382.4 L595.7,382.4 L596.2,382.5 L596.8,382.4 L597.4,382.3 L598,382 L598.4,381.8 L598.7,381.7 L599.1,381.5 L599.5,381.4 L599.9,381.3 L600.4,381.1 L600.8,381 L601.3,380.9 L601.7,380.7 L602.2,380.6 L602.6,380.4 L603.1,380.2 L603.6,380 L604,379.8 L604.5,379.5 L605,379.2 L605.4,378.9 L605.9,378.5 L606.3,378.1 L606.8,377.7 L607.2,377.2 L607.6,376.6 L608,376 L608.2,375.7 L608.4,375.3 L608.6,375 L608.7,374.6 L608.9,374.1 L609.1,373.7 L609.3,373.2 L609.5,372.7 L609.7,372.2 L609.8,371.7 L610,371.2 L610.2,370.6 L610.4,370 L610.6,369.5 L610.7,368.9 L610.9,368.3 L611.1,367.7 L611.3,367 L611.5,366.4 L611.6,365.8 L611.8,365.2 L612,364.6 L612.1,363.9 L612.3,363.3 L612.5,362.7 L612.6,362.1 L612.8,361.5 L613,360.9 L613.1,360.3 L613.3,359.7 L613.5,359.2 L613.6,358.6 L613.8,358.1 L613.9,357.6 L614.1,357.1 L614.3,356.6 L614.4,356.2 L614.6,355.7 L614.7,355.3 L614.9,354.9 L615,354.6 L615.2,354.3 L615.3,354 L615.4,353.7 L615.6,353.5 L615.7,353.3 L615.9,353.1 L616,353 L616.2,352.9 L616.5,352.9 L616.7,353 L616.9,353.1 L617.1,353.4 L617.3,353.8 L617.5,354.2 L617.7,354.7 L617.9,355.3 L618.1,355.9 L618.3,356.6 L618.4,357.2 L618.6,358 L618.8,358.7 L619,359.4 L619.1,360.1 L619.3,360.9 L619.5,361.6 L619.6,362.3 L619.8,362.9 L620,363.6 L620.1,364.1 L620.3,364.7 L620.5,365.1 L620.6,365.5 L620.8,365.8 L621,366 L621.4,366.2 L621.8,365.9 L622.1,365.4 L622.5,364.7 L622.9,363.9 L623.2,363.1 L623.6,362.3 L623.9,361.6 L624.3,361.1 L624.7,361 L625.2,361.3 L625.6,362 L625.7,362.2 L625.8,362.5 L625.9,362.8 L626,363.1 L626.1,363.4 L626.2,363.8 L626.3,364.1 L626.4,364.5 L626.5,364.9 L626.7,365.4 L626.8,365.9 L626.9,366.3 L627,366.8 L627.1,367.3 L627.2,367.9 L627.3,368.4 L627.5,369 L627.6,369.5 L627.7,370.1 L627.8,370.7 L627.9,371.3 L628.1,371.9 L628.2,372.5 L628.3,373.1 L628.4,373.7 L628.6,374.3 L628.7,375 L628.8,375.6 L628.9,376.2 L629,376.8 L629.2,377.5 L629.3,378.1 L629.4,378.7 L629.5,379.3 L629.7,379.9 L629.8,380.6 L629.9,381.2 L630,381.7 L630.1,382.3 L630.2,382.9 L630.4,383.4 L630.5,384 L630.6,384.5 L630.7,385 L630.8,385.5 L630.9,386 L631,386.5 L631.1,387 L631.2,387.4 L631.3,387.8 L631.4,388.2 L631.5,388.5 L631.6,388.9 L631.7,389.2 L631.8,389.5 L631.9,389.8 L632,390 L632.6,391 L633,391 L633.4,390.4 L633.8,389.3 L634.2,388.2 L634.6,387.4 L635,387 L635.6,387.5 L635.7,387.7 L635.9,388 L636,388.3 L636.1,388.6 L636.3,389 L636.4,389.3 L636.6,389.7 L636.7,390.2 L636.9,390.6 L637.1,391.1 L637.2,391.6 L637.4,392.1 L637.5,392.6 L637.7,393.2 L637.9,393.7 L638,394.3 L638.2,394.9 L638.4,395.5 L638.6,396 L638.7,396.6 L638.9,397.2 L639.1,397.8 L639.3,398.4 L639.4,399 L639.6,399.6 L639.8,400.1 L640,400.7 L640.1,401.2 L640.3,401.8 L640.5,402.3 L640.7,402.8 L640.8,403.3 L641,403.7 L641.2,404.2 L641.3,404.6 L641.5,405 L641.7,405.4 L641.8,405.7 L642,406 L642.5,406.7 L642.9,407.3 L643.4,407.8 L643.9,408.2 L644.3,408.5 L644.8,408.7 L645.3,408.8 L645.7,409 L646.2,409.1 L646.6,409.2 L647,409.3 L647.4,409.5 L647.7,409.7 L648,410 L648.3,410.5 L648.6,411.1 L648.8,411.8 L648.9,412.6 L649.1,413.2 L649.2,413.9 L649.3,414.4 L649.5,414.8 L649.7,415 L650,415 L650.2,414.9 L650.4,414.6 L650.6,414.2 L650.9,413.8 L651.1,413.2 L651.4,412.7 L651.6,412 L651.9,411.4 L652.2,410.8 L652.5,410.1 L652.8,409.5 L653.1,408.9 L653.4,408.4 L653.7,407.9 L654,407.5 L654.3,407.2 L654.7,407 L655,407 L655.3,407.1 L655.6,407.2 L655.9,407.5 L656.2,407.8 L656.5,408.2 L656.8,408.7 L657.1,409.2 L657.4,409.7 L657.8,410.3 L658.1,410.9 L658.4,411.5 L658.8,412.1 L659.1,412.7 L659.4,413.3 L659.8,413.8 L660.1,414.3 L660.4,414.8 L660.8,415.2 L661.1,415.5 L661.4,415.8 L661.7,415.9 L662,416 L662.3,416 L662.6,415.8 L663,415.6 L663.3,415.3 L663.6,414.9 L663.9,414.5 L664.2,414 L664.5,413.5 L664.8,412.9 L665.1,412.4 L665.4,411.8 L665.7,411.2 L666,410.7 L666.3,410.1 L666.6,409.6 L666.9,409.2 L667.2,408.8 L667.4,408.4 L667.7,408.2 L668,408 L668.5,407.9 L669,408.1 L669.4,408.5 L669.9,409 L670.3,409.6 L670.8,410.2 L671.2,410.8 L671.7,411.2 L672.1,411.4 L672.5,411.4 L673,411 L673.2,410.8 L673.3,410.5 L673.5,410.2 L673.6,409.9 L673.8,409.5 L673.9,409 L674.1,408.6 L674.2,408.1 L674.4,407.6 L674.5,407.1 L674.7,406.5 L674.8,406 L674.9,405.4 L675.1,404.8 L675.2,404.2 L675.4,403.6 L675.5,403 L675.7,402.4 L675.8,401.8 L676,401.2 L676.2,400.6 L676.3,400 L676.5,399.5 L676.7,398.9 L676.8,398.4 L677,397.9 L677.2,397.5 L677.4,397.1 L677.6,396.7 L677.8,396.3 L678,396 L678.4,395.5 L678.8,395.1 L679.2,394.8 L679.7,394.5 L680.1,394.3 L680.6,394.1 L681.1,394 L681.6,393.9 L682.1,393.8 L682.6,393.8 L683.1,393.7 L683.6,393.7 L684.1,393.6 L684.5,393.5 L685,393.4 L685.5,393.2 L686,393 L686.4,392.8 L686.9,392.6 L687.3,392.5 L687.8,392.4 L688.3,392.3 L688.7,392.2 L689.2,392.1 L689.6,392 L690.1,391.8 L690.5,391.6 L691,391.4 L691.4,391.1 L691.9,390.8 L692.3,390.4 L692.7,390 L693.2,389.4 L693.6,388.8 L694,388 L694.1,387.7 L694.3,387.4 L694.4,387 L694.6,386.6 L694.7,386.2 L694.9,385.8 L695,385.3 L695.2,384.8 L695.3,384.3 L695.5,383.8 L695.6,383.3 L695.8,382.7 L695.9,382.2 L696.1,381.6 L696.2,381 L696.3,380.4 L696.5,379.8 L696.6,379.2 L696.8,378.6 L696.9,378 L697.1,377.4 L697.2,376.7 L697.3,376.1 L697.5,375.5 L697.6,374.9 L697.8,374.3 L697.9,373.6 L698,373 L698.2,372.4 L698.3,371.8 L698.5,371.3 L698.6,370.7 L698.7,370.1 L698.9,369.6 L699,369.1 L699.1,368.6 L699.3,368.1 L699.4,367.6 L699.5,367.2 L699.7,366.7 L699.8,366.3 L699.9,366 L700.1,365.6 L700.2,365.3 L700.3,365 L700.5,364.7 L700.6,364.5 L700.7,364.3 L700.9,364.1 L701,364 L701.2,363.9 L701.5,363.8 L701.7,363.9 L701.9,364.1 L702.2,364.3 L702.4,364.6 L702.6,365 L702.8,365.5 L703.1,366 L703.3,366.6 L703.5,367.2 L703.7,367.9 L704,368.6 L704.2,369.2 L704.4,370 L704.6,370.7 L704.8,371.4 L705,372.1 L705.3,372.8 L705.5,373.4 L705.7,374.1 L705.9,374.7 L706.1,375.2 L706.3,375.7 L706.4,376.1 L706.6,376.5 L706.8,376.8 L707,377 L707.4,377.2 L707.8,376.9 L708.2,376.2 L708.5,375.4 L708.8,374.5 L709.1,373.5 L709.4,372.7 L709.7,372.2 L710.1,371.9 L710.5,372.2 L711,373 L711.1,373.2 L711.2,373.5 L711.3,373.8 L711.4,374.1 L711.5,374.4 L711.6,374.8 L711.7,375.1 L711.8,375.6 L711.9,376 L712,376.4 L712.2,376.9 L712.3,377.4 L712.4,377.9 L712.5,378.4 L712.6,378.9 L712.8,379.5 L712.9,380 L713,380.6 L713.1,381.2 L713.3,381.8 L713.4,382.4 L713.5,383 L713.7,383.6 L713.8,384.3 L713.9,384.9 L714,385.5 L714.2,386.2 L714.3,386.8 L714.4,387.4 L714.6,388.1 L714.7,388.7 L714.8,389.3 L715,390 L715.1,390.6 L715.2,391.2 L715.3,391.8 L715.5,392.5 L715.6,393.1 L715.7,393.7 L715.9,394.2 L716,394.8 L716.1,395.4 L716.2,395.9 L716.4,396.4 L716.5,397 L716.6,397.5 L716.7,397.9 L716.8,398.4 L717,398.9 L717.1,399.3 L717.2,399.7 L717.3,400.1 L717.4,400.4 L717.5,400.7 L717.6,401.1 L717.7,401.3 L717.8,401.6 L717.9,401.8 L718,402 L718.3,402.5 L718.6,402.6 L718.9,402.5 L719.1,402.2 L719.4,401.7 L719.6,401 L719.8,400.2 L720,399.4 L720.2,398.5 L720.4,397.6 L720.6,396.7 L720.8,395.9 L721.1,395.2 L721.3,394.6 L721.5,394.2 L721.7,394 L722,394 L722.2,394.1 L722.3,394.3 L722.5,394.6 L722.6,394.9 L722.8,395.3 L723,395.8 L723.1,396.2 L723.3,396.7 L723.5,397.3 L723.7,397.9 L723.8,398.5 L724,399.1 L724.2,399.7 L724.3,400.4 L724.5,401 L724.7,401.7 L724.9,402.3 L725.1,402.9 L725.2,403.6 L725.4,404.2 L725.6,404.8 L725.8,405.3 L725.9,405.8 L726.1,406.3 L726.3,406.8 L726.5,407.2 L726.7,407.5 L726.8,407.8 L727,408 L727.5,408.3 L727.9,408.4 L728.4,408.2 L728.9,407.9 L729.4,407.4 L729.9,406.9 L730.3,406.4 L730.8,405.8 L731.2,405.4 L731.6,405.1 L732,405 L732.4,405.2 L732.8,405.8 L733.1,406.5 L733.4,407.2 L733.7,407.9 L734,408.4 L734.4,408.4 L735,408 L735.2,407.8 L735.3,407.5 L735.5,407.2 L735.7,406.9 L735.9,406.5 L736.1,406.1 L736.3,405.7 L736.5,405.2 L736.7,404.7 L736.9,404.2 L737.1,403.7 L737.3,403.1 L737.6,402.5 L737.8,402 L738,401.4 L738.3,400.8 L738.5,400.2 L738.7,399.6 L739,399 L739.2,398.5 L739.4,397.9 L739.7,397.3 L739.9,396.8 L740.1,396.3 L740.4,395.8 L740.6,395.3 L740.8,394.9 L741,394.5 L741.2,394.1 L741.4,393.8 L741.6,393.5 L741.8,393.2 L742,393 L742.5,392.7 L743,392.7 L743.4,393 L743.8,393.5 L744.2,394.1 L744.6,394.8 L745,395.4 L745.5,395.9 L745.9,396.2 L746.4,396.3 L747,396 L747.2,395.8 L747.4,395.6 L747.7,395.3 L747.9,395 L748.1,394.6 L748.4,394.3 L748.6,393.8 L748.9,393.4 L749.2,393 L749.4,392.5 L749.7,392 L750,391.5 L750.3,390.9 L750.6,390.4 L750.8,389.9 L751.1,389.3 L751.4,388.8 L751.7,388.2 L752,387.7 L752.2,387.1 L752.5,386.6 L752.8,386.1 L753,385.5 L753.3,385.1 L753.5,384.6 L753.8,384.1 L754,383.7 L754.2,383.3 L754.4,382.9 L754.6,382.6 L754.8,382.3 L755,382 L755.7,381.3 L756.1,381.1 L756.5,381.4 L756.8,381.6 L757.1,381.7 L757.5,381.2 L758,380 L758.1,379.7 L758.2,379.4 L758.3,379.1 L758.4,378.7 L758.5,378.4 L758.6,378 L758.7,377.6 L758.9,377.1 L759,376.7 L759.1,376.2 L759.2,375.7 L759.3,375.3 L759.5,374.7 L759.6,374.2 L759.7,373.7 L759.8,373.2 L760,372.6 L760.1,372.1 L760.2,371.5 L760.4,370.9 L760.5,370.4 L760.6,369.8 L760.8,369.2 L760.9,368.6 L761,368.1 L761.2,367.5 L761.3,366.9 L761.5,366.3 L761.6,365.8 L761.7,365.2 L761.9,364.6 L762,364.1 L762.2,363.5 L762.3,363 L762.5,362.5 L762.6,362 L762.8,361.4 L762.9,361 L763.1,360.5 L763.2,360 L763.4,359.6 L763.5,359.2 L763.7,358.8 L763.8,358.4 L764,358 L764.3,357.4 L764.6,356.8 L764.9,356.2 L765.2,355.7 L765.5,355.2 L765.8,354.7 L766.1,354.3 L766.4,353.9 L766.8,353.5 L767.1,353.1 L767.4,352.7 L767.8,352.4 L768.1,352 L768.4,351.7 L768.8,351.4 L769.1,351 L769.4,350.7 L769.8,350.4 L770.1,350.1 L770.4,349.7 L770.8,349.4 L771.1,349.1 L771.4,348.7 L771.7,348.4 L772,348 L772.3,347.6 L772.7,347.2 L773,346.8 L773.4,346.4 L773.7,346 L774.1,345.7 L774.4,345.3 L774.7,344.9 L775.1,344.6 L775.4,344.2 L775.8,343.9 L776.1,343.5 L776.4,343.1 L776.7,342.7 L777,342.3 L777.3,341.9 L777.6,341.5 L777.9,341 L778.2,340.6 L778.5,340.1 L778.7,339.6 L779,339 L779.2,338.6 L779.3,338.2 L779.5,337.8 L779.6,337.3 L779.8,336.9 L779.9,336.4 L780.1,335.9 L780.2,335.5 L780.3,335 L780.5,334.5 L780.6,334 L780.7,333.5 L780.8,333 L781,332.4 L781.1,331.9 L781.2,331.4 L781.3,330.8 L781.4,330.3 L781.5,329.8 L781.6,329.2 L781.7,328.7 L781.9,328.2 L782,327.6 L782.1,327.1 L782.2,326.6 L782.3,326 L782.4,325.5 L782.5,325 L782.6,324.5 L782.8,324 L782.9,323.5 L783,323 L783.1,322.5 L783.3,322 L783.4,321.4 L783.5,320.8 L783.6,320.3 L783.8,319.7 L783.9,319.1 L784,318.4 L784.1,317.8 L784.3,317.2 L784.4,316.6 L784.5,316 L784.6,315.4 L784.8,314.8 L784.9,314.2 L785,313.6 L785.1,313 L785.3,312.5 L785.4,311.9 L785.5,311.4 L785.6,311 L785.8,310.5 L785.9,310.1 L786,309.7 L786.2,309.3 L786.3,309 L786.4,308.7 L786.6,308.5 L786.7,308.3 L786.9,308.1 L787,308 L787.2,308 L787.4,308 L787.6,308.2 L787.8,308.5 L788.1,308.9 L788.3,309.4 L788.5,310 L788.7,310.6 L789,311.2 L789.2,311.9 L789.4,312.6 L789.7,313.3 L789.9,314 L790.1,314.6 L790.4,315.3 L790.6,315.9 L790.8,316.4 L791.1,316.9 L791.3,317.4 L791.5,317.7 L791.8,317.9 L792,318 L792.3,318 L792.6,317.7 L792.8,317.3 L793.1,316.8 L793.4,316.2 L793.6,315.5 L793.9,314.8 L794.2,314 L794.4,313.2 L794.7,312.4 L795,311.7 L795.3,311 L795.5,310.5 L795.8,310 L796.1,309.7 L796.4,309.6 L796.7,309.7 L797,310 L797.1,310.2 L797.2,310.4 L797.4,310.7 L797.5,310.9 L797.6,311.3 L797.7,311.6 L797.8,312 L798,312.4 L798.1,312.9 L798.2,313.4 L798.4,313.9 L798.5,314.4 L798.6,314.9 L798.7,315.5 L798.9,316.1 L799,316.6 L799.1,317.2 L799.3,317.9 L799.4,318.5 L799.5,319.1 L799.7,319.8 L799.8,320.4 L799.9,321.1 L800.1,321.7 L800.2,322.3 L800.3,323 L800.5,323.6 L800.6,324.3 L800.7,324.9 L800.9,325.5 L801,326.1 L801.1,326.7 L801.3,327.3 L801.4,327.9 L801.5,328.4 L801.6,329 L801.8,329.5 L801.9,330 L802,330.4 L802.2,330.8 L802.3,331.3 L802.4,331.6 L802.5,332 L802.6,332.3 L802.8,332.6 L802.9,332.8 L803,333 L803.4,333.4 L803.7,333.5 L804.1,333.4 L804.4,333 L804.7,332.4 L805.1,331.8 L805.4,331 L805.7,330.2 L806,329.4 L806.4,328.7 L806.7,328 L807,327.4 L807.3,327.1 L807.7,326.9 L808,327 L808.2,327.2 L808.4,327.4 L808.6,327.7 L808.8,328 L809,328.4 L809.1,328.9 L809.3,329.3 L809.5,329.9 L809.7,330.4 L809.9,331 L810.1,331.6 L810.3,332.2 L810.5,332.8 L810.7,333.4 L810.9,334.1 L811.1,334.7 L811.3,335.3 L811.5,335.9 L811.7,336.5 L811.8,337.1 L812,337.6 L812.2,338.1 L812.4,338.6 L812.5,339 L812.7,339.4 L812.8,339.7 L813,340 L813.6,340.7 L814.1,340.9 L814.6,340.6 L815,340.3 L815.5,340 L816,340 L816.3,340.3 L816.7,340.7 L817,341.2 L817.4,341.8 L817.8,342.3 L818.1,342.8 L818.5,343.2 L819,343.4 L819.5,343.3 L820,343 L820.2,342.8 L820.4,342.5 L820.6,342.2 L820.8,341.9 L821.1,341.5 L821.3,341.1 L821.5,340.6 L821.8,340.1 L822,339.6 L822.3,339 L822.5,338.5 L822.8,337.9 L823,337.3 L823.3,336.7 L823.6,336.1 L823.8,335.6 L824.1,335 L824.4,334.4 L824.6,333.8 L824.9,333.3 L825.1,332.8 L825.4,332.3 L825.6,331.9 L825.9,331.4 L826.1,331.1 L826.3,330.7 L826.6,330.4 L826.8,330.2 L827,330 L827.5,329.8 L827.9,329.9 L828.3,330.2 L828.7,330.7 L829.1,331.3 L829.4,332 L829.8,332.7 L830.2,333.3 L830.6,333.8 L831,334.1 L831.5,334.2 L832,334 L832.2,333.8 L832.5,333.6 L832.7,333.3 L832.9,333 L833.2,332.7 L833.5,332.3 L833.7,331.9 L834,331.4 L834.3,331 L834.6,330.5 L834.8,330 L835.1,329.4 L835.4,328.9 L835.7,328.4 L836,327.8 L836.3,327.3 L836.6,326.7 L836.9,326.2 L837.2,325.6 L837.4,325.1 L837.7,324.6 L838,324 L838.3,323.6 L838.5,323.1 L838.8,322.7 L839.1,322.3 L839.3,321.9 L839.5,321.6 L839.8,321.3 L840,321 L840.6,320.5 L841.2,320.4 L841.7,320.5 L842.2,320.7 L842.6,321.1 L843.1,321.3 L843.5,321.5 L844,321.4 L844.5,320.9 L845,320 L845.1,319.7 L845.2,319.4 L845.4,319.1 L845.5,318.8 L845.6,318.4 L845.7,318 L845.8,317.6 L846,317.2 L846.1,316.8 L846.2,316.3 L846.3,315.8 L846.5,315.4 L846.6,314.9 L846.7,314.3 L846.8,313.8 L846.9,313.3 L847.1,312.7 L847.2,312.2 L847.3,311.6 L847.4,311.1 L847.6,310.5 L847.7,309.9 L847.8,309.3 L847.9,308.8 L848.1,308.2 L848.2,307.6 L848.3,307 L848.5,306.4 L848.6,305.9 L848.7,305.3 L848.9,304.7 L849,304.2 L849.2,303.6 L849.3,303.1 L849.4,302.6 L849.6,302 L849.7,301.5 L849.9,301 L850,300.5 L850.2,300.1 L850.4,299.6 L850.5,299.2 L850.7,298.8 L850.8,298.4 L851,298 L851.3,297.4 L851.6,296.9 L851.9,296.3 L852.2,295.8 L852.5,295.3 L852.8,294.8 L853.2,294.3 L853.5,293.9 L853.8,293.4 L854.2,293 L854.6,292.6 L854.9,292.2 L855.3,291.8 L855.6,291.4 L856,291.1 L856.3,290.7 L856.7,290.4 L857,290 L857.4,289.7 L857.7,289.4 L858,289.1 L858.3,288.8 L858.7,288.5 L859,288.2 L859.2,287.9 L859.5,287.6 L859.8,287.3 L860,287 L860.5,286.4 L861,285.9 L861.4,285.6 L861.7,285.3 L862,285 L862.3,284.8 L862.6,284.5 L862.9,284.2 L863.1,283.8 L863.4,283.3 L863.7,282.7 L864,282 L864.1,281.7 L864.3,281.3 L864.4,280.9 L864.5,280.5 L864.7,280.1 L864.8,279.7 L864.9,279.2 L865.1,278.8 L865.2,278.3 L865.3,277.8 L865.5,277.3 L865.6,276.8 L865.7,276.3 L865.9,275.7 L866,275.2 L866.1,274.7 L866.3,274.1 L866.4,273.6 L866.5,273 L866.7,272.5 L866.8,272 L866.9,271.4 L867,270.9 L867.2,270.4 L867.3,269.9 L867.4,269.4 L867.5,268.9 L867.7,268.4 L867.8,267.9 L867.9,267.4 L868,267 L868.1,266.4 L868.3,265.9 L868.4,265.3 L868.6,264.7 L868.7,264.2 L868.8,263.6 L869,263.1 L869.1,262.5 L869.2,262 L869.4,261.4 L869.5,260.9 L869.6,260.4 L869.7,259.9 L869.9,259.4 L870,258.9 L870.1,258.4 L870.2,257.9 L870.3,257.4 L870.5,257 L870.6,256.6 L870.7,256.1 L870.8,255.7 L870.9,255.4 L871,255 L871.2,254.2 L871.4,253.4 L871.6,252.6 L871.8,251.9 L872,251.3 L872.2,250.8 L872.4,250.4 L872.6,250.1 L872.8,250 L873,250 L873.2,250.1 L873.4,250.4 L873.5,250.7 L873.7,251.1 L873.9,251.6 L874.2,252.1 L874.4,252.7 L874.6,253.3 L874.8,253.9 L875,254.5 L875.2,255.1 L875.4,255.6 L875.6,256.1 L875.8,256.6 L876,257 L876.3,257.7 L876.6,258.4 L877,259.1 L877.2,259.7 L877.5,260.2 L877.9,260.5 L878.2,260.6 L878.5,260.5 L878.7,260.3 L878.8,260 L879,259.7 L879.2,259.2 L879.4,258.7 L879.5,258.2 L879.7,257.6 L879.9,257 L880.1,256.4 L880.3,255.8 L880.5,255.2 L880.6,254.6 L880.8,254 L881,253.6 L881.2,253.1 L881.3,252.8 L881.5,252.5 L882,251.8 L882.5,251.4 L883,251.4 L883.5,251.9 L884,253 L884.1,253.3 L884.2,253.6 L884.3,253.9 L884.4,254.3 L884.4,254.8 L884.5,255.2 L884.6,255.7 L884.7,256.2 L884.8,256.7 L884.9,257.2 L885,257.8 L885.1,258.3 L885.2,258.9 L885.2,259.5 L885.3,260.1 L885.4,260.6 L885.5,261.2 L885.6,261.8 L885.7,262.4 L885.8,263 L885.9,263.5 L886,264.1 L886.1,264.6 L886.1,265.1 L886.2,265.6 L886.3,266.1 L886.4,266.6 L886.5,267 L886.6,267.6 L886.8,268.3 L886.9,269 L887,269.6 L887.2,270.3 L887.3,271 L887.4,271.6 L887.6,272.2 L887.7,272.8 L887.9,273.4 L888,273.9 L888.1,274.4 L888.3,274.8 L888.4,275.2 L888.6,275.5 L888.7,275.7 L888.8,275.9 L889,276 L889.2,276 L889.4,275.8 L889.6,275.5 L889.8,275.1 L890,274.6 L890.2,274 L890.4,273.4 L890.6,272.7 L890.8,272.1 L891,271.4 L891.2,270.8 L891.4,270.2 L891.6,269.7 L891.8,269.3 L892,269 L892.5,268.3 L892.9,267.8 L893.4,267.6 L893.9,268 L894.5,269 L894.6,269.3 L894.7,269.6 L894.9,269.9 L895,270.3 L895.2,270.8 L895.3,271.2 L895.4,271.7 L895.6,272.2 L895.8,272.8 L895.9,273.4 L896.1,273.9 L896.2,274.5 L896.4,275.1 L896.6,275.7 L896.7,276.3 L896.9,277 L897,277.6 L897.2,278.2 L897.4,278.7 L897.5,279.3 L897.7,279.9 L897.9,280.4 L898,280.9 L898.2,281.4 L898.3,281.8 L898.5,282.3 L898.6,282.6 L898.7,283 L898.9,283.3 L899,283.5 L899.6,284.1 L900.1,284 L900.5,283.5 L900.9,282.8 L901.4,282.2 L902,282 L902.4,282.2 L902.8,282.5 L903.2,283 L903.7,283.6 L904.2,284.1 L904.6,284.6 L905.1,285 L905.6,285.3 L906,285.3 L906.5,285 L906.7,284.8 L906.9,284.5 L907.1,284.2 L907.3,283.8 L907.5,283.4 L907.7,282.9 L907.9,282.4 L908.1,281.9 L908.3,281.3 L908.5,280.8 L908.7,280.2 L908.9,279.6 L909.1,279 L909.3,278.4 L909.5,277.8 L909.6,277.2 L909.8,276.6 L910,276 L910.2,275.5 L910.4,275 L910.5,274.6 L910.7,274.2 L910.9,273.8 L911,273.5 L911.5,272.5 L911.9,271.9 L912.2,271.5 L912.6,271.3 L913,271.3 L913.5,271.5 L913.8,271.7 L914.1,272.1 L914.4,272.5 L914.7,273.1 L915,273.7 L915.4,274.3 L915.7,275 L916.1,275.5 L916.4,276 L916.8,276.4 L917.2,276.6 L917.6,276.7 L918,276.5 L918.2,276.3 L918.4,276.1 L918.6,275.8 L918.8,275.5 L919,275.1 L919.2,274.7 L919.4,274.2 L919.7,273.7 L919.9,273.2 L920.1,272.7 L920.3,272.1 L920.6,271.5 L920.8,271 L921,270.4 L921.3,269.8 L921.5,269.2 L921.7,268.6 L921.9,268 L922.2,267.4 L922.4,266.9 L922.6,266.4 L922.9,265.9 L923.1,265.4 L923.3,265 L923.6,264.6 L923.8,264.3 L924,264 L924.5,263.5 L925.1,263.1 L925.6,262.8 L926.2,262.6 L926.8,262.5 L927.4,262.5 L927.9,262.5 L928.4,262.5 L928.9,262.5 L929.3,262.5 L929.7,262.5 L930,262.5" stroke="#0072B2" stroke-width="2.08" fill="none" stroke-linejoin="round" stroke-linecap="butt"/>
<path d="M930.5,232 L931,229.3 L931.5,226.7 L932,224 L932.5,222 L933,220 L933.5,218 L934,216.5 L934.5,215 L935,213.5 L935.5,212.9 L936,212.3 L936.5,211.8 L937,211.2 L937.5,210.6 L938,210 L938.5,209.5 L939,209 L939.5,208.5 L940,208 L940.5,207.5 L941,207 L941.5,206.6 L942,206.2 L942.5,205.7 L943,205.3 L943.5,204.9 L944,204.5 L944.5,204.1 L944.8,203.8 L944.8,234 L944.5,234.3 L944,234.9 L943.5,235.4 L943,235.9 L942.5,236.5 L942,237 L941.5,237.4 L941,237.8 L940.5,238.2 L940,238.7 L939.5,239.1 L939,239.5 L938.5,240 L938,240.5 L937.5,241 L937,241.5 L936.5,242 L936,243.3 L935.5,244.7 L935,246 L934.5,248.3 L934,250.7 L933.5,253 L933,255.3 L932.5,257.7 L932,260 L931.5,260.7 L931,261.3 L930.5,262Z" fill="#0072B2" stroke="#0072B2" stroke-width="1"/>
<path d="M931,302h0M931.6,300h0M932.3,298.5h0M933,297h0M934.5,295.5h0M936,296h0M937.6,298h0" stroke="#f00" stroke-width="5.5" stroke-linecap="round" fill="none"/>
<rect x="79.5" y="15.5" width="906.0" height="527.0" fill="none" stroke="#000" stroke-width="1.11"/>
<path d="M159.5,542.5v4.86M245.5,542.5v4.86M330.5,542.5v4.86M416.5,542.5v4.86M502.5,542.5v4.86M587.5,542.5v4.86M673.5,542.5v4.86M759.5,542.5v4.86M845.5,542.5v4.86M930.5,542.5v4.86M79.5,518.5h-4.86M79.5,402.5h-4.86M79.5,286.5h-4.86M79.5,171.5h-4.86M79.5,55.5h-4.86" stroke="#000" stroke-width="1.11" fill="none"/>
<g font-family="'DejaVu Sans', 'Liberation Sans', sans-serif" font-size="13.89px" fill="#000">
<text x="159.5" y="561.9" text-anchor="middle">2017</text>
<text x="245.5" y="561.9" text-anchor="middle">2018</text>
<text x="330.5" y="561.9" text-anchor="middle">2019</text>
<text x="416.5" y="561.9" text-anchor="middle">2020</text>
<text x="502.5" y="561.9" text-anchor="middle">2021</text>
<text x="587.5" y="561.9" text-anchor="middle">2022</text>
<text x="673.5" y="561.9" text-anchor="middle">2023</text>
<text x="759.5" y="561.9" text-anchor="middle">2024</text>
<text x="845.5" y="561.9" text-anchor="middle">2025</text>
<text x="930.5" y="561.9" text-anchor="middle">2026</text>
<text x="69.8" y="523.8" text-anchor="end">0</text>
<text x="69.8" y="407.8" text-anchor="end">500</text>
<text x="69.8" y="291.8" text-anchor="end">1000</text>
<text x="69.8" y="176.8" text-anchor="end">1500</text>
<text x="69.8" y="60.8" text-anchor="end">2000</text>
<text x="532.5" y="581.5" text-anchor="middle">ds</text>
<text transform="translate(24.6,279) rotate(-90)" text-anchor="middle">y</text>
</g>
</svg>
</body></html>
